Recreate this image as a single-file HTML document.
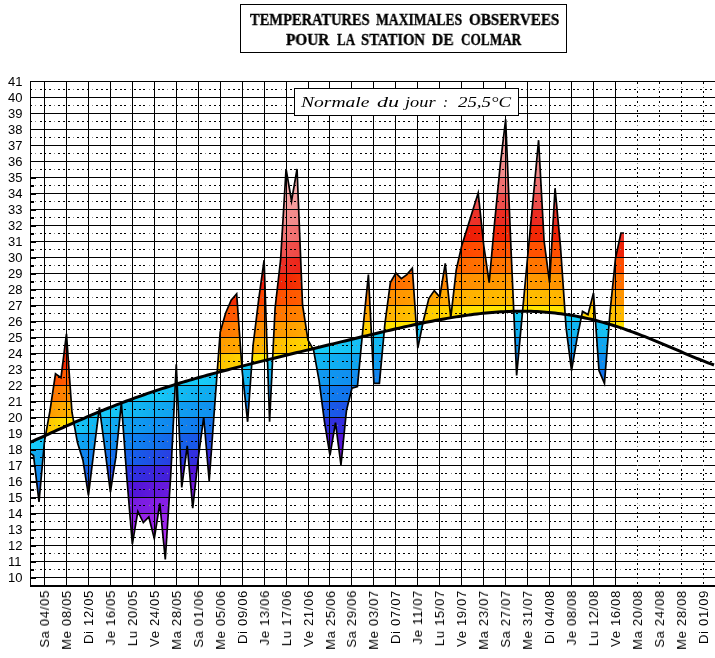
<!DOCTYPE html>
<html><head><meta charset="utf-8"><title>Temperatures maximales observees - Colmar</title><style>
html,body{margin:0;padding:0;background:#fff;}
body{width:715px;height:658px;position:relative;overflow:hidden;font-family:"Liberation Sans",sans-serif;}
#title{position:absolute;left:240px;top:4px;width:325px;height:47px;border:1px solid #000;}
.tw{position:absolute;font-family:"Liberation Serif",serif;font-weight:bold;font-size:16px;-webkit-text-stroke:0.35px #000;line-height:normal;white-space:nowrap;transform-origin:0 0;color:#000;}
.nw{position:absolute;font-family:"Liberation Serif",serif;font-style:italic;font-size:15px;line-height:normal;white-space:nowrap;transform-origin:0 0;color:#000;}
#norm{position:absolute;left:294px;top:88px;width:223px;height:26px;border:1px solid #000;background:#fff;}
.yl{position:absolute;left:8px;font-size:13px;line-height:13px;color:#000;}
.yl,.xl,.tw,.nw{will-change:transform;}
.xl{position:absolute;font-size:13px;line-height:13px;width:13px;letter-spacing:0.7px;color:#000;white-space:nowrap;writing-mode:vertical-rl;transform:rotate(180deg);}
</style></head><body>
<svg width="715" height="658" viewBox="0 0 715 658" style="position:absolute;left:0;top:0">
<defs>
<clipPath id="cw"><path d="M30.00,442.37 L30.50,442.15 L31.00,441.93 L31.50,441.71 L32.00,441.49 L32.50,441.27 L33.00,441.04 L33.50,440.82 L33.53,440.81 L34.00,440.60 L34.50,440.38 L35.00,440.15 L35.50,439.93 L36.00,439.71 L36.50,439.48 L37.00,439.26 L37.50,439.03 L38.00,438.81 L38.50,438.59 L39.00,438.36 L39.02,438.35 L39.50,438.14 L40.00,437.91 L40.50,437.69 L41.00,437.46 L41.50,437.24 L42.00,437.01 L42.50,436.79 L43.00,436.56 L43.50,436.34 L44.00,436.11 L44.50,435.89 L44.51,435.88 L45.00,435.66 L45.50,435.43 L45.52,435.43 L46.00,432.75 L46.50,429.98 L47.00,427.21 L47.50,424.44 L48.00,421.67 L48.50,418.91 L49.00,416.14 L49.50,413.37 L50.00,410.60 L50.00,410.60 L50.50,407.25 L51.00,403.90 L51.50,400.54 L52.00,397.19 L52.50,393.84 L53.00,390.49 L53.50,387.14 L54.00,383.79 L54.50,380.43 L55.00,377.08 L55.49,373.80 L55.50,373.81 L56.00,374.17 L56.50,374.54 L57.00,374.90 L57.50,375.26 L58.00,375.63 L58.50,375.99 L59.00,376.36 L59.50,376.72 L60.00,377.09 L60.50,377.45 L60.98,377.80 L61.00,377.63 L61.50,373.63 L62.00,369.62 L62.50,365.61 L63.00,361.61 L63.50,357.60 L64.00,353.59 L64.50,349.58 L65.00,345.58 L65.50,341.57 L66.00,337.56 L66.47,333.80 L66.50,334.24 L67.00,341.38 L67.50,348.52 L68.00,355.66 L68.50,362.80 L69.00,369.94 L69.50,377.08 L70.00,384.22 L70.50,391.36 L71.00,398.50 L71.50,405.65 L71.96,412.20 L72.00,412.43 L72.50,415.20 L73.00,417.96 L73.50,420.73 L73.86,422.71 L74.00,422.65 L74.50,422.43 L75.00,422.20 L75.50,421.98 L76.00,421.76 L76.50,421.55 L77.00,421.33 L77.45,421.13 L77.50,421.11 L78.00,420.89 L78.50,420.67 L79.00,420.45 L79.50,420.23 L80.00,420.01 L80.50,419.80 L81.00,419.58 L81.50,419.36 L82.00,419.14 L82.50,418.93 L82.94,418.74 L83.00,418.71 L83.50,418.50 L84.00,418.28 L84.50,418.06 L85.00,417.85 L85.50,417.63 L86.00,417.42 L86.50,417.20 L87.00,416.99 L87.50,416.77 L88.00,416.56 L88.43,416.38 L88.50,416.35 L89.00,416.13 L89.50,415.92 L90.00,415.71 L90.50,415.50 L91.00,415.28 L91.50,415.07 L92.00,414.86 L92.50,414.65 L93.00,414.44 L93.50,414.23 L93.92,414.05 L94.00,414.02 L94.50,413.81 L95.00,413.60 L95.50,413.39 L96.00,413.18 L96.50,412.97 L97.00,412.76 L97.50,412.56 L98.00,412.35 L98.50,412.14 L98.82,412.01 L99.00,410.61 L99.41,407.40 L99.50,408.10 L99.95,411.54 L100.00,411.52 L100.50,411.31 L101.00,411.11 L101.50,410.90 L102.00,410.70 L102.50,410.49 L103.00,410.29 L103.50,410.08 L104.00,409.88 L104.50,409.68 L104.90,409.52 L105.00,409.47 L105.50,409.27 L106.00,409.07 L106.50,408.87 L107.00,408.67 L107.50,408.46 L108.00,408.26 L108.50,408.06 L109.00,407.86 L109.50,407.66 L110.00,407.46 L110.39,407.31 L110.50,407.26 L111.00,407.06 L111.50,406.87 L112.00,406.67 L112.50,406.47 L113.00,406.27 L113.50,406.07 L114.00,405.88 L114.50,405.68 L115.00,405.49 L115.50,405.29 L115.88,405.14 L116.00,405.09 L116.50,404.90 L117.00,404.70 L117.50,404.51 L118.00,404.32 L118.50,404.12 L119.00,403.93 L119.50,403.74 L120.00,403.54 L120.50,403.35 L121.00,403.16 L121.32,403.04 L121.37,402.60 L121.40,403.01 L121.50,402.97 L122.00,402.78 L122.50,402.59 L123.00,402.40 L123.50,402.21 L124.00,402.02 L124.50,401.83 L125.00,401.64 L125.50,401.45 L126.00,401.26 L126.50,401.08 L126.86,400.94 L127.00,400.89 L127.50,400.70 L128.00,400.52 L128.50,400.33 L129.00,400.14 L129.50,399.96 L130.00,399.77 L130.50,399.59 L131.00,399.40 L131.50,399.22 L132.00,399.04 L132.35,398.91 L132.50,398.85 L133.00,398.67 L133.50,398.49 L134.00,398.31 L134.50,398.12 L135.00,397.94 L135.50,397.76 L136.00,397.58 L136.50,397.40 L137.00,397.22 L137.50,397.04 L137.84,396.92 L138.00,396.86 L138.50,396.68 L139.00,396.51 L139.50,396.33 L140.00,396.15 L140.50,395.97 L141.00,395.80 L141.50,395.62 L142.00,395.44 L142.50,395.27 L143.00,395.09 L143.33,394.98 L143.50,394.92 L144.00,394.74 L144.50,394.57 L145.00,394.39 L145.50,394.22 L146.00,394.05 L146.50,393.87 L147.00,393.70 L147.50,393.53 L148.00,393.36 L148.50,393.18 L148.82,393.08 L149.00,393.01 L149.50,392.84 L150.00,392.67 L150.50,392.50 L151.00,392.33 L151.50,392.16 L152.00,391.99 L152.50,391.82 L153.00,391.66 L153.50,391.49 L154.00,391.32 L154.31,391.22 L154.50,391.15 L155.00,390.98 L155.50,390.82 L156.00,390.65 L156.50,390.49 L157.00,390.32 L157.50,390.15 L158.00,389.99 L158.50,389.83 L159.00,389.66 L159.50,389.50 L159.80,389.40 L160.00,389.33 L160.50,389.17 L161.00,389.01 L161.50,388.84 L162.00,388.68 L162.50,388.52 L163.00,388.36 L163.50,388.20 L164.00,388.04 L164.50,387.88 L165.00,387.72 L165.29,387.62 L165.50,387.56 L166.00,387.40 L166.50,387.24 L167.00,387.08 L167.50,386.92 L168.00,386.76 L168.50,386.60 L169.00,386.44 L169.50,386.29 L170.00,386.13 L170.50,385.97 L170.78,385.89 L171.00,385.82 L171.50,385.66 L172.00,385.50 L172.50,385.35 L173.00,385.19 L173.50,385.04 L174.00,384.88 L174.50,384.73 L175.00,384.58 L175.26,384.50 L175.50,379.59 L176.00,369.53 L176.27,364.20 L176.50,369.47 L177.00,380.69 L177.14,383.92 L177.50,383.81 L178.00,383.66 L178.50,383.51 L179.00,383.35 L179.50,383.20 L180.00,383.05 L180.50,382.90 L181.00,382.75 L181.50,382.60 L181.75,382.52 L182.00,382.45 L182.50,382.30 L183.00,382.15 L183.50,382.00 L184.00,381.85 L184.50,381.71 L185.00,381.56 L185.50,381.41 L186.00,381.26 L186.50,381.11 L187.00,380.97 L187.24,380.90 L187.50,380.82 L188.00,380.67 L188.50,380.53 L189.00,380.38 L189.50,380.24 L190.00,380.09 L190.50,379.95 L191.00,379.80 L191.50,379.66 L192.00,379.51 L192.50,379.37 L192.73,379.30 L193.00,379.22 L193.50,379.08 L194.00,378.94 L194.50,378.79 L195.00,378.65 L195.50,378.51 L196.00,378.36 L196.50,378.22 L197.00,378.08 L197.50,377.94 L198.00,377.80 L198.22,377.73 L198.50,377.65 L199.00,377.51 L199.50,377.37 L200.00,377.23 L200.50,377.09 L201.00,376.95 L201.50,376.81 L202.00,376.67 L202.50,376.53 L203.00,376.39 L203.50,376.25 L203.71,376.20 L204.00,376.12 L204.50,375.98 L205.00,375.84 L205.50,375.70 L206.00,375.56 L206.50,375.43 L207.00,375.29 L207.50,375.15 L208.00,375.01 L208.50,374.88 L209.00,374.74 L209.20,374.68 L209.50,374.60 L210.00,374.47 L210.50,374.33 L211.00,374.20 L211.50,374.06 L212.00,373.92 L212.50,373.79 L213.00,373.65 L213.50,373.52 L214.00,373.38 L214.50,373.25 L214.69,373.20 L215.00,373.12 L215.50,372.98 L216.00,372.85 L216.50,372.71 L217.00,372.58 L217.18,372.53 L217.50,368.18 L218.00,361.47 L218.50,354.77 L219.00,348.07 L219.50,341.36 L220.00,334.66 L220.18,332.20 L220.50,331.09 L221.00,329.34 L221.50,327.60 L222.00,325.85 L222.50,324.10 L223.00,322.35 L223.50,320.60 L224.00,318.85 L224.50,317.10 L225.00,315.36 L225.50,313.61 L225.67,313.00 L226.00,312.24 L226.50,311.07 L227.00,309.91 L227.50,308.74 L228.00,307.58 L228.50,306.41 L229.00,305.24 L229.50,304.08 L230.00,302.91 L230.50,301.75 L231.00,300.58 L231.16,300.20 L231.50,299.81 L232.00,299.22 L232.50,298.64 L233.00,298.06 L233.50,297.48 L234.00,296.89 L234.50,296.31 L235.00,295.73 L235.50,295.14 L236.00,294.56 L236.50,293.98 L236.65,293.80 L237.00,298.65 L237.50,305.65 L238.00,312.64 L238.50,319.64 L239.00,326.63 L239.50,333.63 L240.00,340.62 L240.50,347.62 L241.00,354.61 L241.50,361.61 L241.82,366.14 L242.00,366.10 L242.14,366.06 L242.50,365.97 L243.00,365.85 L243.50,365.72 L244.00,365.59 L244.50,365.47 L245.00,365.34 L245.50,365.22 L246.00,365.09 L246.50,364.96 L247.00,364.84 L247.50,364.71 L247.63,364.68 L248.00,364.59 L248.50,364.46 L249.00,364.34 L249.50,364.21 L250.00,364.09 L250.50,363.96 L251.00,363.84 L251.50,363.71 L251.79,363.64 L252.00,360.70 L252.50,353.71 L253.00,346.71 L253.12,345.00 L253.50,341.92 L254.00,337.84 L254.50,333.76 L255.00,329.68 L255.50,325.60 L256.00,321.52 L256.50,317.44 L257.00,313.36 L257.50,309.28 L258.00,305.20 L258.50,301.12 L258.61,300.20 L259.00,297.37 L259.50,293.73 L260.00,290.09 L260.50,286.45 L261.00,282.80 L261.50,279.16 L262.00,275.52 L262.50,271.87 L263.00,268.23 L263.50,264.59 L264.00,260.94 L264.10,260.20 L264.50,271.92 L265.00,286.63 L265.50,301.35 L266.00,316.07 L266.50,330.79 L267.00,345.51 L267.48,359.77 L267.50,359.76 L268.00,359.64 L268.50,359.52 L269.00,359.39 L269.50,359.27 L269.59,359.25 L270.00,359.15 L270.50,359.03 L271.00,358.90 L271.50,358.78 L272.00,358.66 L272.50,358.54 L272.65,358.50 L273.00,351.27 L273.50,340.93 L274.00,330.58 L274.50,320.24 L275.00,309.89 L275.08,308.20 L275.50,304.54 L276.00,300.17 L276.50,295.80 L277.00,291.43 L277.50,287.05 L278.00,282.68 L278.50,278.31 L279.00,273.94 L279.50,269.57 L280.00,265.20 L280.50,260.82 L280.57,260.20 L281.00,253.08 L281.50,244.77 L282.00,236.47 L282.50,228.16 L283.00,219.85 L283.50,211.55 L284.00,203.24 L284.50,194.94 L285.00,186.63 L285.50,178.32 L286.00,170.02 L286.06,169.00 L286.50,171.56 L287.00,174.47 L287.50,177.39 L288.00,180.30 L288.50,183.22 L289.00,186.13 L289.50,189.04 L290.00,191.96 L290.50,194.87 L291.00,197.79 L291.50,200.70 L291.55,201.00 L292.00,198.38 L292.50,195.47 L293.00,192.55 L293.50,189.64 L294.00,186.72 L294.50,183.81 L295.00,180.90 L295.50,177.98 L296.00,175.07 L296.50,172.15 L297.00,169.24 L297.04,169.00 L297.50,180.38 L298.00,192.76 L298.50,205.15 L299.00,217.54 L299.50,229.92 L300.00,242.31 L300.50,254.70 L301.00,267.08 L301.50,279.47 L302.00,291.86 L302.50,304.24 L302.53,305.00 L303.00,308.01 L303.50,311.22 L304.00,314.42 L304.50,317.63 L305.00,320.83 L305.50,324.04 L306.00,327.25 L306.50,330.45 L307.00,333.66 L307.50,336.86 L308.00,340.07 L308.02,340.20 L308.50,341.04 L309.00,341.91 L309.50,342.79 L310.00,343.66 L310.50,344.54 L311.00,345.41 L311.50,346.28 L312.00,347.16 L312.50,348.03 L312.89,348.72 L313.00,348.69 L313.50,348.57 L313.51,348.57 L314.00,348.45 L314.50,348.33 L315.00,348.21 L315.50,348.09 L316.00,347.97 L316.50,347.85 L317.00,347.72 L317.50,347.60 L318.00,347.48 L318.50,347.36 L319.00,347.24 L319.50,347.12 L320.00,346.99 L320.50,346.87 L321.00,346.75 L321.50,346.63 L322.00,346.51 L322.50,346.39 L323.00,346.27 L323.50,346.14 L324.00,346.02 L324.49,345.90 L324.50,345.90 L325.00,345.78 L325.50,345.66 L326.00,345.54 L326.50,345.42 L327.00,345.29 L327.50,345.17 L328.00,345.05 L328.50,344.93 L329.00,344.81 L329.50,344.69 L329.98,344.57 L330.00,344.56 L330.50,344.44 L331.00,344.32 L331.50,344.20 L332.00,344.08 L332.50,343.96 L333.00,343.84 L333.50,343.71 L334.00,343.59 L334.50,343.47 L335.00,343.35 L335.47,343.24 L335.50,343.23 L336.00,343.11 L336.50,342.99 L337.00,342.86 L337.50,342.74 L338.00,342.62 L338.50,342.50 L339.00,342.38 L339.50,342.26 L340.00,342.14 L340.50,342.01 L340.96,341.90 L341.00,341.89 L341.50,341.77 L342.00,341.65 L342.50,341.53 L343.00,341.41 L343.50,341.29 L344.00,341.16 L344.50,341.04 L345.00,340.92 L345.50,340.80 L346.00,340.68 L346.45,340.57 L346.50,340.56 L347.00,340.44 L347.50,340.32 L348.00,340.19 L348.50,340.07 L349.00,339.95 L349.50,339.83 L350.00,339.71 L350.50,339.59 L351.00,339.47 L351.50,339.35 L351.94,339.24 L352.00,339.23 L352.50,339.10 L353.00,338.98 L353.50,338.86 L354.00,338.74 L354.50,338.62 L355.00,338.50 L355.50,338.38 L356.00,338.26 L356.50,338.14 L357.00,338.02 L357.43,337.91 L357.50,337.90 L358.00,337.78 L358.50,337.66 L359.00,337.53 L359.50,337.41 L360.00,337.29 L360.50,337.17 L361.00,337.05 L361.50,336.93 L362.00,336.81 L362.18,336.77 L362.50,333.39 L362.92,329.00 L363.00,328.19 L363.50,323.24 L364.00,318.28 L364.50,313.33 L365.00,308.37 L365.50,303.42 L366.00,298.46 L366.50,293.51 L367.00,288.55 L367.50,283.60 L368.00,278.64 L368.41,274.60 L368.50,276.42 L369.00,286.33 L369.50,296.24 L370.00,306.15 L370.50,316.06 L371.00,325.97 L371.43,334.55 L371.50,334.54 L372.00,334.42 L372.50,334.30 L373.00,334.18 L373.50,334.06 L373.90,333.97 L374.00,333.94 L374.50,333.83 L375.00,333.71 L375.50,333.59 L376.00,333.47 L376.50,333.35 L377.00,333.23 L377.50,333.11 L378.00,333.00 L378.50,332.88 L379.00,332.76 L379.39,332.67 L379.50,332.64 L380.00,332.53 L380.50,332.41 L381.00,332.29 L381.50,332.17 L382.00,332.06 L382.50,331.94 L383.00,331.82 L383.50,331.70 L384.00,331.59 L384.20,331.54 L384.50,328.27 L384.88,324.20 L385.00,323.27 L385.50,319.48 L386.00,315.69 L386.50,311.91 L387.00,308.12 L387.50,304.33 L388.00,300.54 L388.50,296.75 L389.00,292.96 L389.50,289.17 L390.00,285.38 L390.37,282.60 L390.50,282.37 L391.00,281.49 L391.50,280.62 L392.00,279.75 L392.50,278.87 L393.00,278.00 L393.50,277.12 L394.00,276.25 L394.50,275.37 L395.00,274.50 L395.50,273.62 L395.86,273.00 L396.00,273.15 L396.50,273.66 L397.00,274.17 L397.50,274.68 L398.00,275.19 L398.50,275.70 L399.00,276.21 L399.50,276.72 L400.00,277.23 L400.50,277.74 L401.00,278.25 L401.35,278.60 L401.50,278.49 L402.00,278.12 L402.50,277.76 L403.00,277.40 L403.50,277.03 L404.00,276.67 L404.50,276.30 L405.00,275.94 L405.50,275.57 L406.00,275.21 L406.50,274.85 L406.84,274.60 L407.00,274.41 L407.50,273.83 L408.00,273.24 L408.50,272.66 L409.00,272.08 L409.50,271.50 L410.00,270.91 L410.50,270.33 L411.00,269.75 L411.50,269.16 L412.00,268.58 L412.33,268.20 L412.50,270.73 L413.00,278.01 L413.50,285.30 L414.00,292.59 L414.50,299.87 L415.00,307.16 L415.50,314.44 L416.00,321.73 L416.18,324.38 L416.50,324.31 L417.00,324.20 L417.50,324.10 L417.82,324.03 L418.00,323.99 L418.50,323.89 L419.00,323.78 L419.50,323.68 L420.00,323.57 L420.50,323.47 L421.00,323.37 L421.50,323.26 L422.00,323.16 L422.50,323.06 L422.91,322.97 L423.00,322.52 L423.31,321.00 L423.50,320.21 L424.00,318.17 L424.50,316.13 L425.00,314.09 L425.50,312.05 L426.00,310.01 L426.50,307.97 L427.00,305.93 L427.50,303.89 L428.00,301.85 L428.50,299.81 L428.80,298.60 L429.00,298.30 L429.50,297.57 L430.00,296.85 L430.50,296.12 L431.00,295.39 L431.50,294.66 L432.00,293.93 L432.50,293.20 L433.00,292.47 L433.50,291.75 L434.00,291.02 L434.29,290.60 L434.50,290.85 L435.00,291.43 L435.50,292.02 L436.00,292.60 L436.50,293.18 L437.00,293.76 L437.50,294.35 L438.00,294.93 L438.50,295.51 L439.00,296.10 L439.50,296.68 L439.78,297.00 L440.00,295.63 L440.50,292.57 L441.00,289.51 L441.50,286.45 L442.00,283.39 L442.50,280.33 L443.00,277.27 L443.50,274.21 L444.00,271.14 L444.50,268.08 L445.00,265.02 L445.27,263.40 L445.50,265.72 L446.00,270.68 L446.50,275.63 L447.00,280.59 L447.50,285.54 L448.00,290.50 L448.50,295.45 L449.00,300.41 L449.50,305.36 L450.00,310.32 L450.50,315.27 L450.75,317.75 L450.76,317.75 L450.76,317.75 L451.00,315.66 L451.50,311.29 L452.00,306.92 L452.50,302.54 L453.00,298.17 L453.50,293.80 L454.00,289.43 L454.50,285.06 L455.00,280.69 L455.50,276.31 L456.00,271.94 L456.24,269.80 L456.50,268.69 L457.00,266.50 L457.50,264.31 L458.00,262.13 L458.50,259.94 L459.00,257.76 L459.50,255.57 L460.00,253.38 L460.50,251.20 L461.00,249.01 L461.50,246.83 L461.73,245.80 L462.00,244.95 L462.50,243.35 L463.00,241.74 L463.50,240.14 L464.00,238.54 L464.50,236.93 L465.00,235.33 L465.50,233.73 L466.00,232.13 L466.50,230.52 L467.00,228.92 L467.22,228.20 L467.50,227.32 L468.00,225.71 L468.50,224.11 L469.00,222.51 L469.50,220.91 L470.00,219.30 L470.50,217.70 L471.00,216.10 L471.50,214.49 L472.00,212.89 L472.50,211.29 L472.71,210.60 L473.00,209.68 L473.50,208.08 L474.00,206.48 L474.50,204.88 L475.00,203.27 L475.50,201.67 L476.00,200.07 L476.50,198.46 L477.00,196.86 L477.50,195.26 L478.00,193.65 L478.20,193.00 L478.50,195.80 L479.00,200.54 L479.50,205.27 L480.00,210.01 L480.50,214.75 L481.00,219.48 L481.50,224.22 L482.00,228.95 L482.50,233.69 L483.00,238.43 L483.50,243.16 L483.69,245.00 L484.00,247.10 L484.50,250.52 L485.00,253.94 L485.50,257.37 L486.00,260.79 L486.50,264.22 L487.00,267.64 L487.50,271.07 L488.00,274.49 L488.50,277.92 L489.00,281.34 L489.18,282.60 L489.50,279.10 L490.00,273.56 L490.50,268.02 L491.00,262.49 L491.50,256.95 L492.00,251.41 L492.50,245.87 L493.00,240.34 L493.50,234.80 L494.00,229.26 L494.50,223.72 L494.67,221.80 L495.00,218.47 L495.50,213.37 L496.00,208.27 L496.50,203.17 L497.00,198.07 L497.50,192.97 L498.00,187.87 L498.50,182.77 L499.00,177.67 L499.50,172.57 L500.00,167.47 L500.16,165.80 L500.50,162.96 L501.00,158.73 L501.50,154.50 L502.00,150.28 L502.50,146.05 L503.00,141.82 L503.50,137.60 L504.00,133.37 L504.50,129.15 L505.00,124.92 L505.50,120.69 L505.65,119.40 L506.00,127.79 L506.50,139.88 L507.00,151.98 L507.50,164.07 L508.00,176.17 L508.50,188.26 L509.00,200.36 L509.50,212.46 L510.00,224.55 L510.50,236.65 L511.00,248.74 L511.14,252.20 L511.50,260.21 L512.00,271.43 L512.50,282.65 L513.00,293.87 L513.50,305.09 L513.78,311.31 L514.00,311.30 L514.50,311.29 L515.00,311.28 L515.50,311.27 L516.00,311.26 L516.50,311.26 L516.63,311.26 L517.00,311.25 L517.50,311.24 L518.00,311.24 L518.50,311.23 L519.00,311.23 L519.50,311.23 L520.00,311.22 L520.50,311.22 L521.00,311.22 L521.50,311.22 L522.00,311.22 L522.12,311.22 L522.50,311.22 L522.58,311.22 L523.00,306.74 L523.50,301.35 L524.00,295.95 L524.50,290.56 L525.00,285.17 L525.50,279.78 L526.00,274.39 L526.50,269.00 L527.00,263.60 L527.50,258.21 L527.61,257.00 L528.00,252.93 L528.50,247.69 L529.00,242.44 L529.50,237.19 L530.00,231.95 L530.50,226.70 L531.00,221.46 L531.50,216.21 L532.00,210.96 L532.50,205.72 L533.00,200.47 L533.10,199.40 L533.50,195.11 L534.00,189.72 L534.50,184.33 L535.00,178.93 L535.50,173.54 L536.00,168.15 L536.50,162.76 L537.00,157.37 L537.50,151.98 L538.00,146.58 L538.50,141.19 L538.59,140.20 L539.00,147.69 L539.50,156.87 L540.00,166.05 L540.50,175.23 L541.00,184.41 L541.50,193.59 L542.00,202.78 L542.50,211.96 L543.00,221.14 L543.50,230.32 L544.00,239.50 L544.08,241.00 L544.50,244.17 L545.00,247.96 L545.50,251.75 L546.00,255.54 L546.50,259.32 L547.00,263.11 L547.50,266.90 L548.00,270.69 L548.50,274.48 L549.00,278.27 L549.50,282.06 L549.57,282.60 L550.00,275.23 L550.50,266.64 L551.00,258.04 L551.50,249.44 L552.00,240.84 L552.50,232.24 L553.00,223.65 L553.50,215.05 L554.00,206.45 L554.50,197.85 L555.00,189.26 L555.06,188.20 L555.50,192.93 L556.00,198.32 L556.50,203.71 L557.00,209.11 L557.50,214.50 L558.00,219.89 L558.50,225.28 L559.00,230.67 L559.50,236.06 L560.00,241.46 L560.50,246.85 L560.55,247.40 L561.00,253.94 L561.50,261.23 L562.00,268.51 L562.50,275.80 L563.00,283.09 L563.50,290.37 L564.00,297.66 L564.50,304.94 L565.00,312.23 L565.15,314.34 L565.50,314.40 L566.00,314.47 L566.04,314.48 L566.50,314.55 L567.00,314.62 L567.50,314.70 L568.00,314.78 L568.50,314.85 L569.00,314.93 L569.50,315.01 L570.00,315.10 L570.50,315.18 L571.00,315.26 L571.50,315.35 L571.53,315.35 L572.00,315.43 L572.50,315.52 L573.00,315.60 L573.50,315.69 L574.00,315.78 L574.50,315.87 L575.00,315.96 L575.50,316.05 L576.00,316.14 L576.50,316.23 L577.00,316.33 L577.02,316.33 L577.50,316.42 L578.00,316.52 L578.50,316.61 L579.00,316.71 L579.50,316.81 L580.00,316.91 L580.50,317.01 L581.00,317.11 L581.34,317.18 L581.50,316.41 L582.00,313.93 L582.50,311.45 L582.51,311.40 L583.00,311.69 L583.50,311.98 L584.00,312.27 L584.50,312.56 L585.00,312.85 L585.50,313.14 L586.00,313.43 L586.50,313.73 L587.00,314.02 L587.50,314.31 L588.00,314.60 L588.00,314.60 L588.50,312.63 L589.00,310.67 L589.50,308.70 L590.00,306.73 L590.50,304.76 L591.00,302.80 L591.50,300.83 L592.00,298.86 L592.50,296.90 L593.00,294.93 L593.49,293.00 L593.50,293.14 L594.00,300.21 L594.50,307.28 L595.00,314.34 L595.43,320.39 L595.50,320.41 L596.00,320.54 L596.50,320.67 L597.00,320.79 L597.50,320.92 L598.00,321.05 L598.50,321.19 L598.98,321.31 L599.00,321.32 L599.50,321.45 L600.00,321.58 L600.50,321.72 L601.00,321.85 L601.50,321.99 L602.00,322.13 L602.50,322.26 L603.00,322.40 L603.50,322.54 L604.00,322.68 L604.47,322.82 L604.50,322.82 L605.00,322.97 L605.50,323.11 L606.00,323.25 L606.50,323.40 L607.00,323.54 L607.50,323.69 L608.00,323.83 L608.50,323.98 L609.00,324.13 L609.09,324.16 L609.50,318.89 L609.96,313.00 L610.00,312.60 L610.50,307.64 L611.00,302.69 L611.50,297.73 L612.00,292.78 L612.50,287.82 L613.00,282.87 L613.50,277.92 L614.00,272.96 L614.50,268.01 L615.00,263.05 L615.45,258.60 L615.50,258.36 L616.00,256.03 L616.50,253.70 L617.00,251.37 L617.50,249.04 L618.00,246.71 L618.50,244.37 L619.00,242.04 L619.50,239.71 L620.00,237.38 L620.50,235.05 L620.94,233.00 L621.00,233.00 L621.50,233.00 L622.00,233.00 L622.50,233.00 L623.00,233.00 L623.50,233.00 L624.00,233.00 L624.00,328.94 L623.50,328.77 L623.00,328.60 L622.50,328.43 L622.00,328.26 L621.50,328.09 L621.00,327.93 L620.94,327.91 L620.50,327.76 L620.00,327.59 L619.50,327.43 L619.00,327.26 L618.50,327.10 L618.00,326.94 L617.50,326.77 L617.00,326.61 L616.50,326.45 L616.00,326.29 L615.50,326.13 L615.45,326.12 L615.00,325.97 L614.50,325.82 L614.00,325.66 L613.50,325.50 L613.00,325.35 L612.50,325.19 L612.00,325.04 L611.50,324.89 L611.00,324.73 L610.50,324.58 L610.00,324.43 L609.96,324.42 L609.50,324.28 L609.09,324.16 L609.00,324.13 L608.50,323.98 L608.00,323.83 L607.50,323.69 L607.00,323.54 L606.50,323.40 L606.00,323.25 L605.50,323.11 L605.00,322.97 L604.50,322.82 L604.47,322.82 L604.00,322.68 L603.50,322.54 L603.00,322.40 L602.50,322.26 L602.00,322.13 L601.50,321.99 L601.00,321.85 L600.50,321.72 L600.00,321.58 L599.50,321.45 L599.00,321.32 L598.98,321.31 L598.50,321.19 L598.00,321.05 L597.50,320.92 L597.00,320.79 L596.50,320.67 L596.00,320.54 L595.50,320.41 L595.43,320.39 L595.00,320.29 L594.50,320.16 L594.00,320.04 L593.50,319.91 L593.49,319.91 L593.00,319.79 L592.50,319.67 L592.00,319.55 L591.50,319.43 L591.00,319.31 L590.50,319.19 L590.00,319.07 L589.50,318.96 L589.00,318.84 L588.50,318.73 L588.00,318.61 L588.00,318.61 L587.50,318.50 L587.00,318.39 L586.50,318.27 L586.00,318.16 L585.50,318.05 L585.00,317.95 L584.50,317.84 L584.00,317.73 L583.50,317.63 L583.00,317.52 L582.51,317.42 L582.50,317.42 L582.00,317.31 L581.50,317.21 L581.34,317.18 L581.00,317.11 L580.50,317.01 L580.00,316.91 L579.50,316.81 L579.00,316.71 L578.50,316.61 L578.00,316.52 L577.50,316.42 L577.02,316.33 L577.00,316.33 L576.50,316.23 L576.00,316.14 L575.50,316.05 L575.00,315.96 L574.50,315.87 L574.00,315.78 L573.50,315.69 L573.00,315.60 L572.50,315.52 L572.00,315.43 L571.53,315.35 L571.50,315.35 L571.00,315.26 L570.50,315.18 L570.00,315.10 L569.50,315.01 L569.00,314.93 L568.50,314.85 L568.00,314.78 L567.50,314.70 L567.00,314.62 L566.50,314.55 L566.04,314.48 L566.00,314.47 L565.50,314.40 L565.15,314.34 L565.00,314.32 L564.50,314.25 L564.00,314.18 L563.50,314.11 L563.00,314.04 L562.50,313.97 L562.00,313.90 L561.50,313.83 L561.00,313.77 L560.55,313.71 L560.50,313.70 L560.00,313.64 L559.50,313.57 L559.00,313.51 L558.50,313.45 L558.00,313.39 L557.50,313.33 L557.00,313.27 L556.50,313.21 L556.00,313.15 L555.50,313.10 L555.06,313.05 L555.00,313.04 L554.50,312.99 L554.00,312.93 L553.50,312.88 L553.00,312.83 L552.50,312.77 L552.00,312.72 L551.50,312.67 L551.00,312.63 L550.50,312.58 L550.00,312.53 L549.57,312.49 L549.50,312.48 L549.00,312.44 L548.50,312.39 L548.00,312.35 L547.50,312.31 L547.00,312.27 L546.50,312.22 L546.00,312.18 L545.50,312.14 L545.00,312.11 L544.50,312.07 L544.08,312.04 L544.00,312.03 L543.50,312.00 L543.00,311.96 L542.50,311.93 L542.00,311.89 L541.50,311.86 L541.00,311.83 L540.50,311.80 L540.00,311.77 L539.50,311.74 L539.00,311.71 L538.59,311.69 L538.50,311.68 L538.00,311.65 L537.50,311.63 L537.00,311.60 L536.50,311.58 L536.00,311.55 L535.50,311.53 L535.00,311.51 L534.50,311.49 L534.00,311.47 L533.50,311.45 L533.10,311.43 L533.00,311.43 L532.50,311.41 L532.00,311.40 L531.50,311.38 L531.00,311.36 L530.50,311.35 L530.00,311.34 L529.50,311.32 L529.00,311.31 L528.50,311.30 L528.00,311.29 L527.61,311.28 L527.50,311.28 L527.00,311.27 L526.50,311.26 L526.00,311.25 L525.50,311.25 L525.00,311.24 L524.50,311.24 L524.00,311.23 L523.50,311.23 L523.00,311.22 L522.58,311.22 L522.50,311.22 L522.12,311.22 L522.00,311.22 L521.50,311.22 L521.00,311.22 L520.50,311.22 L520.00,311.22 L519.50,311.23 L519.00,311.23 L518.50,311.23 L518.00,311.24 L517.50,311.24 L517.00,311.25 L516.63,311.26 L516.50,311.26 L516.00,311.26 L515.50,311.27 L515.00,311.28 L514.50,311.29 L514.00,311.30 L513.78,311.31 L513.50,311.31 L513.00,311.33 L512.50,311.34 L512.00,311.35 L511.50,311.37 L511.14,311.38 L511.00,311.38 L510.50,311.40 L510.00,311.42 L509.50,311.43 L509.00,311.45 L508.50,311.47 L508.00,311.49 L507.50,311.51 L507.00,311.53 L506.50,311.55 L506.00,311.57 L505.65,311.59 L505.50,311.60 L505.00,311.62 L504.50,311.64 L504.00,311.67 L503.50,311.70 L503.00,311.72 L502.50,311.75 L502.00,311.78 L501.50,311.80 L501.00,311.83 L500.50,311.86 L500.16,311.88 L500.00,311.89 L499.50,311.92 L499.00,311.96 L498.50,311.99 L498.00,312.02 L497.50,312.06 L497.00,312.09 L496.50,312.13 L496.00,312.16 L495.50,312.20 L495.00,312.23 L494.67,312.26 L494.50,312.27 L494.00,312.31 L493.50,312.35 L493.00,312.39 L492.50,312.43 L492.00,312.47 L491.50,312.51 L491.00,312.55 L490.50,312.60 L490.00,312.64 L489.50,312.68 L489.18,312.71 L489.00,312.73 L488.50,312.77 L488.00,312.82 L487.50,312.86 L487.00,312.91 L486.50,312.96 L486.00,313.01 L485.50,313.06 L485.00,313.11 L484.50,313.16 L484.00,313.21 L483.69,313.24 L483.50,313.26 L483.00,313.31 L482.50,313.36 L482.00,313.41 L481.50,313.47 L481.00,313.52 L480.50,313.58 L480.00,313.63 L479.50,313.69 L479.00,313.74 L478.50,313.80 L478.20,313.83 L478.00,313.86 L477.50,313.92 L477.00,313.97 L476.50,314.03 L476.00,314.09 L475.50,314.15 L475.00,314.21 L474.50,314.27 L474.00,314.34 L473.50,314.40 L473.00,314.46 L472.71,314.50 L472.50,314.52 L472.00,314.59 L471.50,314.65 L471.00,314.72 L470.50,314.78 L470.00,314.85 L469.50,314.91 L469.00,314.98 L468.50,315.05 L468.00,315.12 L467.50,315.19 L467.22,315.22 L467.00,315.25 L466.50,315.32 L466.00,315.39 L465.50,315.46 L465.00,315.54 L464.50,315.61 L464.00,315.68 L463.50,315.75 L463.00,315.82 L462.50,315.90 L462.00,315.97 L461.73,316.01 L461.50,316.04 L461.00,316.12 L460.50,316.19 L460.00,316.27 L459.50,316.35 L459.00,316.42 L458.50,316.50 L458.00,316.58 L457.50,316.65 L457.00,316.73 L456.50,316.81 L456.24,316.85 L456.00,316.89 L455.50,316.97 L455.00,317.05 L454.50,317.13 L454.00,317.21 L453.50,317.29 L453.00,317.38 L452.50,317.46 L452.00,317.54 L451.50,317.62 L451.00,317.71 L450.76,317.75 L450.76,317.75 L450.75,317.75 L450.50,317.79 L450.00,317.87 L449.50,317.96 L449.00,318.04 L448.50,318.13 L448.00,318.22 L447.50,318.30 L447.00,318.39 L446.50,318.48 L446.00,318.56 L445.50,318.65 L445.27,318.69 L445.00,318.74 L444.50,318.83 L444.00,318.92 L443.50,319.01 L443.00,319.09 L442.50,319.18 L442.00,319.28 L441.50,319.37 L441.00,319.46 L440.50,319.55 L440.00,319.64 L439.78,319.68 L439.50,319.73 L439.00,319.83 L438.50,319.92 L438.00,320.01 L437.50,320.10 L437.00,320.20 L436.50,320.29 L436.00,320.39 L435.50,320.48 L435.00,320.58 L434.50,320.67 L434.29,320.71 L434.00,320.77 L433.50,320.86 L433.00,320.96 L432.50,321.06 L432.00,321.16 L431.50,321.25 L431.00,321.35 L430.50,321.45 L430.00,321.55 L429.50,321.65 L429.00,321.74 L428.80,321.78 L428.50,321.84 L428.00,321.94 L427.50,322.04 L427.00,322.14 L426.50,322.24 L426.00,322.34 L425.50,322.45 L425.00,322.55 L424.50,322.65 L424.00,322.75 L423.50,322.85 L423.31,322.89 L423.00,322.95 L422.91,322.97 L422.50,323.06 L422.00,323.16 L421.50,323.26 L421.00,323.37 L420.50,323.47 L420.00,323.57 L419.50,323.68 L419.00,323.78 L418.50,323.89 L418.00,323.99 L417.82,324.03 L417.50,324.10 L417.00,324.20 L416.50,324.31 L416.18,324.38 L416.00,324.41 L415.50,324.52 L415.00,324.63 L414.50,324.73 L414.00,324.84 L413.50,324.95 L413.00,325.05 L412.50,325.16 L412.33,325.20 L412.00,325.27 L411.50,325.38 L411.00,325.49 L410.50,325.59 L410.00,325.70 L409.50,325.81 L409.00,325.92 L408.50,326.03 L408.00,326.14 L407.50,326.25 L407.00,326.36 L406.84,326.39 L406.50,326.47 L406.00,326.58 L405.50,326.69 L405.00,326.80 L404.50,326.91 L404.00,327.02 L403.50,327.13 L403.00,327.24 L402.50,327.35 L402.00,327.47 L401.50,327.58 L401.35,327.61 L401.00,327.69 L400.50,327.80 L400.00,327.91 L399.50,328.03 L399.00,328.14 L398.50,328.25 L398.00,328.37 L397.50,328.48 L397.00,328.59 L396.50,328.71 L396.00,328.82 L395.86,328.85 L395.50,328.93 L395.00,329.05 L394.50,329.16 L394.00,329.28 L393.50,329.39 L393.00,329.50 L392.50,329.62 L392.00,329.73 L391.50,329.85 L391.00,329.96 L390.50,330.08 L390.37,330.11 L390.00,330.19 L389.50,330.31 L389.00,330.42 L388.50,330.54 L388.00,330.66 L387.50,330.77 L387.00,330.89 L386.50,331.00 L386.00,331.12 L385.50,331.24 L385.00,331.35 L384.88,331.38 L384.50,331.47 L384.20,331.54 L384.00,331.59 L383.50,331.70 L383.00,331.82 L382.50,331.94 L382.00,332.06 L381.50,332.17 L381.00,332.29 L380.50,332.41 L380.00,332.53 L379.50,332.64 L379.39,332.67 L379.00,332.76 L378.50,332.88 L378.00,333.00 L377.50,333.11 L377.00,333.23 L376.50,333.35 L376.00,333.47 L375.50,333.59 L375.00,333.71 L374.50,333.83 L374.00,333.94 L373.90,333.97 L373.50,334.06 L373.00,334.18 L372.50,334.30 L372.00,334.42 L371.50,334.54 L371.43,334.55 L371.00,334.66 L370.50,334.78 L370.00,334.90 L369.50,335.02 L369.00,335.13 L368.50,335.25 L368.41,335.28 L368.00,335.37 L367.50,335.49 L367.00,335.61 L366.50,335.73 L366.00,335.85 L365.50,335.97 L365.00,336.09 L364.50,336.21 L364.00,336.33 L363.50,336.45 L363.00,336.57 L362.92,336.59 L362.50,336.69 L362.18,336.77 L362.00,336.81 L361.50,336.93 L361.00,337.05 L360.50,337.17 L360.00,337.29 L359.50,337.41 L359.00,337.53 L358.50,337.66 L358.00,337.78 L357.50,337.90 L357.43,337.91 L357.00,338.02 L356.50,338.14 L356.00,338.26 L355.50,338.38 L355.00,338.50 L354.50,338.62 L354.00,338.74 L353.50,338.86 L353.00,338.98 L352.50,339.10 L352.00,339.23 L351.94,339.24 L351.50,339.35 L351.00,339.47 L350.50,339.59 L350.00,339.71 L349.50,339.83 L349.00,339.95 L348.50,340.07 L348.00,340.19 L347.50,340.32 L347.00,340.44 L346.50,340.56 L346.45,340.57 L346.00,340.68 L345.50,340.80 L345.00,340.92 L344.50,341.04 L344.00,341.16 L343.50,341.29 L343.00,341.41 L342.50,341.53 L342.00,341.65 L341.50,341.77 L341.00,341.89 L340.96,341.90 L340.50,342.01 L340.00,342.14 L339.50,342.26 L339.00,342.38 L338.50,342.50 L338.00,342.62 L337.50,342.74 L337.00,342.86 L336.50,342.99 L336.00,343.11 L335.50,343.23 L335.47,343.24 L335.00,343.35 L334.50,343.47 L334.00,343.59 L333.50,343.71 L333.00,343.84 L332.50,343.96 L332.00,344.08 L331.50,344.20 L331.00,344.32 L330.50,344.44 L330.00,344.56 L329.98,344.57 L329.50,344.69 L329.00,344.81 L328.50,344.93 L328.00,345.05 L327.50,345.17 L327.00,345.29 L326.50,345.42 L326.00,345.54 L325.50,345.66 L325.00,345.78 L324.50,345.90 L324.49,345.90 L324.00,346.02 L323.50,346.14 L323.00,346.27 L322.50,346.39 L322.00,346.51 L321.50,346.63 L321.00,346.75 L320.50,346.87 L320.00,346.99 L319.50,347.12 L319.00,347.24 L318.50,347.36 L318.00,347.48 L317.50,347.60 L317.00,347.72 L316.50,347.85 L316.00,347.97 L315.50,348.09 L315.00,348.21 L314.50,348.33 L314.00,348.45 L313.51,348.57 L313.50,348.57 L313.00,348.69 L312.89,348.72 L312.50,348.82 L312.00,348.94 L311.50,349.06 L311.00,349.18 L310.50,349.30 L310.00,349.42 L309.50,349.54 L309.00,349.67 L308.50,349.79 L308.02,349.90 L308.00,349.91 L307.50,350.03 L307.00,350.15 L306.50,350.27 L306.00,350.39 L305.50,350.52 L305.00,350.64 L304.50,350.76 L304.00,350.88 L303.50,351.00 L303.00,351.12 L302.53,351.24 L302.50,351.24 L302.00,351.36 L301.50,351.49 L301.00,351.61 L300.50,351.73 L300.00,351.85 L299.50,351.97 L299.00,352.09 L298.50,352.21 L298.00,352.34 L297.50,352.46 L297.04,352.57 L297.00,352.58 L296.50,352.70 L296.00,352.82 L295.50,352.94 L295.00,353.06 L294.50,353.18 L294.00,353.31 L293.50,353.43 L293.00,353.55 L292.50,353.67 L292.00,353.79 L291.55,353.90 L291.50,353.91 L291.00,354.03 L290.50,354.16 L290.00,354.28 L289.50,354.40 L289.00,354.52 L288.50,354.64 L288.00,354.76 L287.50,354.88 L287.00,355.01 L286.50,355.13 L286.06,355.23 L286.00,355.25 L285.50,355.37 L285.00,355.49 L284.50,355.61 L284.00,355.74 L283.50,355.86 L283.00,355.98 L282.50,356.10 L282.00,356.22 L281.50,356.34 L281.00,356.47 L280.57,356.57 L280.50,356.59 L280.00,356.71 L279.50,356.83 L279.00,356.95 L278.50,357.07 L278.00,357.20 L277.50,357.32 L277.00,357.44 L276.50,357.56 L276.00,357.68 L275.50,357.81 L275.08,357.91 L275.00,357.93 L274.50,358.05 L274.00,358.17 L273.50,358.29 L273.00,358.42 L272.65,358.50 L272.50,358.54 L272.00,358.66 L271.50,358.78 L271.00,358.90 L270.50,359.03 L270.00,359.15 L269.59,359.25 L269.50,359.27 L269.00,359.39 L268.50,359.52 L268.00,359.64 L267.50,359.76 L267.48,359.77 L267.00,359.88 L266.50,360.01 L266.00,360.13 L265.50,360.25 L265.00,360.38 L264.50,360.50 L264.10,360.60 L264.00,360.62 L263.50,360.74 L263.00,360.87 L262.50,360.99 L262.00,361.11 L261.50,361.24 L261.00,361.36 L260.50,361.48 L260.00,361.61 L259.50,361.73 L259.00,361.85 L258.61,361.95 L258.50,361.98 L258.00,362.10 L257.50,362.22 L257.00,362.35 L256.50,362.47 L256.00,362.60 L255.50,362.72 L255.00,362.84 L254.50,362.97 L254.00,363.09 L253.50,363.22 L253.12,363.31 L253.00,363.34 L252.50,363.46 L252.00,363.59 L251.79,363.64 L251.50,363.71 L251.00,363.84 L250.50,363.96 L250.00,364.09 L249.50,364.21 L249.00,364.34 L248.50,364.46 L248.00,364.59 L247.63,364.68 L247.50,364.71 L247.00,364.84 L246.50,364.96 L246.00,365.09 L245.50,365.22 L245.00,365.34 L244.50,365.47 L244.00,365.59 L243.50,365.72 L243.00,365.85 L242.50,365.97 L242.14,366.06 L242.00,366.10 L241.82,366.14 L241.50,366.22 L241.00,366.35 L240.50,366.48 L240.00,366.60 L239.50,366.73 L239.00,366.86 L238.50,366.99 L238.00,367.11 L237.50,367.24 L237.00,367.37 L236.65,367.46 L236.50,367.49 L236.00,367.62 L235.50,367.75 L235.00,367.88 L234.50,368.01 L234.00,368.13 L233.50,368.26 L233.00,368.39 L232.50,368.52 L232.00,368.65 L231.50,368.78 L231.16,368.86 L231.00,368.91 L230.50,369.04 L230.00,369.16 L229.50,369.29 L229.00,369.42 L228.50,369.55 L228.00,369.68 L227.50,369.81 L227.00,369.94 L226.50,370.07 L226.00,370.20 L225.67,370.29 L225.50,370.33 L225.00,370.47 L224.50,370.60 L224.00,370.73 L223.50,370.86 L223.00,370.99 L222.50,371.12 L222.00,371.25 L221.50,371.39 L221.00,371.52 L220.50,371.65 L220.18,371.73 L220.00,371.78 L219.50,371.91 L219.00,372.05 L218.50,372.18 L218.00,372.31 L217.50,372.45 L217.18,372.53 L217.00,372.58 L216.50,372.71 L216.00,372.85 L215.50,372.98 L215.00,373.12 L214.69,373.20 L214.50,373.25 L214.00,373.38 L213.50,373.52 L213.00,373.65 L212.50,373.79 L212.00,373.92 L211.50,374.06 L211.00,374.20 L210.50,374.33 L210.00,374.47 L209.50,374.60 L209.20,374.68 L209.00,374.74 L208.50,374.88 L208.00,375.01 L207.50,375.15 L207.00,375.29 L206.50,375.43 L206.00,375.56 L205.50,375.70 L205.00,375.84 L204.50,375.98 L204.00,376.12 L203.71,376.20 L203.50,376.25 L203.00,376.39 L202.50,376.53 L202.00,376.67 L201.50,376.81 L201.00,376.95 L200.50,377.09 L200.00,377.23 L199.50,377.37 L199.00,377.51 L198.50,377.65 L198.22,377.73 L198.00,377.80 L197.50,377.94 L197.00,378.08 L196.50,378.22 L196.00,378.36 L195.50,378.51 L195.00,378.65 L194.50,378.79 L194.00,378.94 L193.50,379.08 L193.00,379.22 L192.73,379.30 L192.50,379.37 L192.00,379.51 L191.50,379.66 L191.00,379.80 L190.50,379.95 L190.00,380.09 L189.50,380.24 L189.00,380.38 L188.50,380.53 L188.00,380.67 L187.50,380.82 L187.24,380.90 L187.00,380.97 L186.50,381.11 L186.00,381.26 L185.50,381.41 L185.00,381.56 L184.50,381.71 L184.00,381.85 L183.50,382.00 L183.00,382.15 L182.50,382.30 L182.00,382.45 L181.75,382.52 L181.50,382.60 L181.00,382.75 L180.50,382.90 L180.00,383.05 L179.50,383.20 L179.00,383.35 L178.50,383.51 L178.00,383.66 L177.50,383.81 L177.14,383.92 L177.00,383.96 L176.50,384.12 L176.27,384.19 L176.00,384.27 L175.50,384.42 L175.26,384.50 L175.00,384.58 L174.50,384.73 L174.00,384.88 L173.50,385.04 L173.00,385.19 L172.50,385.35 L172.00,385.50 L171.50,385.66 L171.00,385.82 L170.78,385.89 L170.50,385.97 L170.00,386.13 L169.50,386.29 L169.00,386.44 L168.50,386.60 L168.00,386.76 L167.50,386.92 L167.00,387.08 L166.50,387.24 L166.00,387.40 L165.50,387.56 L165.29,387.62 L165.00,387.72 L164.50,387.88 L164.00,388.04 L163.50,388.20 L163.00,388.36 L162.50,388.52 L162.00,388.68 L161.50,388.84 L161.00,389.01 L160.50,389.17 L160.00,389.33 L159.80,389.40 L159.50,389.50 L159.00,389.66 L158.50,389.83 L158.00,389.99 L157.50,390.15 L157.00,390.32 L156.50,390.49 L156.00,390.65 L155.50,390.82 L155.00,390.98 L154.50,391.15 L154.31,391.22 L154.00,391.32 L153.50,391.49 L153.00,391.66 L152.50,391.82 L152.00,391.99 L151.50,392.16 L151.00,392.33 L150.50,392.50 L150.00,392.67 L149.50,392.84 L149.00,393.01 L148.82,393.08 L148.50,393.18 L148.00,393.36 L147.50,393.53 L147.00,393.70 L146.50,393.87 L146.00,394.05 L145.50,394.22 L145.00,394.39 L144.50,394.57 L144.00,394.74 L143.50,394.92 L143.33,394.98 L143.00,395.09 L142.50,395.27 L142.00,395.44 L141.50,395.62 L141.00,395.80 L140.50,395.97 L140.00,396.15 L139.50,396.33 L139.00,396.51 L138.50,396.68 L138.00,396.86 L137.84,396.92 L137.50,397.04 L137.00,397.22 L136.50,397.40 L136.00,397.58 L135.50,397.76 L135.00,397.94 L134.50,398.12 L134.00,398.31 L133.50,398.49 L133.00,398.67 L132.50,398.85 L132.35,398.91 L132.00,399.04 L131.50,399.22 L131.00,399.40 L130.50,399.59 L130.00,399.77 L129.50,399.96 L129.00,400.14 L128.50,400.33 L128.00,400.52 L127.50,400.70 L127.00,400.89 L126.86,400.94 L126.50,401.08 L126.00,401.26 L125.50,401.45 L125.00,401.64 L124.50,401.83 L124.00,402.02 L123.50,402.21 L123.00,402.40 L122.50,402.59 L122.00,402.78 L121.50,402.97 L121.40,403.01 L121.37,403.02 L121.32,403.04 L121.00,403.16 L120.50,403.35 L120.00,403.54 L119.50,403.74 L119.00,403.93 L118.50,404.12 L118.00,404.32 L117.50,404.51 L117.00,404.70 L116.50,404.90 L116.00,405.09 L115.88,405.14 L115.50,405.29 L115.00,405.49 L114.50,405.68 L114.00,405.88 L113.50,406.07 L113.00,406.27 L112.50,406.47 L112.00,406.67 L111.50,406.87 L111.00,407.06 L110.50,407.26 L110.39,407.31 L110.00,407.46 L109.50,407.66 L109.00,407.86 L108.50,408.06 L108.00,408.26 L107.50,408.46 L107.00,408.67 L106.50,408.87 L106.00,409.07 L105.50,409.27 L105.00,409.47 L104.90,409.52 L104.50,409.68 L104.00,409.88 L103.50,410.08 L103.00,410.29 L102.50,410.49 L102.00,410.70 L101.50,410.90 L101.00,411.11 L100.50,411.31 L100.00,411.52 L99.95,411.54 L99.50,411.73 L99.41,411.76 L99.00,411.93 L98.82,412.01 L98.50,412.14 L98.00,412.35 L97.50,412.56 L97.00,412.76 L96.50,412.97 L96.00,413.18 L95.50,413.39 L95.00,413.60 L94.50,413.81 L94.00,414.02 L93.92,414.05 L93.50,414.23 L93.00,414.44 L92.50,414.65 L92.00,414.86 L91.50,415.07 L91.00,415.28 L90.50,415.50 L90.00,415.71 L89.50,415.92 L89.00,416.13 L88.50,416.35 L88.43,416.38 L88.00,416.56 L87.50,416.77 L87.00,416.99 L86.50,417.20 L86.00,417.42 L85.50,417.63 L85.00,417.85 L84.50,418.06 L84.00,418.28 L83.50,418.50 L83.00,418.71 L82.94,418.74 L82.50,418.93 L82.00,419.14 L81.50,419.36 L81.00,419.58 L80.50,419.80 L80.00,420.01 L79.50,420.23 L79.00,420.45 L78.50,420.67 L78.00,420.89 L77.50,421.11 L77.45,421.13 L77.00,421.33 L76.50,421.55 L76.00,421.76 L75.50,421.98 L75.00,422.20 L74.50,422.43 L74.00,422.65 L73.86,422.71 L73.50,422.87 L73.00,423.09 L72.50,423.31 L72.00,423.53 L71.96,423.55 L71.50,423.75 L71.00,423.97 L70.50,424.19 L70.00,424.42 L69.50,424.64 L69.00,424.86 L68.50,425.08 L68.00,425.31 L67.50,425.53 L67.00,425.75 L66.50,425.98 L66.47,425.99 L66.00,426.20 L65.50,426.42 L65.00,426.65 L64.50,426.87 L64.00,427.09 L63.50,427.32 L63.00,427.54 L62.50,427.77 L62.00,427.99 L61.50,428.22 L61.00,428.44 L60.98,428.45 L60.50,428.67 L60.00,428.89 L59.50,429.11 L59.00,429.34 L58.50,429.57 L58.00,429.79 L57.50,430.02 L57.00,430.24 L56.50,430.47 L56.00,430.69 L55.50,430.92 L55.49,430.92 L55.00,431.14 L54.50,431.37 L54.00,431.59 L53.50,431.82 L53.00,432.05 L52.50,432.27 L52.00,432.50 L51.50,432.72 L51.00,432.95 L50.50,433.18 L50.00,433.40 L50.00,433.40 L49.50,433.63 L49.00,433.85 L48.50,434.08 L48.00,434.31 L47.50,434.53 L47.00,434.76 L46.50,434.98 L46.00,435.21 L45.52,435.43 L45.50,435.43 L45.00,435.66 L44.51,435.88 L44.50,435.89 L44.00,436.11 L43.50,436.34 L43.00,436.56 L42.50,436.79 L42.00,437.01 L41.50,437.24 L41.00,437.46 L40.50,437.69 L40.00,437.91 L39.50,438.14 L39.02,438.35 L39.00,438.36 L38.50,438.59 L38.00,438.81 L37.50,439.03 L37.00,439.26 L36.50,439.48 L36.00,439.71 L35.50,439.93 L35.00,440.15 L34.50,440.38 L34.00,440.60 L33.53,440.81 L33.50,440.82 L33.00,441.04 L32.50,441.27 L32.00,441.49 L31.50,441.71 L31.00,441.93 L30.50,442.15 L30.00,442.37Z"/></clipPath>
<clipPath id="cc"><path d="M30.00,442.37 L30.50,442.15 L31.00,441.93 L31.50,441.71 L32.00,441.49 L32.50,441.27 L33.00,441.04 L33.50,440.82 L33.53,440.81 L34.00,440.60 L34.50,440.38 L35.00,440.15 L35.50,439.93 L36.00,439.71 L36.50,439.48 L37.00,439.26 L37.50,439.03 L38.00,438.81 L38.50,438.59 L39.00,438.36 L39.02,438.35 L39.50,438.14 L40.00,437.91 L40.50,437.69 L41.00,437.46 L41.50,437.24 L42.00,437.01 L42.50,436.79 L43.00,436.56 L43.50,436.34 L44.00,436.11 L44.50,435.89 L44.51,435.88 L45.00,435.66 L45.50,435.43 L45.52,435.43 L46.00,435.21 L46.50,434.98 L47.00,434.76 L47.50,434.53 L48.00,434.31 L48.50,434.08 L49.00,433.85 L49.50,433.63 L50.00,433.40 L50.00,433.40 L50.50,433.18 L51.00,432.95 L51.50,432.72 L52.00,432.50 L52.50,432.27 L53.00,432.05 L53.50,431.82 L54.00,431.59 L54.50,431.37 L55.00,431.14 L55.49,430.92 L55.50,430.92 L56.00,430.69 L56.50,430.47 L57.00,430.24 L57.50,430.02 L58.00,429.79 L58.50,429.57 L59.00,429.34 L59.50,429.11 L60.00,428.89 L60.50,428.67 L60.98,428.45 L61.00,428.44 L61.50,428.22 L62.00,427.99 L62.50,427.77 L63.00,427.54 L63.50,427.32 L64.00,427.09 L64.50,426.87 L65.00,426.65 L65.50,426.42 L66.00,426.20 L66.47,425.99 L66.50,425.98 L67.00,425.75 L67.50,425.53 L68.00,425.31 L68.50,425.08 L69.00,424.86 L69.50,424.64 L70.00,424.42 L70.50,424.19 L71.00,423.97 L71.50,423.75 L71.96,423.55 L72.00,423.53 L72.50,423.31 L73.00,423.09 L73.50,422.87 L73.86,422.71 L74.00,422.65 L74.50,422.43 L75.00,422.20 L75.50,421.98 L76.00,421.76 L76.50,421.55 L77.00,421.33 L77.45,421.13 L77.50,421.11 L78.00,420.89 L78.50,420.67 L79.00,420.45 L79.50,420.23 L80.00,420.01 L80.50,419.80 L81.00,419.58 L81.50,419.36 L82.00,419.14 L82.50,418.93 L82.94,418.74 L83.00,418.71 L83.50,418.50 L84.00,418.28 L84.50,418.06 L85.00,417.85 L85.50,417.63 L86.00,417.42 L86.50,417.20 L87.00,416.99 L87.50,416.77 L88.00,416.56 L88.43,416.38 L88.50,416.35 L89.00,416.13 L89.50,415.92 L90.00,415.71 L90.50,415.50 L91.00,415.28 L91.50,415.07 L92.00,414.86 L92.50,414.65 L93.00,414.44 L93.50,414.23 L93.92,414.05 L94.00,414.02 L94.50,413.81 L95.00,413.60 L95.50,413.39 L96.00,413.18 L96.50,412.97 L97.00,412.76 L97.50,412.56 L98.00,412.35 L98.50,412.14 L98.82,412.01 L99.00,411.93 L99.41,411.76 L99.50,411.73 L99.95,411.54 L100.00,411.52 L100.50,411.31 L101.00,411.11 L101.50,410.90 L102.00,410.70 L102.50,410.49 L103.00,410.29 L103.50,410.08 L104.00,409.88 L104.50,409.68 L104.90,409.52 L105.00,409.47 L105.50,409.27 L106.00,409.07 L106.50,408.87 L107.00,408.67 L107.50,408.46 L108.00,408.26 L108.50,408.06 L109.00,407.86 L109.50,407.66 L110.00,407.46 L110.39,407.31 L110.50,407.26 L111.00,407.06 L111.50,406.87 L112.00,406.67 L112.50,406.47 L113.00,406.27 L113.50,406.07 L114.00,405.88 L114.50,405.68 L115.00,405.49 L115.50,405.29 L115.88,405.14 L116.00,405.09 L116.50,404.90 L117.00,404.70 L117.50,404.51 L118.00,404.32 L118.50,404.12 L119.00,403.93 L119.50,403.74 L120.00,403.54 L120.50,403.35 L121.00,403.16 L121.32,403.04 L121.37,403.02 L121.40,403.01 L121.50,402.97 L122.00,402.78 L122.50,402.59 L123.00,402.40 L123.50,402.21 L124.00,402.02 L124.50,401.83 L125.00,401.64 L125.50,401.45 L126.00,401.26 L126.50,401.08 L126.86,400.94 L127.00,400.89 L127.50,400.70 L128.00,400.52 L128.50,400.33 L129.00,400.14 L129.50,399.96 L130.00,399.77 L130.50,399.59 L131.00,399.40 L131.50,399.22 L132.00,399.04 L132.35,398.91 L132.50,398.85 L133.00,398.67 L133.50,398.49 L134.00,398.31 L134.50,398.12 L135.00,397.94 L135.50,397.76 L136.00,397.58 L136.50,397.40 L137.00,397.22 L137.50,397.04 L137.84,396.92 L138.00,396.86 L138.50,396.68 L139.00,396.51 L139.50,396.33 L140.00,396.15 L140.50,395.97 L141.00,395.80 L141.50,395.62 L142.00,395.44 L142.50,395.27 L143.00,395.09 L143.33,394.98 L143.50,394.92 L144.00,394.74 L144.50,394.57 L145.00,394.39 L145.50,394.22 L146.00,394.05 L146.50,393.87 L147.00,393.70 L147.50,393.53 L148.00,393.36 L148.50,393.18 L148.82,393.08 L149.00,393.01 L149.50,392.84 L150.00,392.67 L150.50,392.50 L151.00,392.33 L151.50,392.16 L152.00,391.99 L152.50,391.82 L153.00,391.66 L153.50,391.49 L154.00,391.32 L154.31,391.22 L154.50,391.15 L155.00,390.98 L155.50,390.82 L156.00,390.65 L156.50,390.49 L157.00,390.32 L157.50,390.15 L158.00,389.99 L158.50,389.83 L159.00,389.66 L159.50,389.50 L159.80,389.40 L160.00,389.33 L160.50,389.17 L161.00,389.01 L161.50,388.84 L162.00,388.68 L162.50,388.52 L163.00,388.36 L163.50,388.20 L164.00,388.04 L164.50,387.88 L165.00,387.72 L165.29,387.62 L165.50,387.56 L166.00,387.40 L166.50,387.24 L167.00,387.08 L167.50,386.92 L168.00,386.76 L168.50,386.60 L169.00,386.44 L169.50,386.29 L170.00,386.13 L170.50,385.97 L170.78,385.89 L171.00,385.82 L171.50,385.66 L172.00,385.50 L172.50,385.35 L173.00,385.19 L173.50,385.04 L174.00,384.88 L174.50,384.73 L175.00,384.58 L175.26,384.50 L175.50,384.42 L176.00,384.27 L176.27,384.19 L176.50,384.12 L177.00,383.96 L177.14,383.92 L177.50,383.81 L178.00,383.66 L178.50,383.51 L179.00,383.35 L179.50,383.20 L180.00,383.05 L180.50,382.90 L181.00,382.75 L181.50,382.60 L181.75,382.52 L182.00,382.45 L182.50,382.30 L183.00,382.15 L183.50,382.00 L184.00,381.85 L184.50,381.71 L185.00,381.56 L185.50,381.41 L186.00,381.26 L186.50,381.11 L187.00,380.97 L187.24,380.90 L187.50,380.82 L188.00,380.67 L188.50,380.53 L189.00,380.38 L189.50,380.24 L190.00,380.09 L190.50,379.95 L191.00,379.80 L191.50,379.66 L192.00,379.51 L192.50,379.37 L192.73,379.30 L193.00,379.22 L193.50,379.08 L194.00,378.94 L194.50,378.79 L195.00,378.65 L195.50,378.51 L196.00,378.36 L196.50,378.22 L197.00,378.08 L197.50,377.94 L198.00,377.80 L198.22,377.73 L198.50,377.65 L199.00,377.51 L199.50,377.37 L200.00,377.23 L200.50,377.09 L201.00,376.95 L201.50,376.81 L202.00,376.67 L202.50,376.53 L203.00,376.39 L203.50,376.25 L203.71,376.20 L204.00,376.12 L204.50,375.98 L205.00,375.84 L205.50,375.70 L206.00,375.56 L206.50,375.43 L207.00,375.29 L207.50,375.15 L208.00,375.01 L208.50,374.88 L209.00,374.74 L209.20,374.68 L209.50,374.60 L210.00,374.47 L210.50,374.33 L211.00,374.20 L211.50,374.06 L212.00,373.92 L212.50,373.79 L213.00,373.65 L213.50,373.52 L214.00,373.38 L214.50,373.25 L214.69,373.20 L215.00,373.12 L215.50,372.98 L216.00,372.85 L216.50,372.71 L217.00,372.58 L217.18,372.53 L217.50,372.45 L218.00,372.31 L218.50,372.18 L219.00,372.05 L219.50,371.91 L220.00,371.78 L220.18,371.73 L220.50,371.65 L221.00,371.52 L221.50,371.39 L222.00,371.25 L222.50,371.12 L223.00,370.99 L223.50,370.86 L224.00,370.73 L224.50,370.60 L225.00,370.47 L225.50,370.33 L225.67,370.29 L226.00,370.20 L226.50,370.07 L227.00,369.94 L227.50,369.81 L228.00,369.68 L228.50,369.55 L229.00,369.42 L229.50,369.29 L230.00,369.16 L230.50,369.04 L231.00,368.91 L231.16,368.86 L231.50,368.78 L232.00,368.65 L232.50,368.52 L233.00,368.39 L233.50,368.26 L234.00,368.13 L234.50,368.01 L235.00,367.88 L235.50,367.75 L236.00,367.62 L236.50,367.49 L236.65,367.46 L237.00,367.37 L237.50,367.24 L238.00,367.11 L238.50,366.99 L239.00,366.86 L239.50,366.73 L240.00,366.60 L240.50,366.48 L241.00,366.35 L241.50,366.22 L241.82,366.14 L242.00,366.10 L242.14,366.06 L242.50,365.97 L243.00,365.85 L243.50,365.72 L244.00,365.59 L244.50,365.47 L245.00,365.34 L245.50,365.22 L246.00,365.09 L246.50,364.96 L247.00,364.84 L247.50,364.71 L247.63,364.68 L248.00,364.59 L248.50,364.46 L249.00,364.34 L249.50,364.21 L250.00,364.09 L250.50,363.96 L251.00,363.84 L251.50,363.71 L251.79,363.64 L252.00,363.59 L252.50,363.46 L253.00,363.34 L253.12,363.31 L253.50,363.22 L254.00,363.09 L254.50,362.97 L255.00,362.84 L255.50,362.72 L256.00,362.60 L256.50,362.47 L257.00,362.35 L257.50,362.22 L258.00,362.10 L258.50,361.98 L258.61,361.95 L259.00,361.85 L259.50,361.73 L260.00,361.61 L260.50,361.48 L261.00,361.36 L261.50,361.24 L262.00,361.11 L262.50,360.99 L263.00,360.87 L263.50,360.74 L264.00,360.62 L264.10,360.60 L264.50,360.50 L265.00,360.38 L265.50,360.25 L266.00,360.13 L266.50,360.01 L267.00,359.88 L267.48,359.77 L267.50,359.76 L268.00,359.64 L268.50,359.52 L269.00,359.39 L269.50,359.27 L269.59,359.25 L270.00,359.15 L270.50,359.03 L271.00,358.90 L271.50,358.78 L272.00,358.66 L272.50,358.54 L272.65,358.50 L273.00,358.42 L273.50,358.29 L274.00,358.17 L274.50,358.05 L275.00,357.93 L275.08,357.91 L275.50,357.81 L276.00,357.68 L276.50,357.56 L277.00,357.44 L277.50,357.32 L278.00,357.20 L278.50,357.07 L279.00,356.95 L279.50,356.83 L280.00,356.71 L280.50,356.59 L280.57,356.57 L281.00,356.47 L281.50,356.34 L282.00,356.22 L282.50,356.10 L283.00,355.98 L283.50,355.86 L284.00,355.74 L284.50,355.61 L285.00,355.49 L285.50,355.37 L286.00,355.25 L286.06,355.23 L286.50,355.13 L287.00,355.01 L287.50,354.88 L288.00,354.76 L288.50,354.64 L289.00,354.52 L289.50,354.40 L290.00,354.28 L290.50,354.16 L291.00,354.03 L291.50,353.91 L291.55,353.90 L292.00,353.79 L292.50,353.67 L293.00,353.55 L293.50,353.43 L294.00,353.31 L294.50,353.18 L295.00,353.06 L295.50,352.94 L296.00,352.82 L296.50,352.70 L297.00,352.58 L297.04,352.57 L297.50,352.46 L298.00,352.34 L298.50,352.21 L299.00,352.09 L299.50,351.97 L300.00,351.85 L300.50,351.73 L301.00,351.61 L301.50,351.49 L302.00,351.36 L302.50,351.24 L302.53,351.24 L303.00,351.12 L303.50,351.00 L304.00,350.88 L304.50,350.76 L305.00,350.64 L305.50,350.52 L306.00,350.39 L306.50,350.27 L307.00,350.15 L307.50,350.03 L308.00,349.91 L308.02,349.90 L308.50,349.79 L309.00,349.67 L309.50,349.54 L310.00,349.42 L310.50,349.30 L311.00,349.18 L311.50,349.06 L312.00,348.94 L312.50,348.82 L312.89,348.72 L313.00,348.69 L313.50,348.57 L313.51,348.57 L314.00,348.45 L314.50,348.33 L315.00,348.21 L315.50,348.09 L316.00,347.97 L316.50,347.85 L317.00,347.72 L317.50,347.60 L318.00,347.48 L318.50,347.36 L319.00,347.24 L319.50,347.12 L320.00,346.99 L320.50,346.87 L321.00,346.75 L321.50,346.63 L322.00,346.51 L322.50,346.39 L323.00,346.27 L323.50,346.14 L324.00,346.02 L324.49,345.90 L324.50,345.90 L325.00,345.78 L325.50,345.66 L326.00,345.54 L326.50,345.42 L327.00,345.29 L327.50,345.17 L328.00,345.05 L328.50,344.93 L329.00,344.81 L329.50,344.69 L329.98,344.57 L330.00,344.56 L330.50,344.44 L331.00,344.32 L331.50,344.20 L332.00,344.08 L332.50,343.96 L333.00,343.84 L333.50,343.71 L334.00,343.59 L334.50,343.47 L335.00,343.35 L335.47,343.24 L335.50,343.23 L336.00,343.11 L336.50,342.99 L337.00,342.86 L337.50,342.74 L338.00,342.62 L338.50,342.50 L339.00,342.38 L339.50,342.26 L340.00,342.14 L340.50,342.01 L340.96,341.90 L341.00,341.89 L341.50,341.77 L342.00,341.65 L342.50,341.53 L343.00,341.41 L343.50,341.29 L344.00,341.16 L344.50,341.04 L345.00,340.92 L345.50,340.80 L346.00,340.68 L346.45,340.57 L346.50,340.56 L347.00,340.44 L347.50,340.32 L348.00,340.19 L348.50,340.07 L349.00,339.95 L349.50,339.83 L350.00,339.71 L350.50,339.59 L351.00,339.47 L351.50,339.35 L351.94,339.24 L352.00,339.23 L352.50,339.10 L353.00,338.98 L353.50,338.86 L354.00,338.74 L354.50,338.62 L355.00,338.50 L355.50,338.38 L356.00,338.26 L356.50,338.14 L357.00,338.02 L357.43,337.91 L357.50,337.90 L358.00,337.78 L358.50,337.66 L359.00,337.53 L359.50,337.41 L360.00,337.29 L360.50,337.17 L361.00,337.05 L361.50,336.93 L362.00,336.81 L362.18,336.77 L362.50,336.69 L362.92,336.59 L363.00,336.57 L363.50,336.45 L364.00,336.33 L364.50,336.21 L365.00,336.09 L365.50,335.97 L366.00,335.85 L366.50,335.73 L367.00,335.61 L367.50,335.49 L368.00,335.37 L368.41,335.28 L368.50,335.25 L369.00,335.13 L369.50,335.02 L370.00,334.90 L370.50,334.78 L371.00,334.66 L371.43,334.55 L371.50,334.54 L372.00,334.42 L372.50,334.30 L373.00,334.18 L373.50,334.06 L373.90,333.97 L374.00,333.94 L374.50,333.83 L375.00,333.71 L375.50,333.59 L376.00,333.47 L376.50,333.35 L377.00,333.23 L377.50,333.11 L378.00,333.00 L378.50,332.88 L379.00,332.76 L379.39,332.67 L379.50,332.64 L380.00,332.53 L380.50,332.41 L381.00,332.29 L381.50,332.17 L382.00,332.06 L382.50,331.94 L383.00,331.82 L383.50,331.70 L384.00,331.59 L384.20,331.54 L384.50,331.47 L384.88,331.38 L385.00,331.35 L385.50,331.24 L386.00,331.12 L386.50,331.00 L387.00,330.89 L387.50,330.77 L388.00,330.66 L388.50,330.54 L389.00,330.42 L389.50,330.31 L390.00,330.19 L390.37,330.11 L390.50,330.08 L391.00,329.96 L391.50,329.85 L392.00,329.73 L392.50,329.62 L393.00,329.50 L393.50,329.39 L394.00,329.28 L394.50,329.16 L395.00,329.05 L395.50,328.93 L395.86,328.85 L396.00,328.82 L396.50,328.71 L397.00,328.59 L397.50,328.48 L398.00,328.37 L398.50,328.25 L399.00,328.14 L399.50,328.03 L400.00,327.91 L400.50,327.80 L401.00,327.69 L401.35,327.61 L401.50,327.58 L402.00,327.47 L402.50,327.35 L403.00,327.24 L403.50,327.13 L404.00,327.02 L404.50,326.91 L405.00,326.80 L405.50,326.69 L406.00,326.58 L406.50,326.47 L406.84,326.39 L407.00,326.36 L407.50,326.25 L408.00,326.14 L408.50,326.03 L409.00,325.92 L409.50,325.81 L410.00,325.70 L410.50,325.59 L411.00,325.49 L411.50,325.38 L412.00,325.27 L412.33,325.20 L412.50,325.16 L413.00,325.05 L413.50,324.95 L414.00,324.84 L414.50,324.73 L415.00,324.63 L415.50,324.52 L416.00,324.41 L416.18,324.38 L416.50,324.31 L417.00,324.20 L417.50,324.10 L417.82,324.03 L418.00,323.99 L418.50,323.89 L419.00,323.78 L419.50,323.68 L420.00,323.57 L420.50,323.47 L421.00,323.37 L421.50,323.26 L422.00,323.16 L422.50,323.06 L422.91,322.97 L423.00,322.95 L423.31,322.89 L423.50,322.85 L424.00,322.75 L424.50,322.65 L425.00,322.55 L425.50,322.45 L426.00,322.34 L426.50,322.24 L427.00,322.14 L427.50,322.04 L428.00,321.94 L428.50,321.84 L428.80,321.78 L429.00,321.74 L429.50,321.65 L430.00,321.55 L430.50,321.45 L431.00,321.35 L431.50,321.25 L432.00,321.16 L432.50,321.06 L433.00,320.96 L433.50,320.86 L434.00,320.77 L434.29,320.71 L434.50,320.67 L435.00,320.58 L435.50,320.48 L436.00,320.39 L436.50,320.29 L437.00,320.20 L437.50,320.10 L438.00,320.01 L438.50,319.92 L439.00,319.83 L439.50,319.73 L439.78,319.68 L440.00,319.64 L440.50,319.55 L441.00,319.46 L441.50,319.37 L442.00,319.28 L442.50,319.18 L443.00,319.09 L443.50,319.01 L444.00,318.92 L444.50,318.83 L445.00,318.74 L445.27,318.69 L445.50,318.65 L446.00,318.56 L446.50,318.48 L447.00,318.39 L447.50,318.30 L448.00,318.22 L448.50,318.13 L449.00,318.04 L449.50,317.96 L450.00,317.87 L450.50,317.79 L450.75,317.75 L450.76,317.75 L450.76,317.75 L451.00,317.71 L451.50,317.62 L452.00,317.54 L452.50,317.46 L453.00,317.38 L453.50,317.29 L454.00,317.21 L454.50,317.13 L455.00,317.05 L455.50,316.97 L456.00,316.89 L456.24,316.85 L456.50,316.81 L457.00,316.73 L457.50,316.65 L458.00,316.58 L458.50,316.50 L459.00,316.42 L459.50,316.35 L460.00,316.27 L460.50,316.19 L461.00,316.12 L461.50,316.04 L461.73,316.01 L462.00,315.97 L462.50,315.90 L463.00,315.82 L463.50,315.75 L464.00,315.68 L464.50,315.61 L465.00,315.54 L465.50,315.46 L466.00,315.39 L466.50,315.32 L467.00,315.25 L467.22,315.22 L467.50,315.19 L468.00,315.12 L468.50,315.05 L469.00,314.98 L469.50,314.91 L470.00,314.85 L470.50,314.78 L471.00,314.72 L471.50,314.65 L472.00,314.59 L472.50,314.52 L472.71,314.50 L473.00,314.46 L473.50,314.40 L474.00,314.34 L474.50,314.27 L475.00,314.21 L475.50,314.15 L476.00,314.09 L476.50,314.03 L477.00,313.97 L477.50,313.92 L478.00,313.86 L478.20,313.83 L478.50,313.80 L479.00,313.74 L479.50,313.69 L480.00,313.63 L480.50,313.58 L481.00,313.52 L481.50,313.47 L482.00,313.41 L482.50,313.36 L483.00,313.31 L483.50,313.26 L483.69,313.24 L484.00,313.21 L484.50,313.16 L485.00,313.11 L485.50,313.06 L486.00,313.01 L486.50,312.96 L487.00,312.91 L487.50,312.86 L488.00,312.82 L488.50,312.77 L489.00,312.73 L489.18,312.71 L489.50,312.68 L490.00,312.64 L490.50,312.60 L491.00,312.55 L491.50,312.51 L492.00,312.47 L492.50,312.43 L493.00,312.39 L493.50,312.35 L494.00,312.31 L494.50,312.27 L494.67,312.26 L495.00,312.23 L495.50,312.20 L496.00,312.16 L496.50,312.13 L497.00,312.09 L497.50,312.06 L498.00,312.02 L498.50,311.99 L499.00,311.96 L499.50,311.92 L500.00,311.89 L500.16,311.88 L500.50,311.86 L501.00,311.83 L501.50,311.80 L502.00,311.78 L502.50,311.75 L503.00,311.72 L503.50,311.70 L504.00,311.67 L504.50,311.64 L505.00,311.62 L505.50,311.60 L505.65,311.59 L506.00,311.57 L506.50,311.55 L507.00,311.53 L507.50,311.51 L508.00,311.49 L508.50,311.47 L509.00,311.45 L509.50,311.43 L510.00,311.42 L510.50,311.40 L511.00,311.38 L511.14,311.38 L511.50,311.37 L512.00,311.35 L512.50,311.34 L513.00,311.33 L513.50,311.31 L513.78,311.31 L514.00,311.30 L514.50,311.29 L515.00,311.28 L515.50,311.27 L516.00,311.26 L516.50,311.26 L516.63,311.26 L517.00,311.25 L517.50,311.24 L518.00,311.24 L518.50,311.23 L519.00,311.23 L519.50,311.23 L520.00,311.22 L520.50,311.22 L521.00,311.22 L521.50,311.22 L522.00,311.22 L522.12,311.22 L522.50,311.22 L522.58,311.22 L523.00,311.22 L523.50,311.23 L524.00,311.23 L524.50,311.24 L525.00,311.24 L525.50,311.25 L526.00,311.25 L526.50,311.26 L527.00,311.27 L527.50,311.28 L527.61,311.28 L528.00,311.29 L528.50,311.30 L529.00,311.31 L529.50,311.32 L530.00,311.34 L530.50,311.35 L531.00,311.36 L531.50,311.38 L532.00,311.40 L532.50,311.41 L533.00,311.43 L533.10,311.43 L533.50,311.45 L534.00,311.47 L534.50,311.49 L535.00,311.51 L535.50,311.53 L536.00,311.55 L536.50,311.58 L537.00,311.60 L537.50,311.63 L538.00,311.65 L538.50,311.68 L538.59,311.69 L539.00,311.71 L539.50,311.74 L540.00,311.77 L540.50,311.80 L541.00,311.83 L541.50,311.86 L542.00,311.89 L542.50,311.93 L543.00,311.96 L543.50,312.00 L544.00,312.03 L544.08,312.04 L544.50,312.07 L545.00,312.11 L545.50,312.14 L546.00,312.18 L546.50,312.22 L547.00,312.27 L547.50,312.31 L548.00,312.35 L548.50,312.39 L549.00,312.44 L549.50,312.48 L549.57,312.49 L550.00,312.53 L550.50,312.58 L551.00,312.63 L551.50,312.67 L552.00,312.72 L552.50,312.77 L553.00,312.83 L553.50,312.88 L554.00,312.93 L554.50,312.99 L555.00,313.04 L555.06,313.05 L555.50,313.10 L556.00,313.15 L556.50,313.21 L557.00,313.27 L557.50,313.33 L558.00,313.39 L558.50,313.45 L559.00,313.51 L559.50,313.57 L560.00,313.64 L560.50,313.70 L560.55,313.71 L561.00,313.77 L561.50,313.83 L562.00,313.90 L562.50,313.97 L563.00,314.04 L563.50,314.11 L564.00,314.18 L564.50,314.25 L565.00,314.32 L565.15,314.34 L565.50,314.40 L566.00,314.47 L566.04,314.48 L566.50,314.55 L567.00,314.62 L567.50,314.70 L568.00,314.78 L568.50,314.85 L569.00,314.93 L569.50,315.01 L570.00,315.10 L570.50,315.18 L571.00,315.26 L571.50,315.35 L571.53,315.35 L572.00,315.43 L572.50,315.52 L573.00,315.60 L573.50,315.69 L574.00,315.78 L574.50,315.87 L575.00,315.96 L575.50,316.05 L576.00,316.14 L576.50,316.23 L577.00,316.33 L577.02,316.33 L577.50,316.42 L578.00,316.52 L578.50,316.61 L579.00,316.71 L579.50,316.81 L580.00,316.91 L580.50,317.01 L581.00,317.11 L581.34,317.18 L581.50,317.21 L582.00,317.31 L582.50,317.42 L582.51,317.42 L583.00,317.52 L583.50,317.63 L584.00,317.73 L584.50,317.84 L585.00,317.95 L585.50,318.05 L586.00,318.16 L586.50,318.27 L587.00,318.39 L587.50,318.50 L588.00,318.61 L588.00,318.61 L588.50,318.73 L589.00,318.84 L589.50,318.96 L590.00,319.07 L590.50,319.19 L591.00,319.31 L591.50,319.43 L592.00,319.55 L592.50,319.67 L593.00,319.79 L593.49,319.91 L593.50,319.91 L594.00,320.04 L594.50,320.16 L595.00,320.29 L595.43,320.39 L595.50,320.41 L596.00,320.54 L596.50,320.67 L597.00,320.79 L597.50,320.92 L598.00,321.05 L598.50,321.19 L598.98,321.31 L599.00,321.32 L599.50,321.45 L600.00,321.58 L600.50,321.72 L601.00,321.85 L601.50,321.99 L602.00,322.13 L602.50,322.26 L603.00,322.40 L603.50,322.54 L604.00,322.68 L604.47,322.82 L604.50,322.82 L605.00,322.97 L605.50,323.11 L606.00,323.25 L606.50,323.40 L607.00,323.54 L607.50,323.69 L608.00,323.83 L608.50,323.98 L609.00,324.13 L609.09,324.16 L609.50,324.28 L609.96,324.42 L610.00,324.43 L610.50,324.58 L611.00,324.73 L611.50,324.89 L612.00,325.04 L612.50,325.19 L613.00,325.35 L613.50,325.50 L614.00,325.66 L614.50,325.82 L615.00,325.97 L615.45,326.12 L615.50,326.13 L616.00,326.29 L616.50,326.45 L617.00,326.61 L617.50,326.77 L618.00,326.94 L618.50,327.10 L619.00,327.26 L619.50,327.43 L620.00,327.59 L620.50,327.76 L620.94,327.91 L621.00,327.93 L621.50,328.09 L622.00,328.26 L622.50,328.43 L623.00,328.60 L623.50,328.77 L624.00,328.94 L624.00,328.94 L623.50,328.77 L623.00,328.60 L622.50,328.43 L622.00,328.26 L621.50,328.09 L621.00,327.93 L620.94,327.91 L620.50,327.76 L620.00,327.59 L619.50,327.43 L619.00,327.26 L618.50,327.10 L618.00,326.94 L617.50,326.77 L617.00,326.61 L616.50,326.45 L616.00,326.29 L615.50,326.13 L615.45,326.12 L615.00,325.97 L614.50,325.82 L614.00,325.66 L613.50,325.50 L613.00,325.35 L612.50,325.19 L612.00,325.04 L611.50,324.89 L611.00,324.73 L610.50,324.58 L610.00,324.43 L609.96,324.42 L609.50,324.28 L609.09,324.16 L609.00,325.30 L608.50,331.72 L608.00,338.13 L607.50,344.54 L607.00,350.95 L606.50,357.36 L606.00,363.77 L605.50,370.19 L605.00,376.60 L604.50,383.01 L604.47,383.40 L604.00,382.31 L603.50,381.14 L603.00,379.97 L602.50,378.81 L602.00,377.64 L601.50,376.48 L601.00,375.31 L600.50,374.14 L600.00,372.98 L599.50,371.81 L599.00,370.65 L598.98,370.60 L598.50,363.82 L598.00,356.75 L597.50,349.68 L597.00,342.61 L596.50,335.55 L596.00,328.48 L595.50,321.41 L595.43,320.39 L595.00,320.29 L594.50,320.16 L594.00,320.04 L593.50,319.91 L593.49,319.91 L593.00,319.79 L592.50,319.67 L592.00,319.55 L591.50,319.43 L591.00,319.31 L590.50,319.19 L590.00,319.07 L589.50,318.96 L589.00,318.84 L588.50,318.73 L588.00,318.61 L588.00,318.61 L587.50,318.50 L587.00,318.39 L586.50,318.27 L586.00,318.16 L585.50,318.05 L585.00,317.95 L584.50,317.84 L584.00,317.73 L583.50,317.63 L583.00,317.52 L582.51,317.42 L582.50,317.42 L582.00,317.31 L581.50,317.21 L581.34,317.18 L581.00,318.88 L580.50,321.36 L580.00,323.84 L579.50,326.32 L579.00,328.79 L578.50,331.27 L578.00,333.75 L577.50,336.22 L577.02,338.60 L577.00,338.72 L576.50,341.63 L576.00,344.55 L575.50,347.46 L575.00,350.38 L574.50,353.29 L574.00,356.21 L573.50,359.12 L573.00,362.04 L572.50,364.95 L572.00,367.87 L571.53,370.60 L571.50,370.36 L571.00,366.42 L570.50,362.49 L570.00,358.55 L569.50,354.62 L569.00,350.68 L568.50,346.75 L568.00,342.82 L567.50,338.88 L567.00,334.95 L566.50,331.01 L566.04,327.40 L566.00,326.80 L565.50,319.52 L565.15,314.34 L565.00,314.32 L564.50,314.25 L564.00,314.18 L563.50,314.11 L563.00,314.04 L562.50,313.97 L562.00,313.90 L561.50,313.83 L561.00,313.77 L560.55,313.71 L560.50,313.70 L560.00,313.64 L559.50,313.57 L559.00,313.51 L558.50,313.45 L558.00,313.39 L557.50,313.33 L557.00,313.27 L556.50,313.21 L556.00,313.15 L555.50,313.10 L555.06,313.05 L555.00,313.04 L554.50,312.99 L554.00,312.93 L553.50,312.88 L553.00,312.83 L552.50,312.77 L552.00,312.72 L551.50,312.67 L551.00,312.63 L550.50,312.58 L550.00,312.53 L549.57,312.49 L549.50,312.48 L549.00,312.44 L548.50,312.39 L548.00,312.35 L547.50,312.31 L547.00,312.27 L546.50,312.22 L546.00,312.18 L545.50,312.14 L545.00,312.11 L544.50,312.07 L544.08,312.04 L544.00,312.03 L543.50,312.00 L543.00,311.96 L542.50,311.93 L542.00,311.89 L541.50,311.86 L541.00,311.83 L540.50,311.80 L540.00,311.77 L539.50,311.74 L539.00,311.71 L538.59,311.69 L538.50,311.68 L538.00,311.65 L537.50,311.63 L537.00,311.60 L536.50,311.58 L536.00,311.55 L535.50,311.53 L535.00,311.51 L534.50,311.49 L534.00,311.47 L533.50,311.45 L533.10,311.43 L533.00,311.43 L532.50,311.41 L532.00,311.40 L531.50,311.38 L531.00,311.36 L530.50,311.35 L530.00,311.34 L529.50,311.32 L529.00,311.31 L528.50,311.30 L528.00,311.29 L527.61,311.28 L527.50,311.28 L527.00,311.27 L526.50,311.26 L526.00,311.25 L525.50,311.25 L525.00,311.24 L524.50,311.24 L524.00,311.23 L523.50,311.23 L523.00,311.22 L522.58,311.22 L522.50,312.13 L522.12,316.20 L522.00,317.52 L521.50,322.91 L521.00,328.31 L520.50,333.70 L520.00,339.09 L519.50,344.48 L519.00,349.87 L518.50,355.26 L518.00,360.66 L517.50,366.05 L517.00,371.44 L516.63,375.40 L516.50,372.42 L516.00,361.20 L515.50,349.98 L515.00,338.76 L514.50,327.54 L514.00,316.32 L513.78,311.31 L513.50,311.31 L513.00,311.33 L512.50,311.34 L512.00,311.35 L511.50,311.37 L511.14,311.38 L511.00,311.38 L510.50,311.40 L510.00,311.42 L509.50,311.43 L509.00,311.45 L508.50,311.47 L508.00,311.49 L507.50,311.51 L507.00,311.53 L506.50,311.55 L506.00,311.57 L505.65,311.59 L505.50,311.60 L505.00,311.62 L504.50,311.64 L504.00,311.67 L503.50,311.70 L503.00,311.72 L502.50,311.75 L502.00,311.78 L501.50,311.80 L501.00,311.83 L500.50,311.86 L500.16,311.88 L500.00,311.89 L499.50,311.92 L499.00,311.96 L498.50,311.99 L498.00,312.02 L497.50,312.06 L497.00,312.09 L496.50,312.13 L496.00,312.16 L495.50,312.20 L495.00,312.23 L494.67,312.26 L494.50,312.27 L494.00,312.31 L493.50,312.35 L493.00,312.39 L492.50,312.43 L492.00,312.47 L491.50,312.51 L491.00,312.55 L490.50,312.60 L490.00,312.64 L489.50,312.68 L489.18,312.71 L489.00,312.73 L488.50,312.77 L488.00,312.82 L487.50,312.86 L487.00,312.91 L486.50,312.96 L486.00,313.01 L485.50,313.06 L485.00,313.11 L484.50,313.16 L484.00,313.21 L483.69,313.24 L483.50,313.26 L483.00,313.31 L482.50,313.36 L482.00,313.41 L481.50,313.47 L481.00,313.52 L480.50,313.58 L480.00,313.63 L479.50,313.69 L479.00,313.74 L478.50,313.80 L478.20,313.83 L478.00,313.86 L477.50,313.92 L477.00,313.97 L476.50,314.03 L476.00,314.09 L475.50,314.15 L475.00,314.21 L474.50,314.27 L474.00,314.34 L473.50,314.40 L473.00,314.46 L472.71,314.50 L472.50,314.52 L472.00,314.59 L471.50,314.65 L471.00,314.72 L470.50,314.78 L470.00,314.85 L469.50,314.91 L469.00,314.98 L468.50,315.05 L468.00,315.12 L467.50,315.19 L467.22,315.22 L467.00,315.25 L466.50,315.32 L466.00,315.39 L465.50,315.46 L465.00,315.54 L464.50,315.61 L464.00,315.68 L463.50,315.75 L463.00,315.82 L462.50,315.90 L462.00,315.97 L461.73,316.01 L461.50,316.04 L461.00,316.12 L460.50,316.19 L460.00,316.27 L459.50,316.35 L459.00,316.42 L458.50,316.50 L458.00,316.58 L457.50,316.65 L457.00,316.73 L456.50,316.81 L456.24,316.85 L456.00,316.89 L455.50,316.97 L455.00,317.05 L454.50,317.13 L454.00,317.21 L453.50,317.29 L453.00,317.38 L452.50,317.46 L452.00,317.54 L451.50,317.62 L451.00,317.71 L450.76,317.75 L450.76,317.80 L450.75,317.75 L450.50,317.79 L450.00,317.87 L449.50,317.96 L449.00,318.04 L448.50,318.13 L448.00,318.22 L447.50,318.30 L447.00,318.39 L446.50,318.48 L446.00,318.56 L445.50,318.65 L445.27,318.69 L445.00,318.74 L444.50,318.83 L444.00,318.92 L443.50,319.01 L443.00,319.09 L442.50,319.18 L442.00,319.28 L441.50,319.37 L441.00,319.46 L440.50,319.55 L440.00,319.64 L439.78,319.68 L439.50,319.73 L439.00,319.83 L438.50,319.92 L438.00,320.01 L437.50,320.10 L437.00,320.20 L436.50,320.29 L436.00,320.39 L435.50,320.48 L435.00,320.58 L434.50,320.67 L434.29,320.71 L434.00,320.77 L433.50,320.86 L433.00,320.96 L432.50,321.06 L432.00,321.16 L431.50,321.25 L431.00,321.35 L430.50,321.45 L430.00,321.55 L429.50,321.65 L429.00,321.74 L428.80,321.78 L428.50,321.84 L428.00,321.94 L427.50,322.04 L427.00,322.14 L426.50,322.24 L426.00,322.34 L425.50,322.45 L425.00,322.55 L424.50,322.65 L424.00,322.75 L423.50,322.85 L423.31,322.89 L423.00,322.95 L422.91,322.97 L422.50,324.99 L422.00,327.47 L421.50,329.95 L421.00,332.43 L420.50,334.90 L420.00,337.38 L419.50,339.86 L419.00,342.34 L418.50,344.81 L418.00,347.29 L417.82,348.20 L417.50,343.59 L417.00,336.30 L416.50,329.02 L416.18,324.38 L416.00,324.41 L415.50,324.52 L415.00,324.63 L414.50,324.73 L414.00,324.84 L413.50,324.95 L413.00,325.05 L412.50,325.16 L412.33,325.20 L412.00,325.27 L411.50,325.38 L411.00,325.49 L410.50,325.59 L410.00,325.70 L409.50,325.81 L409.00,325.92 L408.50,326.03 L408.00,326.14 L407.50,326.25 L407.00,326.36 L406.84,326.39 L406.50,326.47 L406.00,326.58 L405.50,326.69 L405.00,326.80 L404.50,326.91 L404.00,327.02 L403.50,327.13 L403.00,327.24 L402.50,327.35 L402.00,327.47 L401.50,327.58 L401.35,327.61 L401.00,327.69 L400.50,327.80 L400.00,327.91 L399.50,328.03 L399.00,328.14 L398.50,328.25 L398.00,328.37 L397.50,328.48 L397.00,328.59 L396.50,328.71 L396.00,328.82 L395.86,328.85 L395.50,328.93 L395.00,329.05 L394.50,329.16 L394.00,329.28 L393.50,329.39 L393.00,329.50 L392.50,329.62 L392.00,329.73 L391.50,329.85 L391.00,329.96 L390.50,330.08 L390.37,330.11 L390.00,330.19 L389.50,330.31 L389.00,330.42 L388.50,330.54 L388.00,330.66 L387.50,330.77 L387.00,330.89 L386.50,331.00 L386.00,331.12 L385.50,331.24 L385.00,331.35 L384.88,331.38 L384.50,331.47 L384.20,331.54 L384.00,333.66 L383.50,339.06 L383.00,344.45 L382.50,349.84 L382.00,355.23 L381.50,360.62 L381.00,366.01 L380.50,371.41 L380.00,376.80 L379.50,382.19 L379.39,383.40 L379.00,383.40 L378.50,383.40 L378.00,383.40 L377.50,383.40 L377.00,383.40 L376.50,383.40 L376.00,383.40 L375.50,383.40 L375.00,383.40 L374.50,383.40 L374.00,383.40 L373.90,383.40 L373.50,375.51 L373.00,365.60 L372.50,355.69 L372.00,345.78 L371.50,335.88 L371.43,334.55 L371.00,334.66 L370.50,334.78 L370.00,334.90 L369.50,335.02 L369.00,335.13 L368.50,335.25 L368.41,335.28 L368.00,335.37 L367.50,335.49 L367.00,335.61 L366.50,335.73 L366.00,335.85 L365.50,335.97 L365.00,336.09 L364.50,336.21 L364.00,336.33 L363.50,336.45 L363.00,336.57 L362.92,336.59 L362.50,336.69 L362.18,336.77 L362.00,338.64 L361.50,343.88 L361.00,349.13 L360.50,354.37 L360.00,359.62 L359.50,364.87 L359.00,370.11 L358.50,375.36 L358.00,380.60 L357.50,385.85 L357.43,386.60 L357.00,386.72 L356.50,386.87 L356.00,387.02 L355.50,387.16 L355.00,387.31 L354.50,387.45 L354.00,387.60 L353.50,387.74 L353.00,387.89 L352.50,388.04 L352.00,388.18 L351.94,388.20 L351.50,389.99 L351.00,392.03 L350.50,394.07 L350.00,396.11 L349.50,398.15 L349.00,400.19 L348.50,402.23 L348.00,404.27 L347.50,406.31 L347.00,408.35 L346.50,410.39 L346.45,410.60 L346.00,415.05 L345.50,420.00 L345.00,424.96 L344.50,429.91 L344.00,434.87 L343.50,439.82 L343.00,444.78 L342.50,449.73 L342.00,454.69 L341.50,459.64 L341.00,464.60 L340.96,465.00 L340.50,461.45 L340.00,457.59 L339.50,453.73 L339.00,449.87 L338.50,446.01 L338.00,442.14 L337.50,438.28 L337.00,434.42 L336.50,430.56 L336.00,426.70 L335.50,422.84 L335.47,422.60 L335.00,425.40 L334.50,428.39 L334.00,431.38 L333.50,434.37 L333.00,437.35 L332.50,440.34 L332.00,443.33 L331.50,446.32 L331.00,449.30 L330.50,452.29 L330.00,455.28 L329.98,455.40 L329.50,452.46 L329.00,449.40 L328.50,446.34 L328.00,443.28 L327.50,440.22 L327.00,437.16 L326.50,434.10 L326.00,431.04 L325.50,427.98 L325.00,424.92 L324.50,421.86 L324.49,421.80 L324.00,418.09 L323.50,414.30 L323.00,410.51 L322.50,406.72 L322.00,402.93 L321.50,399.14 L321.00,395.36 L320.50,391.57 L320.00,387.78 L319.50,383.99 L319.00,380.20 L318.50,377.43 L318.00,374.66 L317.50,371.89 L317.00,369.12 L316.50,366.36 L316.00,363.59 L315.50,360.82 L315.00,358.05 L314.50,355.28 L314.00,352.51 L313.51,349.80 L313.50,349.78 L313.00,348.91 L312.89,348.72 L312.50,348.82 L312.00,348.94 L311.50,349.06 L311.00,349.18 L310.50,349.30 L310.00,349.42 L309.50,349.54 L309.00,349.67 L308.50,349.79 L308.02,349.90 L308.00,349.91 L307.50,350.03 L307.00,350.15 L306.50,350.27 L306.00,350.39 L305.50,350.52 L305.00,350.64 L304.50,350.76 L304.00,350.88 L303.50,351.00 L303.00,351.12 L302.53,351.24 L302.50,351.24 L302.00,351.36 L301.50,351.49 L301.00,351.61 L300.50,351.73 L300.00,351.85 L299.50,351.97 L299.00,352.09 L298.50,352.21 L298.00,352.34 L297.50,352.46 L297.04,352.57 L297.00,352.58 L296.50,352.70 L296.00,352.82 L295.50,352.94 L295.00,353.06 L294.50,353.18 L294.00,353.31 L293.50,353.43 L293.00,353.55 L292.50,353.67 L292.00,353.79 L291.55,353.90 L291.50,353.91 L291.00,354.03 L290.50,354.16 L290.00,354.28 L289.50,354.40 L289.00,354.52 L288.50,354.64 L288.00,354.76 L287.50,354.88 L287.00,355.01 L286.50,355.13 L286.06,355.23 L286.00,355.25 L285.50,355.37 L285.00,355.49 L284.50,355.61 L284.00,355.74 L283.50,355.86 L283.00,355.98 L282.50,356.10 L282.00,356.22 L281.50,356.34 L281.00,356.47 L280.57,356.57 L280.50,356.59 L280.00,356.71 L279.50,356.83 L279.00,356.95 L278.50,357.07 L278.00,357.20 L277.50,357.32 L277.00,357.44 L276.50,357.56 L276.00,357.68 L275.50,357.81 L275.08,357.91 L275.00,357.93 L274.50,358.05 L274.00,358.17 L273.50,358.29 L273.00,358.42 L272.65,358.50 L272.50,361.62 L272.00,371.97 L271.50,382.31 L271.00,392.66 L270.50,403.01 L270.00,413.35 L269.59,421.80 L269.50,419.10 L269.00,404.38 L268.50,389.66 L268.00,374.94 L267.50,360.22 L267.48,359.77 L267.00,359.88 L266.50,360.01 L266.00,360.13 L265.50,360.25 L265.00,360.38 L264.50,360.50 L264.10,360.60 L264.00,360.62 L263.50,360.74 L263.00,360.87 L262.50,360.99 L262.00,361.11 L261.50,361.24 L261.00,361.36 L260.50,361.48 L260.00,361.61 L259.50,361.73 L259.00,361.85 L258.61,361.95 L258.50,361.98 L258.00,362.10 L257.50,362.22 L257.00,362.35 L256.50,362.47 L256.00,362.60 L255.50,362.72 L255.00,362.84 L254.50,362.97 L254.00,363.09 L253.50,363.22 L253.12,363.31 L253.00,363.34 L252.50,363.46 L252.00,363.59 L251.79,363.64 L251.50,367.70 L251.00,374.69 L250.50,381.69 L250.00,388.68 L249.50,395.68 L249.00,402.67 L248.50,409.67 L248.00,416.66 L247.63,421.80 L247.50,420.56 L247.00,415.90 L246.50,411.24 L246.00,406.57 L245.50,401.91 L245.00,397.25 L244.50,392.58 L244.00,387.92 L243.50,383.26 L243.00,378.59 L242.50,373.93 L242.14,370.60 L242.00,368.60 L241.82,366.14 L241.50,366.22 L241.00,366.35 L240.50,366.48 L240.00,366.60 L239.50,366.73 L239.00,366.86 L238.50,366.99 L238.00,367.11 L237.50,367.24 L237.00,367.37 L236.65,367.46 L236.50,367.49 L236.00,367.62 L235.50,367.75 L235.00,367.88 L234.50,368.01 L234.00,368.13 L233.50,368.26 L233.00,368.39 L232.50,368.52 L232.00,368.65 L231.50,368.78 L231.16,368.86 L231.00,368.91 L230.50,369.04 L230.00,369.16 L229.50,369.29 L229.00,369.42 L228.50,369.55 L228.00,369.68 L227.50,369.81 L227.00,369.94 L226.50,370.07 L226.00,370.20 L225.67,370.29 L225.50,370.33 L225.00,370.47 L224.50,370.60 L224.00,370.73 L223.50,370.86 L223.00,370.99 L222.50,371.12 L222.00,371.25 L221.50,371.39 L221.00,371.52 L220.50,371.65 L220.18,371.73 L220.00,371.78 L219.50,371.91 L219.00,372.05 L218.50,372.18 L218.00,372.31 L217.50,372.45 L217.18,372.53 L217.00,374.88 L216.50,381.58 L216.00,388.29 L215.50,394.99 L215.00,401.69 L214.69,405.80 L214.50,408.45 L214.00,415.30 L213.50,422.15 L213.00,429.00 L212.50,435.85 L212.00,442.70 L211.50,449.55 L211.00,456.40 L210.50,463.25 L210.00,470.10 L209.50,476.95 L209.20,481.00 L209.00,478.62 L208.50,472.79 L208.00,466.96 L207.50,461.13 L207.00,455.31 L206.50,449.48 L206.00,443.65 L205.50,437.82 L205.00,431.99 L204.50,426.16 L204.00,420.33 L203.71,417.00 L203.50,418.62 L203.00,422.41 L202.50,426.20 L202.00,429.99 L201.50,433.78 L201.00,437.57 L200.50,441.36 L200.00,445.15 L199.50,448.93 L199.00,452.72 L198.50,456.51 L198.22,458.60 L198.00,460.63 L197.50,465.14 L197.00,469.66 L196.50,474.18 L196.00,478.70 L195.50,483.21 L195.00,487.73 L194.50,492.25 L194.00,496.77 L193.50,501.28 L193.00,505.80 L192.73,508.20 L192.50,505.53 L192.00,499.85 L191.50,494.17 L191.00,488.48 L190.50,482.80 L190.00,477.12 L189.50,471.43 L189.00,465.75 L188.50,460.07 L188.00,454.38 L187.50,448.70 L187.24,445.80 L187.00,447.66 L186.50,451.44 L186.00,455.23 L185.50,459.02 L185.00,462.81 L184.50,466.60 L184.00,470.39 L183.50,474.18 L183.00,477.97 L182.50,481.75 L182.00,485.54 L181.75,487.40 L181.50,481.68 L181.00,470.46 L180.50,459.24 L180.00,448.01 L179.50,436.79 L179.00,425.57 L178.50,414.35 L178.00,403.13 L177.50,391.91 L177.14,383.92 L177.00,383.96 L176.50,384.12 L176.27,384.19 L176.00,384.27 L175.50,384.42 L175.26,384.50 L175.00,389.64 L174.50,399.70 L174.00,409.75 L173.50,419.81 L173.00,429.86 L172.50,439.92 L172.00,449.97 L171.50,460.03 L171.00,470.08 L170.78,474.60 L170.50,478.85 L170.00,486.58 L169.50,494.30 L169.00,502.02 L168.50,509.75 L168.00,517.47 L167.50,525.19 L167.00,532.92 L166.50,540.64 L166.00,548.36 L165.50,556.09 L165.29,559.40 L165.00,556.49 L164.50,551.39 L164.00,546.29 L163.50,541.19 L163.00,536.09 L162.50,530.98 L162.00,525.88 L161.50,520.78 L161.00,515.68 L160.50,510.58 L160.00,505.48 L159.80,503.40 L159.50,505.30 L159.00,508.50 L158.50,511.71 L158.00,514.91 L157.50,518.12 L157.00,521.33 L156.50,524.53 L156.00,527.74 L155.50,530.94 L155.00,534.15 L154.50,537.36 L154.31,538.60 L154.00,537.40 L153.50,535.43 L153.00,533.46 L152.50,531.49 L152.00,529.53 L151.50,527.56 L151.00,525.59 L150.50,523.63 L150.00,521.66 L149.50,519.69 L149.00,517.72 L148.82,517.00 L148.50,517.32 L148.00,517.83 L147.50,518.34 L147.00,518.85 L146.50,519.36 L146.00,519.87 L145.50,520.38 L145.00,520.89 L144.50,521.40 L144.00,521.91 L143.50,522.42 L143.33,522.60 L143.00,521.93 L142.50,520.91 L142.00,519.89 L141.50,518.87 L141.00,517.85 L140.50,516.83 L140.00,515.81 L139.50,514.79 L139.00,513.77 L138.50,512.75 L138.00,511.73 L137.84,511.40 L137.50,513.41 L137.00,516.40 L136.50,519.39 L136.00,522.37 L135.50,525.36 L135.00,528.35 L134.50,531.34 L134.00,534.32 L133.50,537.31 L133.00,540.30 L132.50,543.28 L132.35,544.20 L132.00,540.01 L131.50,533.96 L131.00,527.91 L130.50,521.86 L130.00,515.82 L129.50,509.77 L129.00,503.72 L128.50,497.67 L128.00,491.62 L127.50,485.58 L127.00,479.53 L126.86,477.80 L126.50,472.91 L126.00,466.06 L125.50,459.21 L125.00,452.36 L124.50,445.51 L124.00,438.66 L123.50,431.82 L123.00,424.97 L122.50,418.12 L122.00,411.27 L121.50,404.42 L121.40,403.01 L121.37,403.02 L121.32,403.04 L121.00,406.24 L120.50,411.19 L120.00,416.15 L119.50,421.10 L119.00,426.06 L118.50,431.01 L118.00,435.97 L117.50,440.92 L117.00,445.88 L116.50,450.83 L116.00,455.79 L115.88,457.00 L115.50,459.42 L115.00,462.63 L114.50,465.83 L114.00,469.04 L113.50,472.24 L113.00,475.45 L112.50,478.66 L112.00,481.86 L111.50,485.07 L111.00,488.27 L110.50,491.48 L110.39,492.20 L110.00,489.15 L109.50,485.22 L109.00,481.28 L108.50,477.35 L108.00,473.41 L107.50,469.48 L107.00,465.54 L106.50,461.61 L106.00,457.67 L105.50,453.74 L105.00,449.80 L104.90,449.00 L104.50,445.99 L104.00,442.20 L103.50,438.41 L103.00,434.62 L102.50,430.83 L102.00,427.04 L101.50,423.25 L101.00,419.46 L100.50,415.67 L100.00,411.89 L99.95,411.54 L99.50,411.73 L99.41,411.76 L99.00,411.93 L98.82,412.01 L98.50,414.55 L98.00,418.48 L97.50,422.41 L97.00,426.35 L96.50,430.28 L96.00,434.22 L95.50,438.15 L95.00,442.09 L94.50,446.02 L94.00,449.96 L93.92,450.60 L93.50,454.01 L93.00,458.09 L92.50,462.17 L92.00,466.25 L91.50,470.33 L91.00,474.41 L90.50,478.49 L90.00,482.57 L89.50,486.66 L89.00,490.74 L88.50,494.82 L88.43,495.40 L88.00,492.65 L87.50,489.45 L87.00,486.24 L86.50,483.04 L86.00,479.83 L85.50,476.62 L85.00,473.42 L84.50,470.21 L84.00,467.01 L83.50,463.80 L83.00,460.59 L82.94,460.20 L82.50,458.79 L82.00,457.19 L81.50,455.59 L81.00,453.98 L80.50,452.38 L80.00,450.78 L79.50,449.18 L79.00,447.57 L78.50,445.97 L78.00,444.37 L77.50,442.76 L77.45,442.60 L77.00,440.11 L76.50,437.35 L76.00,434.58 L75.50,431.81 L75.00,429.04 L74.50,426.27 L74.00,423.50 L73.86,422.71 L73.50,422.87 L73.00,423.09 L72.50,423.31 L72.00,423.53 L71.96,423.55 L71.50,423.75 L71.00,423.97 L70.50,424.19 L70.00,424.42 L69.50,424.64 L69.00,424.86 L68.50,425.08 L68.00,425.31 L67.50,425.53 L67.00,425.75 L66.50,425.98 L66.47,425.99 L66.00,426.20 L65.50,426.42 L65.00,426.65 L64.50,426.87 L64.00,427.09 L63.50,427.32 L63.00,427.54 L62.50,427.77 L62.00,427.99 L61.50,428.22 L61.00,428.44 L60.98,428.45 L60.50,428.67 L60.00,428.89 L59.50,429.11 L59.00,429.34 L58.50,429.57 L58.00,429.79 L57.50,430.02 L57.00,430.24 L56.50,430.47 L56.00,430.69 L55.50,430.92 L55.49,430.92 L55.00,431.14 L54.50,431.37 L54.00,431.59 L53.50,431.82 L53.00,432.05 L52.50,432.27 L52.00,432.50 L51.50,432.72 L51.00,432.95 L50.50,433.18 L50.00,433.40 L50.00,433.40 L49.50,433.63 L49.00,433.85 L48.50,434.08 L48.00,434.31 L47.50,434.53 L47.00,434.76 L46.50,434.98 L46.00,435.21 L45.52,435.43 L45.50,435.52 L45.00,438.29 L44.51,441.00 L44.50,441.11 L44.00,446.65 L43.50,452.19 L43.00,457.72 L42.50,463.26 L42.00,468.80 L41.50,474.34 L41.00,479.87 L40.50,485.41 L40.00,490.95 L39.50,496.49 L39.02,501.80 L39.00,501.63 L38.50,497.40 L38.00,493.18 L37.50,488.95 L37.00,484.73 L36.50,480.50 L36.00,476.27 L35.50,472.05 L35.00,467.82 L34.50,463.60 L34.00,459.37 L33.53,455.40 L33.50,455.38 L33.00,455.09 L32.50,454.80 L32.00,454.51 L31.50,454.22 L31.00,453.93 L30.50,453.63 L30.00,453.34Z"/></clipPath>
<clipPath id="cp"><rect x="30" y="81" width="685" height="505"/></clipPath>
<linearGradient id="w10" gradientUnits="userSpaceOnUse" x1="30" y1="0" x2="630.00" y2="0"><stop offset="0.0000" stop-color="#ffe400"/><stop offset="0.0200" stop-color="#ffe400"/><stop offset="0.0400" stop-color="#ffe400"/><stop offset="0.0600" stop-color="#ffe400"/><stop offset="0.0800" stop-color="#ffe400"/><stop offset="0.1000" stop-color="#ffe400"/><stop offset="0.1200" stop-color="#ffe400"/><stop offset="0.1400" stop-color="#ffe400"/><stop offset="0.1600" stop-color="#ffe400"/><stop offset="0.1800" stop-color="#ffe400"/><stop offset="0.2000" stop-color="#ffe400"/><stop offset="0.2200" stop-color="#ffe400"/><stop offset="0.2400" stop-color="#ffe400"/><stop offset="0.2600" stop-color="#ffe400"/><stop offset="0.2800" stop-color="#ffe400"/><stop offset="0.3000" stop-color="#ffe400"/><stop offset="0.3200" stop-color="#ffe400"/><stop offset="0.3400" stop-color="#ffe400"/><stop offset="0.3600" stop-color="#ffe400"/><stop offset="0.3800" stop-color="#ffe400"/><stop offset="0.4000" stop-color="#ffe400"/><stop offset="0.4200" stop-color="#ffe400"/><stop offset="0.4400" stop-color="#ffe400"/><stop offset="0.4600" stop-color="#ffe400"/><stop offset="0.4800" stop-color="#ffe400"/><stop offset="0.5000" stop-color="#ffe400"/><stop offset="0.5200" stop-color="#ffe400"/><stop offset="0.5400" stop-color="#ffe400"/><stop offset="0.5600" stop-color="#ffe400"/><stop offset="0.5800" stop-color="#ffe400"/><stop offset="0.6000" stop-color="#ffe400"/><stop offset="0.6200" stop-color="#ffe400"/><stop offset="0.6400" stop-color="#ffe400"/><stop offset="0.6600" stop-color="#ffe400"/><stop offset="0.6800" stop-color="#ffe400"/><stop offset="0.7000" stop-color="#ffe400"/><stop offset="0.7200" stop-color="#ffe400"/><stop offset="0.7400" stop-color="#ffe400"/><stop offset="0.7600" stop-color="#ffe400"/><stop offset="0.7800" stop-color="#ffe400"/><stop offset="0.8000" stop-color="#ffe400"/><stop offset="0.8200" stop-color="#ffe400"/><stop offset="0.8400" stop-color="#ffe400"/><stop offset="0.8600" stop-color="#ffe400"/><stop offset="0.8800" stop-color="#ffe400"/><stop offset="0.9000" stop-color="#ffe400"/><stop offset="0.9200" stop-color="#ffe400"/><stop offset="0.9400" stop-color="#ffe400"/><stop offset="0.9600" stop-color="#ffe400"/><stop offset="0.9800" stop-color="#ffe400"/><stop offset="1.0000" stop-color="#ffe400"/></linearGradient>
<linearGradient id="c10" gradientUnits="userSpaceOnUse" x1="30" y1="0" x2="630.00" y2="0"><stop offset="0.0000" stop-color="#a128f0"/><stop offset="0.0200" stop-color="#a52bf0"/><stop offset="0.0400" stop-color="#aa2df0"/><stop offset="0.0600" stop-color="#af2ff0"/><stop offset="0.0800" stop-color="#b030f0"/><stop offset="0.1000" stop-color="#b030f0"/><stop offset="0.1200" stop-color="#b030f0"/><stop offset="0.1400" stop-color="#b030f0"/><stop offset="0.1600" stop-color="#b030f0"/><stop offset="0.1800" stop-color="#b030f0"/><stop offset="0.2000" stop-color="#b030f0"/><stop offset="0.2200" stop-color="#b030f0"/><stop offset="0.2400" stop-color="#b030f0"/><stop offset="0.2600" stop-color="#b030f0"/><stop offset="0.2800" stop-color="#b030f0"/><stop offset="0.3000" stop-color="#b030f0"/><stop offset="0.3200" stop-color="#b030f0"/><stop offset="0.3400" stop-color="#b030f0"/><stop offset="0.3600" stop-color="#b030f0"/><stop offset="0.3800" stop-color="#b030f0"/><stop offset="0.4000" stop-color="#b030f0"/><stop offset="0.4200" stop-color="#b030f0"/><stop offset="0.4400" stop-color="#b030f0"/><stop offset="0.4600" stop-color="#b030f0"/><stop offset="0.4800" stop-color="#b030f0"/><stop offset="0.5000" stop-color="#b030f0"/><stop offset="0.5200" stop-color="#b030f0"/><stop offset="0.5400" stop-color="#b030f0"/><stop offset="0.5600" stop-color="#b030f0"/><stop offset="0.5800" stop-color="#b030f0"/><stop offset="0.6000" stop-color="#b030f0"/><stop offset="0.6200" stop-color="#b030f0"/><stop offset="0.6400" stop-color="#b030f0"/><stop offset="0.6600" stop-color="#b030f0"/><stop offset="0.6800" stop-color="#b030f0"/><stop offset="0.7000" stop-color="#b030f0"/><stop offset="0.7200" stop-color="#b030f0"/><stop offset="0.7400" stop-color="#b030f0"/><stop offset="0.7600" stop-color="#b030f0"/><stop offset="0.7800" stop-color="#b030f0"/><stop offset="0.8000" stop-color="#b030f0"/><stop offset="0.8200" stop-color="#b030f0"/><stop offset="0.8400" stop-color="#b030f0"/><stop offset="0.8600" stop-color="#b030f0"/><stop offset="0.8800" stop-color="#b030f0"/><stop offset="0.9000" stop-color="#b030f0"/><stop offset="0.9200" stop-color="#b030f0"/><stop offset="0.9400" stop-color="#b030f0"/><stop offset="0.9600" stop-color="#b030f0"/><stop offset="0.9800" stop-color="#b030f0"/><stop offset="1.0000" stop-color="#b030f0"/></linearGradient>
<linearGradient id="w11" gradientUnits="userSpaceOnUse" x1="30" y1="0" x2="630.00" y2="0"><stop offset="0.0000" stop-color="#ffe400"/><stop offset="0.0200" stop-color="#ffe400"/><stop offset="0.0400" stop-color="#ffe400"/><stop offset="0.0600" stop-color="#ffe400"/><stop offset="0.0800" stop-color="#ffe400"/><stop offset="0.1000" stop-color="#ffe400"/><stop offset="0.1200" stop-color="#ffe400"/><stop offset="0.1400" stop-color="#ffe400"/><stop offset="0.1600" stop-color="#ffe400"/><stop offset="0.1800" stop-color="#ffe400"/><stop offset="0.2000" stop-color="#ffe400"/><stop offset="0.2200" stop-color="#ffe400"/><stop offset="0.2400" stop-color="#ffe400"/><stop offset="0.2600" stop-color="#ffe400"/><stop offset="0.2800" stop-color="#ffe400"/><stop offset="0.3000" stop-color="#ffe400"/><stop offset="0.3200" stop-color="#ffe400"/><stop offset="0.3400" stop-color="#ffe400"/><stop offset="0.3600" stop-color="#ffe400"/><stop offset="0.3800" stop-color="#ffe400"/><stop offset="0.4000" stop-color="#ffe400"/><stop offset="0.4200" stop-color="#ffe400"/><stop offset="0.4400" stop-color="#ffe400"/><stop offset="0.4600" stop-color="#ffe400"/><stop offset="0.4800" stop-color="#ffe400"/><stop offset="0.5000" stop-color="#ffe400"/><stop offset="0.5200" stop-color="#ffe400"/><stop offset="0.5400" stop-color="#ffe400"/><stop offset="0.5600" stop-color="#ffe400"/><stop offset="0.5800" stop-color="#ffe400"/><stop offset="0.6000" stop-color="#ffe400"/><stop offset="0.6200" stop-color="#ffe400"/><stop offset="0.6400" stop-color="#ffe400"/><stop offset="0.6600" stop-color="#ffe400"/><stop offset="0.6800" stop-color="#ffe400"/><stop offset="0.7000" stop-color="#ffe400"/><stop offset="0.7200" stop-color="#ffe400"/><stop offset="0.7400" stop-color="#ffe400"/><stop offset="0.7600" stop-color="#ffe400"/><stop offset="0.7800" stop-color="#ffe400"/><stop offset="0.8000" stop-color="#ffe400"/><stop offset="0.8200" stop-color="#ffe400"/><stop offset="0.8400" stop-color="#ffe400"/><stop offset="0.8600" stop-color="#ffe400"/><stop offset="0.8800" stop-color="#ffe400"/><stop offset="0.9000" stop-color="#ffe400"/><stop offset="0.9200" stop-color="#ffe400"/><stop offset="0.9400" stop-color="#ffe400"/><stop offset="0.9600" stop-color="#ffe400"/><stop offset="0.9800" stop-color="#ffe400"/><stop offset="1.0000" stop-color="#ffe400"/></linearGradient>
<linearGradient id="c11" gradientUnits="userSpaceOnUse" x1="30" y1="0" x2="630.00" y2="0"><stop offset="0.0000" stop-color="#8d20e7"/><stop offset="0.0200" stop-color="#9322ea"/><stop offset="0.0400" stop-color="#9824ec"/><stop offset="0.0600" stop-color="#9d26ee"/><stop offset="0.0800" stop-color="#a229f0"/><stop offset="0.1000" stop-color="#a62bf0"/><stop offset="0.1200" stop-color="#aa2df0"/><stop offset="0.1400" stop-color="#ae2ff0"/><stop offset="0.1600" stop-color="#b030f0"/><stop offset="0.1800" stop-color="#b030f0"/><stop offset="0.2000" stop-color="#b030f0"/><stop offset="0.2200" stop-color="#b030f0"/><stop offset="0.2400" stop-color="#b030f0"/><stop offset="0.2600" stop-color="#b030f0"/><stop offset="0.2800" stop-color="#b030f0"/><stop offset="0.3000" stop-color="#b030f0"/><stop offset="0.3200" stop-color="#b030f0"/><stop offset="0.3400" stop-color="#b030f0"/><stop offset="0.3600" stop-color="#b030f0"/><stop offset="0.3800" stop-color="#b030f0"/><stop offset="0.4000" stop-color="#b030f0"/><stop offset="0.4200" stop-color="#b030f0"/><stop offset="0.4400" stop-color="#b030f0"/><stop offset="0.4600" stop-color="#b030f0"/><stop offset="0.4800" stop-color="#b030f0"/><stop offset="0.5000" stop-color="#b030f0"/><stop offset="0.5200" stop-color="#b030f0"/><stop offset="0.5400" stop-color="#b030f0"/><stop offset="0.5600" stop-color="#b030f0"/><stop offset="0.5800" stop-color="#b030f0"/><stop offset="0.6000" stop-color="#b030f0"/><stop offset="0.6200" stop-color="#b030f0"/><stop offset="0.6400" stop-color="#b030f0"/><stop offset="0.6600" stop-color="#b030f0"/><stop offset="0.6800" stop-color="#b030f0"/><stop offset="0.7000" stop-color="#b030f0"/><stop offset="0.7200" stop-color="#b030f0"/><stop offset="0.7400" stop-color="#b030f0"/><stop offset="0.7600" stop-color="#b030f0"/><stop offset="0.7800" stop-color="#b030f0"/><stop offset="0.8000" stop-color="#b030f0"/><stop offset="0.8200" stop-color="#b030f0"/><stop offset="0.8400" stop-color="#b030f0"/><stop offset="0.8600" stop-color="#b030f0"/><stop offset="0.8800" stop-color="#b030f0"/><stop offset="0.9000" stop-color="#b030f0"/><stop offset="0.9200" stop-color="#b030f0"/><stop offset="0.9400" stop-color="#b030f0"/><stop offset="0.9600" stop-color="#b030f0"/><stop offset="0.9800" stop-color="#b030f0"/><stop offset="1.0000" stop-color="#b030f0"/></linearGradient>
<linearGradient id="w12" gradientUnits="userSpaceOnUse" x1="30" y1="0" x2="630.00" y2="0"><stop offset="0.0000" stop-color="#ffe400"/><stop offset="0.0200" stop-color="#ffe400"/><stop offset="0.0400" stop-color="#ffe400"/><stop offset="0.0600" stop-color="#ffe400"/><stop offset="0.0800" stop-color="#ffe400"/><stop offset="0.1000" stop-color="#ffe400"/><stop offset="0.1200" stop-color="#ffe400"/><stop offset="0.1400" stop-color="#ffe400"/><stop offset="0.1600" stop-color="#ffe400"/><stop offset="0.1800" stop-color="#ffe400"/><stop offset="0.2000" stop-color="#ffe400"/><stop offset="0.2200" stop-color="#ffe400"/><stop offset="0.2400" stop-color="#ffe400"/><stop offset="0.2600" stop-color="#ffe400"/><stop offset="0.2800" stop-color="#ffe400"/><stop offset="0.3000" stop-color="#ffe400"/><stop offset="0.3200" stop-color="#ffe400"/><stop offset="0.3400" stop-color="#ffe400"/><stop offset="0.3600" stop-color="#ffe400"/><stop offset="0.3800" stop-color="#ffe400"/><stop offset="0.4000" stop-color="#ffe400"/><stop offset="0.4200" stop-color="#ffe400"/><stop offset="0.4400" stop-color="#ffe400"/><stop offset="0.4600" stop-color="#ffe400"/><stop offset="0.4800" stop-color="#ffe400"/><stop offset="0.5000" stop-color="#ffe400"/><stop offset="0.5200" stop-color="#ffe400"/><stop offset="0.5400" stop-color="#ffe400"/><stop offset="0.5600" stop-color="#ffe400"/><stop offset="0.5800" stop-color="#ffe400"/><stop offset="0.6000" stop-color="#ffe400"/><stop offset="0.6200" stop-color="#ffe400"/><stop offset="0.6400" stop-color="#ffe400"/><stop offset="0.6600" stop-color="#ffe400"/><stop offset="0.6800" stop-color="#ffe400"/><stop offset="0.7000" stop-color="#ffe400"/><stop offset="0.7200" stop-color="#ffe400"/><stop offset="0.7400" stop-color="#ffe400"/><stop offset="0.7600" stop-color="#ffe400"/><stop offset="0.7800" stop-color="#ffe400"/><stop offset="0.8000" stop-color="#ffe400"/><stop offset="0.8200" stop-color="#ffe400"/><stop offset="0.8400" stop-color="#ffe400"/><stop offset="0.8600" stop-color="#ffe400"/><stop offset="0.8800" stop-color="#ffe400"/><stop offset="0.9000" stop-color="#ffe400"/><stop offset="0.9200" stop-color="#ffe400"/><stop offset="0.9400" stop-color="#ffe400"/><stop offset="0.9600" stop-color="#ffe400"/><stop offset="0.9800" stop-color="#ffe400"/><stop offset="1.0000" stop-color="#ffe400"/></linearGradient>
<linearGradient id="c12" gradientUnits="userSpaceOnUse" x1="30" y1="0" x2="630.00" y2="0"><stop offset="0.0000" stop-color="#6b1ade"/><stop offset="0.0200" stop-color="#761ce1"/><stop offset="0.0400" stop-color="#7f1ee3"/><stop offset="0.0600" stop-color="#881fe6"/><stop offset="0.0800" stop-color="#9020e8"/><stop offset="0.1000" stop-color="#9522ea"/><stop offset="0.1200" stop-color="#9925ed"/><stop offset="0.1400" stop-color="#9d27ef"/><stop offset="0.1600" stop-color="#a129f0"/><stop offset="0.1800" stop-color="#a52af0"/><stop offset="0.2000" stop-color="#a82cf0"/><stop offset="0.2200" stop-color="#ac2ef0"/><stop offset="0.2400" stop-color="#af2ff0"/><stop offset="0.2600" stop-color="#b030f0"/><stop offset="0.2800" stop-color="#b030f0"/><stop offset="0.3000" stop-color="#b030f0"/><stop offset="0.3200" stop-color="#b030f0"/><stop offset="0.3400" stop-color="#b030f0"/><stop offset="0.3600" stop-color="#b030f0"/><stop offset="0.3800" stop-color="#b030f0"/><stop offset="0.4000" stop-color="#b030f0"/><stop offset="0.4200" stop-color="#b030f0"/><stop offset="0.4400" stop-color="#b030f0"/><stop offset="0.4600" stop-color="#b030f0"/><stop offset="0.4800" stop-color="#b030f0"/><stop offset="0.5000" stop-color="#b030f0"/><stop offset="0.5200" stop-color="#b030f0"/><stop offset="0.5400" stop-color="#b030f0"/><stop offset="0.5600" stop-color="#b030f0"/><stop offset="0.5800" stop-color="#b030f0"/><stop offset="0.6000" stop-color="#b030f0"/><stop offset="0.6200" stop-color="#b030f0"/><stop offset="0.6400" stop-color="#b030f0"/><stop offset="0.6600" stop-color="#b030f0"/><stop offset="0.6800" stop-color="#b030f0"/><stop offset="0.7000" stop-color="#b030f0"/><stop offset="0.7200" stop-color="#b030f0"/><stop offset="0.7400" stop-color="#b030f0"/><stop offset="0.7600" stop-color="#b030f0"/><stop offset="0.7800" stop-color="#b030f0"/><stop offset="0.8000" stop-color="#b030f0"/><stop offset="0.8200" stop-color="#b030f0"/><stop offset="0.8400" stop-color="#b030f0"/><stop offset="0.8600" stop-color="#b030f0"/><stop offset="0.8800" stop-color="#b030f0"/><stop offset="0.9000" stop-color="#b030f0"/><stop offset="0.9200" stop-color="#b030f0"/><stop offset="0.9400" stop-color="#b030f0"/><stop offset="0.9600" stop-color="#b030f0"/><stop offset="0.9800" stop-color="#b030f0"/><stop offset="1.0000" stop-color="#b030f0"/></linearGradient>
<linearGradient id="w13" gradientUnits="userSpaceOnUse" x1="30" y1="0" x2="630.00" y2="0"><stop offset="0.0000" stop-color="#ffe400"/><stop offset="0.0200" stop-color="#ffe400"/><stop offset="0.0400" stop-color="#ffe400"/><stop offset="0.0600" stop-color="#ffe400"/><stop offset="0.0800" stop-color="#ffe400"/><stop offset="0.1000" stop-color="#ffe400"/><stop offset="0.1200" stop-color="#ffe400"/><stop offset="0.1400" stop-color="#ffe400"/><stop offset="0.1600" stop-color="#ffe400"/><stop offset="0.1800" stop-color="#ffe400"/><stop offset="0.2000" stop-color="#ffe400"/><stop offset="0.2200" stop-color="#ffe400"/><stop offset="0.2400" stop-color="#ffe400"/><stop offset="0.2600" stop-color="#ffe400"/><stop offset="0.2800" stop-color="#ffe400"/><stop offset="0.3000" stop-color="#ffe400"/><stop offset="0.3200" stop-color="#ffe400"/><stop offset="0.3400" stop-color="#ffe400"/><stop offset="0.3600" stop-color="#ffe400"/><stop offset="0.3800" stop-color="#ffe400"/><stop offset="0.4000" stop-color="#ffe400"/><stop offset="0.4200" stop-color="#ffe400"/><stop offset="0.4400" stop-color="#ffe400"/><stop offset="0.4600" stop-color="#ffe400"/><stop offset="0.4800" stop-color="#ffe400"/><stop offset="0.5000" stop-color="#ffe400"/><stop offset="0.5200" stop-color="#ffe400"/><stop offset="0.5400" stop-color="#ffe400"/><stop offset="0.5600" stop-color="#ffe400"/><stop offset="0.5800" stop-color="#ffe400"/><stop offset="0.6000" stop-color="#ffe400"/><stop offset="0.6200" stop-color="#ffe400"/><stop offset="0.6400" stop-color="#ffe400"/><stop offset="0.6600" stop-color="#ffe400"/><stop offset="0.6800" stop-color="#ffe400"/><stop offset="0.7000" stop-color="#ffe400"/><stop offset="0.7200" stop-color="#ffe400"/><stop offset="0.7400" stop-color="#ffe400"/><stop offset="0.7600" stop-color="#ffe400"/><stop offset="0.7800" stop-color="#ffe400"/><stop offset="0.8000" stop-color="#ffe400"/><stop offset="0.8200" stop-color="#ffe400"/><stop offset="0.8400" stop-color="#ffe400"/><stop offset="0.8600" stop-color="#ffe400"/><stop offset="0.8800" stop-color="#ffe400"/><stop offset="0.9000" stop-color="#ffe400"/><stop offset="0.9200" stop-color="#ffe400"/><stop offset="0.9400" stop-color="#ffe400"/><stop offset="0.9600" stop-color="#ffe400"/><stop offset="0.9800" stop-color="#ffe400"/><stop offset="1.0000" stop-color="#ffe400"/></linearGradient>
<linearGradient id="c13" gradientUnits="userSpaceOnUse" x1="30" y1="0" x2="630.00" y2="0"><stop offset="0.0000" stop-color="#441fdb"/><stop offset="0.0200" stop-color="#4e16d8"/><stop offset="0.0400" stop-color="#5a16da"/><stop offset="0.0600" stop-color="#6519dd"/><stop offset="0.0800" stop-color="#701bdf"/><stop offset="0.1000" stop-color="#791de2"/><stop offset="0.1200" stop-color="#811ee4"/><stop offset="0.1400" stop-color="#891fe6"/><stop offset="0.1600" stop-color="#9020e8"/><stop offset="0.1800" stop-color="#9422ea"/><stop offset="0.2000" stop-color="#9824ec"/><stop offset="0.2200" stop-color="#9b25ed"/><stop offset="0.2400" stop-color="#9e27ef"/><stop offset="0.2600" stop-color="#a129f0"/><stop offset="0.2800" stop-color="#a42af0"/><stop offset="0.3000" stop-color="#a72bf0"/><stop offset="0.3200" stop-color="#a92df0"/><stop offset="0.3400" stop-color="#ac2ef0"/><stop offset="0.3600" stop-color="#ae2ff0"/><stop offset="0.3800" stop-color="#b030f0"/><stop offset="0.4000" stop-color="#b030f0"/><stop offset="0.4200" stop-color="#b030f0"/><stop offset="0.4400" stop-color="#b030f0"/><stop offset="0.4600" stop-color="#b030f0"/><stop offset="0.4800" stop-color="#b030f0"/><stop offset="0.5000" stop-color="#b030f0"/><stop offset="0.5200" stop-color="#b030f0"/><stop offset="0.5400" stop-color="#b030f0"/><stop offset="0.5600" stop-color="#b030f0"/><stop offset="0.5800" stop-color="#b030f0"/><stop offset="0.6000" stop-color="#b030f0"/><stop offset="0.6200" stop-color="#b030f0"/><stop offset="0.6400" stop-color="#b030f0"/><stop offset="0.6600" stop-color="#b030f0"/><stop offset="0.6800" stop-color="#b030f0"/><stop offset="0.7000" stop-color="#b030f0"/><stop offset="0.7200" stop-color="#b030f0"/><stop offset="0.7400" stop-color="#b030f0"/><stop offset="0.7600" stop-color="#b030f0"/><stop offset="0.7800" stop-color="#b030f0"/><stop offset="0.8000" stop-color="#b030f0"/><stop offset="0.8200" stop-color="#b030f0"/><stop offset="0.8400" stop-color="#b030f0"/><stop offset="0.8600" stop-color="#b030f0"/><stop offset="0.8800" stop-color="#b030f0"/><stop offset="0.9000" stop-color="#b030f0"/><stop offset="0.9200" stop-color="#b030f0"/><stop offset="0.9400" stop-color="#b030f0"/><stop offset="0.9600" stop-color="#b030f0"/><stop offset="0.9800" stop-color="#b030f0"/><stop offset="1.0000" stop-color="#b030f0"/></linearGradient>
<linearGradient id="w14" gradientUnits="userSpaceOnUse" x1="30" y1="0" x2="630.00" y2="0"><stop offset="0.0000" stop-color="#ffe400"/><stop offset="0.0200" stop-color="#ffe400"/><stop offset="0.0400" stop-color="#ffe400"/><stop offset="0.0600" stop-color="#ffe400"/><stop offset="0.0800" stop-color="#ffe400"/><stop offset="0.1000" stop-color="#ffe400"/><stop offset="0.1200" stop-color="#ffe400"/><stop offset="0.1400" stop-color="#ffe400"/><stop offset="0.1600" stop-color="#ffe400"/><stop offset="0.1800" stop-color="#ffe400"/><stop offset="0.2000" stop-color="#ffe400"/><stop offset="0.2200" stop-color="#ffe400"/><stop offset="0.2400" stop-color="#ffe400"/><stop offset="0.2600" stop-color="#ffe400"/><stop offset="0.2800" stop-color="#ffe400"/><stop offset="0.3000" stop-color="#ffe400"/><stop offset="0.3200" stop-color="#ffe400"/><stop offset="0.3400" stop-color="#ffe400"/><stop offset="0.3600" stop-color="#ffe400"/><stop offset="0.3800" stop-color="#ffe400"/><stop offset="0.4000" stop-color="#ffe400"/><stop offset="0.4200" stop-color="#ffe400"/><stop offset="0.4400" stop-color="#ffe400"/><stop offset="0.4600" stop-color="#ffe400"/><stop offset="0.4800" stop-color="#ffe400"/><stop offset="0.5000" stop-color="#ffe400"/><stop offset="0.5200" stop-color="#ffe400"/><stop offset="0.5400" stop-color="#ffe400"/><stop offset="0.5600" stop-color="#ffe400"/><stop offset="0.5800" stop-color="#ffe400"/><stop offset="0.6000" stop-color="#ffe400"/><stop offset="0.6200" stop-color="#ffe400"/><stop offset="0.6400" stop-color="#ffe400"/><stop offset="0.6600" stop-color="#ffe400"/><stop offset="0.6800" stop-color="#ffe400"/><stop offset="0.7000" stop-color="#ffe400"/><stop offset="0.7200" stop-color="#ffe400"/><stop offset="0.7400" stop-color="#ffe400"/><stop offset="0.7600" stop-color="#ffe400"/><stop offset="0.7800" stop-color="#ffe400"/><stop offset="0.8000" stop-color="#ffe400"/><stop offset="0.8200" stop-color="#ffe400"/><stop offset="0.8400" stop-color="#ffe400"/><stop offset="0.8600" stop-color="#ffe400"/><stop offset="0.8800" stop-color="#ffe400"/><stop offset="0.9000" stop-color="#ffe400"/><stop offset="0.9200" stop-color="#ffe400"/><stop offset="0.9400" stop-color="#ffe400"/><stop offset="0.9600" stop-color="#ffe400"/><stop offset="0.9800" stop-color="#ffe400"/><stop offset="1.0000" stop-color="#ffe400"/></linearGradient>
<linearGradient id="c14" gradientUnits="userSpaceOnUse" x1="30" y1="0" x2="630.00" y2="0"><stop offset="0.0000" stop-color="#2346e4"/><stop offset="0.0200" stop-color="#2b38e2"/><stop offset="0.0400" stop-color="#352cdf"/><stop offset="0.0600" stop-color="#3f23dc"/><stop offset="0.0800" stop-color="#491ada"/><stop offset="0.1000" stop-color="#5415d9"/><stop offset="0.1200" stop-color="#5e17db"/><stop offset="0.1400" stop-color="#6819dd"/><stop offset="0.1600" stop-color="#721bdf"/><stop offset="0.1800" stop-color="#791de1"/><stop offset="0.2000" stop-color="#801ee3"/><stop offset="0.2200" stop-color="#861fe5"/><stop offset="0.2400" stop-color="#8c1fe7"/><stop offset="0.2600" stop-color="#9120e8"/><stop offset="0.2800" stop-color="#9422ea"/><stop offset="0.3000" stop-color="#9623eb"/><stop offset="0.3200" stop-color="#9925ed"/><stop offset="0.3400" stop-color="#9c26ee"/><stop offset="0.3600" stop-color="#9e27ef"/><stop offset="0.3800" stop-color="#a128f0"/><stop offset="0.4000" stop-color="#a32af0"/><stop offset="0.4200" stop-color="#a52bf0"/><stop offset="0.4400" stop-color="#a82cf0"/><stop offset="0.4600" stop-color="#aa2df0"/><stop offset="0.4800" stop-color="#ac2ef0"/><stop offset="0.5000" stop-color="#af2ff0"/><stop offset="0.5200" stop-color="#b030f0"/><stop offset="0.5400" stop-color="#b030f0"/><stop offset="0.5600" stop-color="#b030f0"/><stop offset="0.5800" stop-color="#b030f0"/><stop offset="0.6000" stop-color="#b030f0"/><stop offset="0.6200" stop-color="#b030f0"/><stop offset="0.6400" stop-color="#b030f0"/><stop offset="0.6600" stop-color="#b030f0"/><stop offset="0.6800" stop-color="#b030f0"/><stop offset="0.7000" stop-color="#b030f0"/><stop offset="0.7200" stop-color="#b030f0"/><stop offset="0.7400" stop-color="#b030f0"/><stop offset="0.7600" stop-color="#b030f0"/><stop offset="0.7800" stop-color="#b030f0"/><stop offset="0.8000" stop-color="#b030f0"/><stop offset="0.8200" stop-color="#b030f0"/><stop offset="0.8400" stop-color="#b030f0"/><stop offset="0.8600" stop-color="#b030f0"/><stop offset="0.8800" stop-color="#b030f0"/><stop offset="0.9000" stop-color="#b030f0"/><stop offset="0.9200" stop-color="#b030f0"/><stop offset="0.9400" stop-color="#b030f0"/><stop offset="0.9600" stop-color="#b030f0"/><stop offset="0.9800" stop-color="#b030f0"/><stop offset="1.0000" stop-color="#b030f0"/></linearGradient>
<linearGradient id="w15" gradientUnits="userSpaceOnUse" x1="30" y1="0" x2="630.00" y2="0"><stop offset="0.0000" stop-color="#ffe400"/><stop offset="0.0200" stop-color="#ffe400"/><stop offset="0.0400" stop-color="#ffe400"/><stop offset="0.0600" stop-color="#ffe400"/><stop offset="0.0800" stop-color="#ffe400"/><stop offset="0.1000" stop-color="#ffe400"/><stop offset="0.1200" stop-color="#ffe400"/><stop offset="0.1400" stop-color="#ffe400"/><stop offset="0.1600" stop-color="#ffe400"/><stop offset="0.1800" stop-color="#ffe400"/><stop offset="0.2000" stop-color="#ffe400"/><stop offset="0.2200" stop-color="#ffe400"/><stop offset="0.2400" stop-color="#ffe400"/><stop offset="0.2600" stop-color="#ffe400"/><stop offset="0.2800" stop-color="#ffe400"/><stop offset="0.3000" stop-color="#ffe400"/><stop offset="0.3200" stop-color="#ffe400"/><stop offset="0.3400" stop-color="#ffe400"/><stop offset="0.3600" stop-color="#ffe400"/><stop offset="0.3800" stop-color="#ffe400"/><stop offset="0.4000" stop-color="#ffe400"/><stop offset="0.4200" stop-color="#ffe400"/><stop offset="0.4400" stop-color="#ffe400"/><stop offset="0.4600" stop-color="#ffe400"/><stop offset="0.4800" stop-color="#ffe400"/><stop offset="0.5000" stop-color="#ffe400"/><stop offset="0.5200" stop-color="#ffe400"/><stop offset="0.5400" stop-color="#ffe400"/><stop offset="0.5600" stop-color="#ffe400"/><stop offset="0.5800" stop-color="#ffe400"/><stop offset="0.6000" stop-color="#ffe400"/><stop offset="0.6200" stop-color="#ffe400"/><stop offset="0.6400" stop-color="#ffe400"/><stop offset="0.6600" stop-color="#ffe400"/><stop offset="0.6800" stop-color="#ffe400"/><stop offset="0.7000" stop-color="#ffe400"/><stop offset="0.7200" stop-color="#ffe400"/><stop offset="0.7400" stop-color="#ffe400"/><stop offset="0.7600" stop-color="#ffe400"/><stop offset="0.7800" stop-color="#ffe400"/><stop offset="0.8000" stop-color="#ffe400"/><stop offset="0.8200" stop-color="#ffe400"/><stop offset="0.8400" stop-color="#ffe400"/><stop offset="0.8600" stop-color="#ffe400"/><stop offset="0.8800" stop-color="#ffe400"/><stop offset="0.9000" stop-color="#ffe400"/><stop offset="0.9200" stop-color="#ffe400"/><stop offset="0.9400" stop-color="#ffe400"/><stop offset="0.9600" stop-color="#ffe400"/><stop offset="0.9800" stop-color="#ffe400"/><stop offset="1.0000" stop-color="#ffe400"/></linearGradient>
<linearGradient id="c15" gradientUnits="userSpaceOnUse" x1="30" y1="0" x2="630.00" y2="0"><stop offset="0.0000" stop-color="#1371ec"/><stop offset="0.0200" stop-color="#1565ea"/><stop offset="0.0400" stop-color="#1959e8"/><stop offset="0.0600" stop-color="#214be5"/><stop offset="0.0800" stop-color="#293de2"/><stop offset="0.1000" stop-color="#3030e0"/><stop offset="0.1200" stop-color="#3a27de"/><stop offset="0.1400" stop-color="#431fdb"/><stop offset="0.1600" stop-color="#4c18d9"/><stop offset="0.1800" stop-color="#5415d9"/><stop offset="0.2000" stop-color="#5d17db"/><stop offset="0.2200" stop-color="#6519dd"/><stop offset="0.2400" stop-color="#6d1ade"/><stop offset="0.2600" stop-color="#741ce0"/><stop offset="0.2800" stop-color="#791de1"/><stop offset="0.3000" stop-color="#7e1de3"/><stop offset="0.3200" stop-color="#831ee4"/><stop offset="0.3400" stop-color="#881fe6"/><stop offset="0.3600" stop-color="#8c1fe7"/><stop offset="0.3800" stop-color="#9020e8"/><stop offset="0.4000" stop-color="#9321e9"/><stop offset="0.4200" stop-color="#9523eb"/><stop offset="0.4400" stop-color="#9824ec"/><stop offset="0.4600" stop-color="#9a25ed"/><stop offset="0.4800" stop-color="#9d26ee"/><stop offset="0.5000" stop-color="#9f27ef"/><stop offset="0.5200" stop-color="#a129f0"/><stop offset="0.5400" stop-color="#a42af0"/><stop offset="0.5600" stop-color="#a62bf0"/><stop offset="0.5800" stop-color="#a82cf0"/><stop offset="0.6000" stop-color="#aa2df0"/><stop offset="0.6200" stop-color="#ac2ef0"/><stop offset="0.6400" stop-color="#ae2ff0"/><stop offset="0.6600" stop-color="#b030f0"/><stop offset="0.6800" stop-color="#b030f0"/><stop offset="0.7000" stop-color="#b030f0"/><stop offset="0.7200" stop-color="#b030f0"/><stop offset="0.7400" stop-color="#b030f0"/><stop offset="0.7600" stop-color="#b030f0"/><stop offset="0.7800" stop-color="#b030f0"/><stop offset="0.8000" stop-color="#b030f0"/><stop offset="0.8200" stop-color="#b030f0"/><stop offset="0.8400" stop-color="#b030f0"/><stop offset="0.8600" stop-color="#b030f0"/><stop offset="0.8800" stop-color="#b030f0"/><stop offset="0.9000" stop-color="#b030f0"/><stop offset="0.9200" stop-color="#b030f0"/><stop offset="0.9400" stop-color="#b030f0"/><stop offset="0.9600" stop-color="#b030f0"/><stop offset="0.9800" stop-color="#ad2ef0"/><stop offset="1.0000" stop-color="#aa2df0"/></linearGradient>
<linearGradient id="w16" gradientUnits="userSpaceOnUse" x1="30" y1="0" x2="630.00" y2="0"><stop offset="0.0000" stop-color="#ffe400"/><stop offset="0.0200" stop-color="#ffe400"/><stop offset="0.0400" stop-color="#ffe400"/><stop offset="0.0600" stop-color="#ffe400"/><stop offset="0.0800" stop-color="#ffe400"/><stop offset="0.1000" stop-color="#ffe400"/><stop offset="0.1200" stop-color="#ffe400"/><stop offset="0.1400" stop-color="#ffe400"/><stop offset="0.1600" stop-color="#ffe400"/><stop offset="0.1800" stop-color="#ffe400"/><stop offset="0.2000" stop-color="#ffe400"/><stop offset="0.2200" stop-color="#ffe400"/><stop offset="0.2400" stop-color="#ffe400"/><stop offset="0.2600" stop-color="#ffe400"/><stop offset="0.2800" stop-color="#ffe400"/><stop offset="0.3000" stop-color="#ffe400"/><stop offset="0.3200" stop-color="#ffe400"/><stop offset="0.3400" stop-color="#ffe400"/><stop offset="0.3600" stop-color="#ffe400"/><stop offset="0.3800" stop-color="#ffe400"/><stop offset="0.4000" stop-color="#ffe400"/><stop offset="0.4200" stop-color="#ffe400"/><stop offset="0.4400" stop-color="#ffe400"/><stop offset="0.4600" stop-color="#ffe400"/><stop offset="0.4800" stop-color="#ffe400"/><stop offset="0.5000" stop-color="#ffe400"/><stop offset="0.5200" stop-color="#ffe400"/><stop offset="0.5400" stop-color="#ffe400"/><stop offset="0.5600" stop-color="#ffe400"/><stop offset="0.5800" stop-color="#ffe400"/><stop offset="0.6000" stop-color="#ffe400"/><stop offset="0.6200" stop-color="#ffe400"/><stop offset="0.6400" stop-color="#ffe400"/><stop offset="0.6600" stop-color="#ffe400"/><stop offset="0.6800" stop-color="#ffe400"/><stop offset="0.7000" stop-color="#ffe400"/><stop offset="0.7200" stop-color="#ffe400"/><stop offset="0.7400" stop-color="#ffe400"/><stop offset="0.7600" stop-color="#ffe400"/><stop offset="0.7800" stop-color="#ffe400"/><stop offset="0.8000" stop-color="#ffe400"/><stop offset="0.8200" stop-color="#ffe400"/><stop offset="0.8400" stop-color="#ffe400"/><stop offset="0.8600" stop-color="#ffe400"/><stop offset="0.8800" stop-color="#ffe400"/><stop offset="0.9000" stop-color="#ffe400"/><stop offset="0.9200" stop-color="#ffe400"/><stop offset="0.9400" stop-color="#ffe400"/><stop offset="0.9600" stop-color="#ffe400"/><stop offset="0.9800" stop-color="#ffe400"/><stop offset="1.0000" stop-color="#ffe400"/></linearGradient>
<linearGradient id="c16" gradientUnits="userSpaceOnUse" x1="30" y1="0" x2="630.00" y2="0"><stop offset="0.0000" stop-color="#1091f0"/><stop offset="0.0200" stop-color="#1088ef"/><stop offset="0.0400" stop-color="#107fee"/><stop offset="0.0600" stop-color="#1273ec"/><stop offset="0.0800" stop-color="#1568ea"/><stop offset="0.1000" stop-color="#175de9"/><stop offset="0.1200" stop-color="#1d51e6"/><stop offset="0.1400" stop-color="#2444e4"/><stop offset="0.1600" stop-color="#2b39e2"/><stop offset="0.1800" stop-color="#322ee0"/><stop offset="0.2000" stop-color="#3a28de"/><stop offset="0.2200" stop-color="#4121dc"/><stop offset="0.2400" stop-color="#481bda"/><stop offset="0.2600" stop-color="#4f15d8"/><stop offset="0.2800" stop-color="#5515d9"/><stop offset="0.3000" stop-color="#5c17db"/><stop offset="0.3200" stop-color="#6318dc"/><stop offset="0.3400" stop-color="#6919dd"/><stop offset="0.3600" stop-color="#6f1bdf"/><stop offset="0.3800" stop-color="#741ce0"/><stop offset="0.4000" stop-color="#791de1"/><stop offset="0.4200" stop-color="#7d1de3"/><stop offset="0.4400" stop-color="#821ee4"/><stop offset="0.4600" stop-color="#861fe5"/><stop offset="0.4800" stop-color="#8a1fe6"/><stop offset="0.5000" stop-color="#8e20e8"/><stop offset="0.5200" stop-color="#9121e9"/><stop offset="0.5400" stop-color="#9422ea"/><stop offset="0.5600" stop-color="#9623eb"/><stop offset="0.5800" stop-color="#9824ec"/><stop offset="0.6000" stop-color="#9b25ed"/><stop offset="0.6200" stop-color="#9d26ee"/><stop offset="0.6400" stop-color="#9f28f0"/><stop offset="0.6600" stop-color="#a128f0"/><stop offset="0.6800" stop-color="#a329f0"/><stop offset="0.7000" stop-color="#a42af0"/><stop offset="0.7200" stop-color="#a62bf0"/><stop offset="0.7400" stop-color="#a72cf0"/><stop offset="0.7600" stop-color="#a82cf0"/><stop offset="0.7800" stop-color="#a92df0"/><stop offset="0.8000" stop-color="#a92df0"/><stop offset="0.8200" stop-color="#aa2df0"/><stop offset="0.8400" stop-color="#a92df0"/><stop offset="0.8600" stop-color="#a92cf0"/><stop offset="0.8800" stop-color="#a82cf0"/><stop offset="0.9000" stop-color="#a72bf0"/><stop offset="0.9200" stop-color="#a52af0"/><stop offset="0.9400" stop-color="#a329f0"/><stop offset="0.9600" stop-color="#a028f0"/><stop offset="0.9800" stop-color="#9d27ef"/><stop offset="1.0000" stop-color="#9a25ed"/></linearGradient>
<linearGradient id="w17" gradientUnits="userSpaceOnUse" x1="30" y1="0" x2="630.00" y2="0"><stop offset="0.0000" stop-color="#ffe400"/><stop offset="0.0200" stop-color="#ffe400"/><stop offset="0.0400" stop-color="#ffe400"/><stop offset="0.0600" stop-color="#ffe400"/><stop offset="0.0800" stop-color="#ffe400"/><stop offset="0.1000" stop-color="#ffe400"/><stop offset="0.1200" stop-color="#ffe400"/><stop offset="0.1400" stop-color="#ffe400"/><stop offset="0.1600" stop-color="#ffe400"/><stop offset="0.1800" stop-color="#ffe400"/><stop offset="0.2000" stop-color="#ffe400"/><stop offset="0.2200" stop-color="#ffe400"/><stop offset="0.2400" stop-color="#ffe400"/><stop offset="0.2600" stop-color="#ffe400"/><stop offset="0.2800" stop-color="#ffe400"/><stop offset="0.3000" stop-color="#ffe400"/><stop offset="0.3200" stop-color="#ffe400"/><stop offset="0.3400" stop-color="#ffe400"/><stop offset="0.3600" stop-color="#ffe400"/><stop offset="0.3800" stop-color="#ffe400"/><stop offset="0.4000" stop-color="#ffe400"/><stop offset="0.4200" stop-color="#ffe400"/><stop offset="0.4400" stop-color="#ffe400"/><stop offset="0.4600" stop-color="#ffe400"/><stop offset="0.4800" stop-color="#ffe400"/><stop offset="0.5000" stop-color="#ffe400"/><stop offset="0.5200" stop-color="#ffe400"/><stop offset="0.5400" stop-color="#ffe400"/><stop offset="0.5600" stop-color="#ffe400"/><stop offset="0.5800" stop-color="#ffe400"/><stop offset="0.6000" stop-color="#ffe400"/><stop offset="0.6200" stop-color="#ffe400"/><stop offset="0.6400" stop-color="#ffe400"/><stop offset="0.6600" stop-color="#ffe400"/><stop offset="0.6800" stop-color="#ffe400"/><stop offset="0.7000" stop-color="#ffe400"/><stop offset="0.7200" stop-color="#ffe400"/><stop offset="0.7400" stop-color="#ffe400"/><stop offset="0.7600" stop-color="#ffe400"/><stop offset="0.7800" stop-color="#ffe400"/><stop offset="0.8000" stop-color="#ffe400"/><stop offset="0.8200" stop-color="#ffe400"/><stop offset="0.8400" stop-color="#ffe400"/><stop offset="0.8600" stop-color="#ffe400"/><stop offset="0.8800" stop-color="#ffe400"/><stop offset="0.9000" stop-color="#ffe400"/><stop offset="0.9200" stop-color="#ffe400"/><stop offset="0.9400" stop-color="#ffe400"/><stop offset="0.9600" stop-color="#ffe400"/><stop offset="0.9800" stop-color="#ffe400"/><stop offset="1.0000" stop-color="#ffe400"/></linearGradient>
<linearGradient id="c17" gradientUnits="userSpaceOnUse" x1="30" y1="0" x2="630.00" y2="0"><stop offset="0.0000" stop-color="#10aff0"/><stop offset="0.0200" stop-color="#10a5f0"/><stop offset="0.0400" stop-color="#109cf0"/><stop offset="0.0600" stop-color="#1092f0"/><stop offset="0.0800" stop-color="#1089ef"/><stop offset="0.1000" stop-color="#1081ee"/><stop offset="0.1200" stop-color="#1177ed"/><stop offset="0.1400" stop-color="#146deb"/><stop offset="0.1600" stop-color="#1663ea"/><stop offset="0.1800" stop-color="#185ae8"/><stop offset="0.2000" stop-color="#1e50e6"/><stop offset="0.2200" stop-color="#2446e4"/><stop offset="0.2400" stop-color="#293ce2"/><stop offset="0.2600" stop-color="#2e33e1"/><stop offset="0.2800" stop-color="#342ddf"/><stop offset="0.3000" stop-color="#3a27de"/><stop offset="0.3200" stop-color="#4022dc"/><stop offset="0.3400" stop-color="#451ddb"/><stop offset="0.3600" stop-color="#4b19d9"/><stop offset="0.3800" stop-color="#5014d8"/><stop offset="0.4000" stop-color="#5615d9"/><stop offset="0.4200" stop-color="#5c17db"/><stop offset="0.4400" stop-color="#6118dc"/><stop offset="0.4600" stop-color="#6719dd"/><stop offset="0.4800" stop-color="#6d1ade"/><stop offset="0.5000" stop-color="#721ce0"/><stop offset="0.5200" stop-color="#771ce1"/><stop offset="0.5400" stop-color="#7b1de2"/><stop offset="0.5600" stop-color="#7f1ee3"/><stop offset="0.5800" stop-color="#841ee4"/><stop offset="0.6000" stop-color="#881fe6"/><stop offset="0.6200" stop-color="#8c1fe7"/><stop offset="0.6400" stop-color="#8f20e8"/><stop offset="0.6600" stop-color="#9221e9"/><stop offset="0.6800" stop-color="#9322ea"/><stop offset="0.7000" stop-color="#9523eb"/><stop offset="0.7200" stop-color="#9723eb"/><stop offset="0.7400" stop-color="#9824ec"/><stop offset="0.7600" stop-color="#9925ed"/><stop offset="0.7800" stop-color="#9a25ed"/><stop offset="0.8000" stop-color="#9a25ed"/><stop offset="0.8200" stop-color="#9a25ed"/><stop offset="0.8400" stop-color="#9a25ed"/><stop offset="0.8600" stop-color="#9a25ed"/><stop offset="0.8800" stop-color="#9924ec"/><stop offset="0.9000" stop-color="#9724ec"/><stop offset="0.9200" stop-color="#9623eb"/><stop offset="0.9400" stop-color="#9322ea"/><stop offset="0.9600" stop-color="#9120e8"/><stop offset="0.9800" stop-color="#8c1fe7"/><stop offset="1.0000" stop-color="#861fe5"/></linearGradient>
<linearGradient id="w18" gradientUnits="userSpaceOnUse" x1="30" y1="0" x2="630.00" y2="0"><stop offset="0.0000" stop-color="#ffdf00"/><stop offset="0.0200" stop-color="#ffe400"/><stop offset="0.0400" stop-color="#ffe400"/><stop offset="0.0600" stop-color="#ffe400"/><stop offset="0.0800" stop-color="#ffe400"/><stop offset="0.1000" stop-color="#ffe400"/><stop offset="0.1200" stop-color="#ffe400"/><stop offset="0.1400" stop-color="#ffe400"/><stop offset="0.1600" stop-color="#ffe400"/><stop offset="0.1800" stop-color="#ffe400"/><stop offset="0.2000" stop-color="#ffe400"/><stop offset="0.2200" stop-color="#ffe400"/><stop offset="0.2400" stop-color="#ffe400"/><stop offset="0.2600" stop-color="#ffe400"/><stop offset="0.2800" stop-color="#ffe400"/><stop offset="0.3000" stop-color="#ffe400"/><stop offset="0.3200" stop-color="#ffe400"/><stop offset="0.3400" stop-color="#ffe400"/><stop offset="0.3600" stop-color="#ffe400"/><stop offset="0.3800" stop-color="#ffe400"/><stop offset="0.4000" stop-color="#ffe400"/><stop offset="0.4200" stop-color="#ffe400"/><stop offset="0.4400" stop-color="#ffe400"/><stop offset="0.4600" stop-color="#ffe400"/><stop offset="0.4800" stop-color="#ffe400"/><stop offset="0.5000" stop-color="#ffe400"/><stop offset="0.5200" stop-color="#ffe400"/><stop offset="0.5400" stop-color="#ffe400"/><stop offset="0.5600" stop-color="#ffe400"/><stop offset="0.5800" stop-color="#ffe400"/><stop offset="0.6000" stop-color="#ffe400"/><stop offset="0.6200" stop-color="#ffe400"/><stop offset="0.6400" stop-color="#ffe400"/><stop offset="0.6600" stop-color="#ffe400"/><stop offset="0.6800" stop-color="#ffe400"/><stop offset="0.7000" stop-color="#ffe400"/><stop offset="0.7200" stop-color="#ffe400"/><stop offset="0.7400" stop-color="#ffe400"/><stop offset="0.7600" stop-color="#ffe400"/><stop offset="0.7800" stop-color="#ffe400"/><stop offset="0.8000" stop-color="#ffe400"/><stop offset="0.8200" stop-color="#ffe400"/><stop offset="0.8400" stop-color="#ffe400"/><stop offset="0.8600" stop-color="#ffe400"/><stop offset="0.8800" stop-color="#ffe400"/><stop offset="0.9000" stop-color="#ffe400"/><stop offset="0.9200" stop-color="#ffe400"/><stop offset="0.9400" stop-color="#ffe400"/><stop offset="0.9600" stop-color="#ffe400"/><stop offset="0.9800" stop-color="#ffe400"/><stop offset="1.0000" stop-color="#ffe400"/></linearGradient>
<linearGradient id="c18" gradientUnits="userSpaceOnUse" x1="30" y1="0" x2="630.00" y2="0"><stop offset="0.0000" stop-color="#18ccf8"/><stop offset="0.0200" stop-color="#16c4f6"/><stop offset="0.0400" stop-color="#13baf3"/><stop offset="0.0600" stop-color="#10aff0"/><stop offset="0.0800" stop-color="#10a6f0"/><stop offset="0.1000" stop-color="#109df0"/><stop offset="0.1200" stop-color="#1095f0"/><stop offset="0.1400" stop-color="#108def"/><stop offset="0.1600" stop-color="#1085ef"/><stop offset="0.1800" stop-color="#107eee"/><stop offset="0.2000" stop-color="#1276ed"/><stop offset="0.2200" stop-color="#136deb"/><stop offset="0.2400" stop-color="#1565ea"/><stop offset="0.2600" stop-color="#175ee9"/><stop offset="0.2800" stop-color="#1a56e7"/><stop offset="0.3000" stop-color="#1f4ee6"/><stop offset="0.3200" stop-color="#2346e4"/><stop offset="0.3400" stop-color="#283fe3"/><stop offset="0.3600" stop-color="#2c38e1"/><stop offset="0.3800" stop-color="#3030e0"/><stop offset="0.4000" stop-color="#352cdf"/><stop offset="0.4200" stop-color="#3a27dd"/><stop offset="0.4400" stop-color="#3f22dc"/><stop offset="0.4600" stop-color="#451edb"/><stop offset="0.4800" stop-color="#4a1ada"/><stop offset="0.5000" stop-color="#4f15d8"/><stop offset="0.5200" stop-color="#5415d9"/><stop offset="0.5400" stop-color="#5a16da"/><stop offset="0.5600" stop-color="#5f17db"/><stop offset="0.5800" stop-color="#6519dd"/><stop offset="0.6000" stop-color="#6a1ade"/><stop offset="0.6200" stop-color="#6f1bdf"/><stop offset="0.6400" stop-color="#741ce0"/><stop offset="0.6600" stop-color="#781de1"/><stop offset="0.6800" stop-color="#7b1de2"/><stop offset="0.7000" stop-color="#7e1de3"/><stop offset="0.7200" stop-color="#811ee4"/><stop offset="0.7400" stop-color="#831ee4"/><stop offset="0.7600" stop-color="#851ee5"/><stop offset="0.7800" stop-color="#871fe5"/><stop offset="0.8000" stop-color="#871fe6"/><stop offset="0.8200" stop-color="#881fe6"/><stop offset="0.8400" stop-color="#871fe6"/><stop offset="0.8600" stop-color="#861fe5"/><stop offset="0.8800" stop-color="#851ee5"/><stop offset="0.9000" stop-color="#821ee4"/><stop offset="0.9200" stop-color="#7f1ee3"/><stop offset="0.9400" stop-color="#7b1de2"/><stop offset="0.9600" stop-color="#771ce1"/><stop offset="0.9800" stop-color="#701bdf"/><stop offset="1.0000" stop-color="#6919dd"/></linearGradient>
<linearGradient id="w19" gradientUnits="userSpaceOnUse" x1="30" y1="0" x2="630.00" y2="0"><stop offset="0.0000" stop-color="#ffac00"/><stop offset="0.0200" stop-color="#ffbb00"/><stop offset="0.0400" stop-color="#ffce00"/><stop offset="0.0600" stop-color="#ffe000"/><stop offset="0.0800" stop-color="#ffe400"/><stop offset="0.1000" stop-color="#ffe400"/><stop offset="0.1200" stop-color="#ffe400"/><stop offset="0.1400" stop-color="#ffe400"/><stop offset="0.1600" stop-color="#ffe400"/><stop offset="0.1800" stop-color="#ffe400"/><stop offset="0.2000" stop-color="#ffe400"/><stop offset="0.2200" stop-color="#ffe400"/><stop offset="0.2400" stop-color="#ffe400"/><stop offset="0.2600" stop-color="#ffe400"/><stop offset="0.2800" stop-color="#ffe400"/><stop offset="0.3000" stop-color="#ffe400"/><stop offset="0.3200" stop-color="#ffe400"/><stop offset="0.3400" stop-color="#ffe400"/><stop offset="0.3600" stop-color="#ffe400"/><stop offset="0.3800" stop-color="#ffe400"/><stop offset="0.4000" stop-color="#ffe400"/><stop offset="0.4200" stop-color="#ffe400"/><stop offset="0.4400" stop-color="#ffe400"/><stop offset="0.4600" stop-color="#ffe400"/><stop offset="0.4800" stop-color="#ffe400"/><stop offset="0.5000" stop-color="#ffe400"/><stop offset="0.5200" stop-color="#ffe400"/><stop offset="0.5400" stop-color="#ffe400"/><stop offset="0.5600" stop-color="#ffe400"/><stop offset="0.5800" stop-color="#ffe400"/><stop offset="0.6000" stop-color="#ffe400"/><stop offset="0.6200" stop-color="#ffe400"/><stop offset="0.6400" stop-color="#ffe400"/><stop offset="0.6600" stop-color="#ffe400"/><stop offset="0.6800" stop-color="#ffe400"/><stop offset="0.7000" stop-color="#ffe400"/><stop offset="0.7200" stop-color="#ffe400"/><stop offset="0.7400" stop-color="#ffe400"/><stop offset="0.7600" stop-color="#ffe400"/><stop offset="0.7800" stop-color="#ffe400"/><stop offset="0.8000" stop-color="#ffe400"/><stop offset="0.8200" stop-color="#ffe400"/><stop offset="0.8400" stop-color="#ffe400"/><stop offset="0.8600" stop-color="#ffe400"/><stop offset="0.8800" stop-color="#ffe400"/><stop offset="0.9000" stop-color="#ffe400"/><stop offset="0.9200" stop-color="#ffe400"/><stop offset="0.9400" stop-color="#ffe400"/><stop offset="0.9600" stop-color="#ffe400"/><stop offset="0.9800" stop-color="#ffe400"/><stop offset="1.0000" stop-color="#ffe400"/></linearGradient>
<linearGradient id="c19" gradientUnits="userSpaceOnUse" x1="30" y1="0" x2="630.00" y2="0"><stop offset="0.0000" stop-color="#18ccf8"/><stop offset="0.0200" stop-color="#18ccf8"/><stop offset="0.0400" stop-color="#18ccf8"/><stop offset="0.0600" stop-color="#18ccf8"/><stop offset="0.0800" stop-color="#16c4f6"/><stop offset="0.1000" stop-color="#13baf3"/><stop offset="0.1200" stop-color="#10b1f0"/><stop offset="0.1400" stop-color="#10a9f0"/><stop offset="0.1600" stop-color="#10a1f0"/><stop offset="0.1800" stop-color="#1099f0"/><stop offset="0.2000" stop-color="#1093f0"/><stop offset="0.2200" stop-color="#108cef"/><stop offset="0.2400" stop-color="#1086ef"/><stop offset="0.2600" stop-color="#1080ee"/><stop offset="0.2800" stop-color="#107aee"/><stop offset="0.3000" stop-color="#1273ec"/><stop offset="0.3200" stop-color="#146deb"/><stop offset="0.3400" stop-color="#1567ea"/><stop offset="0.3600" stop-color="#1661e9"/><stop offset="0.3800" stop-color="#185be8"/><stop offset="0.4000" stop-color="#1c54e7"/><stop offset="0.4200" stop-color="#204de5"/><stop offset="0.4400" stop-color="#2446e4"/><stop offset="0.4600" stop-color="#283fe3"/><stop offset="0.4800" stop-color="#2b38e2"/><stop offset="0.5000" stop-color="#2f31e0"/><stop offset="0.5200" stop-color="#342cdf"/><stop offset="0.5400" stop-color="#3928de"/><stop offset="0.5600" stop-color="#3e23dc"/><stop offset="0.5800" stop-color="#431fdb"/><stop offset="0.6000" stop-color="#481bda"/><stop offset="0.6200" stop-color="#4d17d9"/><stop offset="0.6400" stop-color="#5214d8"/><stop offset="0.6600" stop-color="#5615d9"/><stop offset="0.6800" stop-color="#5b16da"/><stop offset="0.7000" stop-color="#5f17db"/><stop offset="0.7200" stop-color="#6218dc"/><stop offset="0.7400" stop-color="#6519dd"/><stop offset="0.7600" stop-color="#6819dd"/><stop offset="0.7800" stop-color="#6a1ade"/><stop offset="0.8000" stop-color="#6b1ade"/><stop offset="0.8200" stop-color="#6b1ade"/><stop offset="0.8400" stop-color="#6b1ade"/><stop offset="0.8600" stop-color="#691ade"/><stop offset="0.8800" stop-color="#6719dd"/><stop offset="0.9000" stop-color="#6418dc"/><stop offset="0.9200" stop-color="#6018dc"/><stop offset="0.9400" stop-color="#5b16da"/><stop offset="0.9600" stop-color="#5515d9"/><stop offset="0.9800" stop-color="#4e16d9"/><stop offset="1.0000" stop-color="#471cda"/></linearGradient>
<linearGradient id="w20" gradientUnits="userSpaceOnUse" x1="30" y1="0" x2="630.00" y2="0"><stop offset="0.0000" stop-color="#ff8400"/><stop offset="0.0200" stop-color="#ff9300"/><stop offset="0.0400" stop-color="#ffa000"/><stop offset="0.0600" stop-color="#ffad00"/><stop offset="0.0800" stop-color="#ffbd00"/><stop offset="0.1000" stop-color="#ffce00"/><stop offset="0.1200" stop-color="#ffde00"/><stop offset="0.1400" stop-color="#ffe400"/><stop offset="0.1600" stop-color="#ffe400"/><stop offset="0.1800" stop-color="#ffe400"/><stop offset="0.2000" stop-color="#ffe400"/><stop offset="0.2200" stop-color="#ffe400"/><stop offset="0.2400" stop-color="#ffe400"/><stop offset="0.2600" stop-color="#ffe400"/><stop offset="0.2800" stop-color="#ffe400"/><stop offset="0.3000" stop-color="#ffe400"/><stop offset="0.3200" stop-color="#ffe400"/><stop offset="0.3400" stop-color="#ffe400"/><stop offset="0.3600" stop-color="#ffe400"/><stop offset="0.3800" stop-color="#ffe400"/><stop offset="0.4000" stop-color="#ffe400"/><stop offset="0.4200" stop-color="#ffe400"/><stop offset="0.4400" stop-color="#ffe400"/><stop offset="0.4600" stop-color="#ffe400"/><stop offset="0.4800" stop-color="#ffe400"/><stop offset="0.5000" stop-color="#ffe400"/><stop offset="0.5200" stop-color="#ffe400"/><stop offset="0.5400" stop-color="#ffe400"/><stop offset="0.5600" stop-color="#ffe400"/><stop offset="0.5800" stop-color="#ffe400"/><stop offset="0.6000" stop-color="#ffe400"/><stop offset="0.6200" stop-color="#ffe400"/><stop offset="0.6400" stop-color="#ffe400"/><stop offset="0.6600" stop-color="#ffe400"/><stop offset="0.6800" stop-color="#ffe400"/><stop offset="0.7000" stop-color="#ffe400"/><stop offset="0.7200" stop-color="#ffe400"/><stop offset="0.7400" stop-color="#ffe400"/><stop offset="0.7600" stop-color="#ffe400"/><stop offset="0.7800" stop-color="#ffe400"/><stop offset="0.8000" stop-color="#ffe400"/><stop offset="0.8200" stop-color="#ffe400"/><stop offset="0.8400" stop-color="#ffe400"/><stop offset="0.8600" stop-color="#ffe400"/><stop offset="0.8800" stop-color="#ffe400"/><stop offset="0.9000" stop-color="#ffe400"/><stop offset="0.9200" stop-color="#ffe400"/><stop offset="0.9400" stop-color="#ffe400"/><stop offset="0.9600" stop-color="#ffe400"/><stop offset="0.9800" stop-color="#ffe400"/><stop offset="1.0000" stop-color="#ffe400"/></linearGradient>
<linearGradient id="c20" gradientUnits="userSpaceOnUse" x1="30" y1="0" x2="630.00" y2="0"><stop offset="0.0000" stop-color="#18ccf8"/><stop offset="0.0200" stop-color="#18ccf8"/><stop offset="0.0400" stop-color="#18ccf8"/><stop offset="0.0600" stop-color="#18ccf8"/><stop offset="0.0800" stop-color="#18ccf8"/><stop offset="0.1000" stop-color="#18ccf8"/><stop offset="0.1200" stop-color="#18ccf8"/><stop offset="0.1400" stop-color="#16c6f6"/><stop offset="0.1600" stop-color="#14bef4"/><stop offset="0.1800" stop-color="#12b5f2"/><stop offset="0.2000" stop-color="#10aef0"/><stop offset="0.2200" stop-color="#10a7f0"/><stop offset="0.2400" stop-color="#10a1f0"/><stop offset="0.2600" stop-color="#109bf0"/><stop offset="0.2800" stop-color="#1096f0"/><stop offset="0.3000" stop-color="#1090f0"/><stop offset="0.3200" stop-color="#108bef"/><stop offset="0.3400" stop-color="#1086ef"/><stop offset="0.3600" stop-color="#1081ee"/><stop offset="0.3800" stop-color="#107dee"/><stop offset="0.4000" stop-color="#1177ed"/><stop offset="0.4200" stop-color="#1371ec"/><stop offset="0.4400" stop-color="#146ceb"/><stop offset="0.4600" stop-color="#1566ea"/><stop offset="0.4800" stop-color="#1760e9"/><stop offset="0.5000" stop-color="#185be8"/><stop offset="0.5200" stop-color="#1c54e7"/><stop offset="0.5400" stop-color="#1f4de6"/><stop offset="0.5600" stop-color="#2346e4"/><stop offset="0.5800" stop-color="#273fe3"/><stop offset="0.6000" stop-color="#2b39e2"/><stop offset="0.6200" stop-color="#2e33e1"/><stop offset="0.6400" stop-color="#322edf"/><stop offset="0.6600" stop-color="#372ade"/><stop offset="0.6800" stop-color="#3b27dd"/><stop offset="0.7000" stop-color="#3e23dc"/><stop offset="0.7200" stop-color="#4221dc"/><stop offset="0.7400" stop-color="#441edb"/><stop offset="0.7600" stop-color="#471cda"/><stop offset="0.7800" stop-color="#481bda"/><stop offset="0.8000" stop-color="#491ada"/><stop offset="0.8200" stop-color="#4a19da"/><stop offset="0.8400" stop-color="#491ada"/><stop offset="0.8600" stop-color="#481bda"/><stop offset="0.8800" stop-color="#461dda"/><stop offset="0.9000" stop-color="#431fdb"/><stop offset="0.9200" stop-color="#3f23dc"/><stop offset="0.9400" stop-color="#3b27dd"/><stop offset="0.9600" stop-color="#352bdf"/><stop offset="0.9800" stop-color="#2f32e0"/><stop offset="1.0000" stop-color="#2a3be2"/></linearGradient>
<linearGradient id="w21" gradientUnits="userSpaceOnUse" x1="30" y1="0" x2="630.00" y2="0"><stop offset="0.0000" stop-color="#ff5900"/><stop offset="0.0200" stop-color="#ff6800"/><stop offset="0.0400" stop-color="#ff7700"/><stop offset="0.0600" stop-color="#ff8600"/><stop offset="0.0800" stop-color="#ff9500"/><stop offset="0.1000" stop-color="#ffa100"/><stop offset="0.1200" stop-color="#ffad00"/><stop offset="0.1400" stop-color="#ffba00"/><stop offset="0.1600" stop-color="#ffc900"/><stop offset="0.1800" stop-color="#ffd800"/><stop offset="0.2000" stop-color="#ffe400"/><stop offset="0.2200" stop-color="#ffe400"/><stop offset="0.2400" stop-color="#ffe400"/><stop offset="0.2600" stop-color="#ffe400"/><stop offset="0.2800" stop-color="#ffe400"/><stop offset="0.3000" stop-color="#ffe400"/><stop offset="0.3200" stop-color="#ffe400"/><stop offset="0.3400" stop-color="#ffe400"/><stop offset="0.3600" stop-color="#ffe400"/><stop offset="0.3800" stop-color="#ffe400"/><stop offset="0.4000" stop-color="#ffe400"/><stop offset="0.4200" stop-color="#ffe400"/><stop offset="0.4400" stop-color="#ffe400"/><stop offset="0.4600" stop-color="#ffe400"/><stop offset="0.4800" stop-color="#ffe400"/><stop offset="0.5000" stop-color="#ffe400"/><stop offset="0.5200" stop-color="#ffe400"/><stop offset="0.5400" stop-color="#ffe400"/><stop offset="0.5600" stop-color="#ffe400"/><stop offset="0.5800" stop-color="#ffe400"/><stop offset="0.6000" stop-color="#ffe400"/><stop offset="0.6200" stop-color="#ffe400"/><stop offset="0.6400" stop-color="#ffe400"/><stop offset="0.6600" stop-color="#ffe400"/><stop offset="0.6800" stop-color="#ffe400"/><stop offset="0.7000" stop-color="#ffe400"/><stop offset="0.7200" stop-color="#ffe400"/><stop offset="0.7400" stop-color="#ffe400"/><stop offset="0.7600" stop-color="#ffe400"/><stop offset="0.7800" stop-color="#ffe400"/><stop offset="0.8000" stop-color="#ffe400"/><stop offset="0.8200" stop-color="#ffe400"/><stop offset="0.8400" stop-color="#ffe400"/><stop offset="0.8600" stop-color="#ffe400"/><stop offset="0.8800" stop-color="#ffe400"/><stop offset="0.9000" stop-color="#ffe400"/><stop offset="0.9200" stop-color="#ffe400"/><stop offset="0.9400" stop-color="#ffe400"/><stop offset="0.9600" stop-color="#ffe400"/><stop offset="0.9800" stop-color="#ffe400"/><stop offset="1.0000" stop-color="#ffe400"/></linearGradient>
<linearGradient id="c21" gradientUnits="userSpaceOnUse" x1="30" y1="0" x2="630.00" y2="0"><stop offset="0.0000" stop-color="#18ccf8"/><stop offset="0.0200" stop-color="#18ccf8"/><stop offset="0.0400" stop-color="#18ccf8"/><stop offset="0.0600" stop-color="#18ccf8"/><stop offset="0.0800" stop-color="#18ccf8"/><stop offset="0.1000" stop-color="#18ccf8"/><stop offset="0.1200" stop-color="#18ccf8"/><stop offset="0.1400" stop-color="#18ccf8"/><stop offset="0.1600" stop-color="#18ccf8"/><stop offset="0.1800" stop-color="#18ccf8"/><stop offset="0.2000" stop-color="#18cbf8"/><stop offset="0.2200" stop-color="#16c4f6"/><stop offset="0.2400" stop-color="#14bdf4"/><stop offset="0.2600" stop-color="#12b7f2"/><stop offset="0.2800" stop-color="#10b0f0"/><stop offset="0.3000" stop-color="#10abf0"/><stop offset="0.3200" stop-color="#10a6f0"/><stop offset="0.3400" stop-color="#10a1f0"/><stop offset="0.3600" stop-color="#109cf0"/><stop offset="0.3800" stop-color="#1097f0"/><stop offset="0.4000" stop-color="#1093f0"/><stop offset="0.4200" stop-color="#108eef"/><stop offset="0.4400" stop-color="#1089ef"/><stop offset="0.4600" stop-color="#1085ef"/><stop offset="0.4800" stop-color="#1081ee"/><stop offset="0.5000" stop-color="#107cee"/><stop offset="0.5200" stop-color="#1176ed"/><stop offset="0.5400" stop-color="#1371ec"/><stop offset="0.5600" stop-color="#146beb"/><stop offset="0.5800" stop-color="#1566ea"/><stop offset="0.6000" stop-color="#1760e9"/><stop offset="0.6200" stop-color="#185be8"/><stop offset="0.6400" stop-color="#1b55e7"/><stop offset="0.6600" stop-color="#1e50e6"/><stop offset="0.6800" stop-color="#214ae5"/><stop offset="0.7000" stop-color="#2445e4"/><stop offset="0.7200" stop-color="#2641e3"/><stop offset="0.7400" stop-color="#283de3"/><stop offset="0.7600" stop-color="#2a3ae2"/><stop offset="0.7800" stop-color="#2b38e2"/><stop offset="0.8000" stop-color="#2c37e1"/><stop offset="0.8200" stop-color="#2c36e1"/><stop offset="0.8400" stop-color="#2c37e1"/><stop offset="0.8600" stop-color="#2b38e2"/><stop offset="0.8800" stop-color="#2a3be2"/><stop offset="0.9000" stop-color="#273fe3"/><stop offset="0.9200" stop-color="#2544e4"/><stop offset="0.9400" stop-color="#214ae5"/><stop offset="0.9600" stop-color="#1d52e6"/><stop offset="0.9800" stop-color="#185ae8"/><stop offset="1.0000" stop-color="#1662e9"/></linearGradient>
<linearGradient id="w22" gradientUnits="userSpaceOnUse" x1="30" y1="0" x2="630.00" y2="0"><stop offset="0.0000" stop-color="#f22805"/><stop offset="0.0200" stop-color="#fa3c02"/><stop offset="0.0400" stop-color="#ff4e00"/><stop offset="0.0600" stop-color="#ff5d00"/><stop offset="0.0800" stop-color="#ff6b00"/><stop offset="0.1000" stop-color="#ff7900"/><stop offset="0.1200" stop-color="#ff8700"/><stop offset="0.1400" stop-color="#ff9400"/><stop offset="0.1600" stop-color="#ff9f00"/><stop offset="0.1800" stop-color="#ffa900"/><stop offset="0.2000" stop-color="#ffb300"/><stop offset="0.2200" stop-color="#ffbf00"/><stop offset="0.2400" stop-color="#ffcb00"/><stop offset="0.2600" stop-color="#ffd700"/><stop offset="0.2800" stop-color="#ffe200"/><stop offset="0.3000" stop-color="#ffe400"/><stop offset="0.3200" stop-color="#ffe400"/><stop offset="0.3400" stop-color="#ffe400"/><stop offset="0.3600" stop-color="#ffe400"/><stop offset="0.3800" stop-color="#ffe400"/><stop offset="0.4000" stop-color="#ffe400"/><stop offset="0.4200" stop-color="#ffe400"/><stop offset="0.4400" stop-color="#ffe400"/><stop offset="0.4600" stop-color="#ffe400"/><stop offset="0.4800" stop-color="#ffe400"/><stop offset="0.5000" stop-color="#ffe400"/><stop offset="0.5200" stop-color="#ffe400"/><stop offset="0.5400" stop-color="#ffe400"/><stop offset="0.5600" stop-color="#ffe400"/><stop offset="0.5800" stop-color="#ffe400"/><stop offset="0.6000" stop-color="#ffe400"/><stop offset="0.6200" stop-color="#ffe400"/><stop offset="0.6400" stop-color="#ffe400"/><stop offset="0.6600" stop-color="#ffe400"/><stop offset="0.6800" stop-color="#ffe400"/><stop offset="0.7000" stop-color="#ffe400"/><stop offset="0.7200" stop-color="#ffe400"/><stop offset="0.7400" stop-color="#ffe400"/><stop offset="0.7600" stop-color="#ffe400"/><stop offset="0.7800" stop-color="#ffe400"/><stop offset="0.8000" stop-color="#ffe400"/><stop offset="0.8200" stop-color="#ffe400"/><stop offset="0.8400" stop-color="#ffe400"/><stop offset="0.8600" stop-color="#ffe400"/><stop offset="0.8800" stop-color="#ffe400"/><stop offset="0.9000" stop-color="#ffe400"/><stop offset="0.9200" stop-color="#ffe400"/><stop offset="0.9400" stop-color="#ffe400"/><stop offset="0.9600" stop-color="#ffe400"/><stop offset="0.9800" stop-color="#ffe400"/><stop offset="1.0000" stop-color="#ffe400"/></linearGradient>
<linearGradient id="c22" gradientUnits="userSpaceOnUse" x1="30" y1="0" x2="630.00" y2="0"><stop offset="0.0000" stop-color="#18ccf8"/><stop offset="0.0200" stop-color="#18ccf8"/><stop offset="0.0400" stop-color="#18ccf8"/><stop offset="0.0600" stop-color="#18ccf8"/><stop offset="0.0800" stop-color="#18ccf8"/><stop offset="0.1000" stop-color="#18ccf8"/><stop offset="0.1200" stop-color="#18ccf8"/><stop offset="0.1400" stop-color="#18ccf8"/><stop offset="0.1600" stop-color="#18ccf8"/><stop offset="0.1800" stop-color="#18ccf8"/><stop offset="0.2000" stop-color="#18ccf8"/><stop offset="0.2200" stop-color="#18ccf8"/><stop offset="0.2400" stop-color="#18ccf8"/><stop offset="0.2600" stop-color="#18ccf8"/><stop offset="0.2800" stop-color="#18ccf8"/><stop offset="0.3000" stop-color="#17c7f7"/><stop offset="0.3200" stop-color="#15c2f5"/><stop offset="0.3400" stop-color="#13bcf3"/><stop offset="0.3600" stop-color="#12b7f2"/><stop offset="0.3800" stop-color="#10b2f0"/><stop offset="0.4000" stop-color="#10adf0"/><stop offset="0.4200" stop-color="#10a8f0"/><stop offset="0.4400" stop-color="#10a3f0"/><stop offset="0.4600" stop-color="#109ff0"/><stop offset="0.4800" stop-color="#109af0"/><stop offset="0.5000" stop-color="#1096f0"/><stop offset="0.5200" stop-color="#1091f0"/><stop offset="0.5400" stop-color="#108def"/><stop offset="0.5600" stop-color="#1089ef"/><stop offset="0.5800" stop-color="#1084ef"/><stop offset="0.6000" stop-color="#1080ee"/><stop offset="0.6200" stop-color="#107cee"/><stop offset="0.6400" stop-color="#1177ed"/><stop offset="0.6600" stop-color="#1272ec"/><stop offset="0.6800" stop-color="#136eeb"/><stop offset="0.7000" stop-color="#146aeb"/><stop offset="0.7200" stop-color="#1566ea"/><stop offset="0.7400" stop-color="#1663ea"/><stop offset="0.7600" stop-color="#1661e9"/><stop offset="0.7800" stop-color="#175fe9"/><stop offset="0.8000" stop-color="#175ee9"/><stop offset="0.8200" stop-color="#175de9"/><stop offset="0.8400" stop-color="#175ee9"/><stop offset="0.8600" stop-color="#175fe9"/><stop offset="0.8800" stop-color="#1661e9"/><stop offset="0.9000" stop-color="#1665ea"/><stop offset="0.9200" stop-color="#1569eb"/><stop offset="0.9400" stop-color="#136eec"/><stop offset="0.9600" stop-color="#1274ed"/><stop offset="0.9800" stop-color="#107bee"/><stop offset="1.0000" stop-color="#1081ee"/></linearGradient>
<linearGradient id="w23" gradientUnits="userSpaceOnUse" x1="30" y1="0" x2="630.00" y2="0"><stop offset="0.0000" stop-color="#ec3228"/><stop offset="0.0200" stop-color="#ec2417"/><stop offset="0.0400" stop-color="#ed1b08"/><stop offset="0.0600" stop-color="#f52f04"/><stop offset="0.0800" stop-color="#fd4201"/><stop offset="0.1000" stop-color="#ff5100"/><stop offset="0.1200" stop-color="#ff5f00"/><stop offset="0.1400" stop-color="#ff6b00"/><stop offset="0.1600" stop-color="#ff7800"/><stop offset="0.1800" stop-color="#ff8400"/><stop offset="0.2000" stop-color="#ff8f00"/><stop offset="0.2200" stop-color="#ff9800"/><stop offset="0.2400" stop-color="#ffa100"/><stop offset="0.2600" stop-color="#ffa900"/><stop offset="0.2800" stop-color="#ffb100"/><stop offset="0.3000" stop-color="#ffba00"/><stop offset="0.3200" stop-color="#ffc400"/><stop offset="0.3400" stop-color="#ffce00"/><stop offset="0.3600" stop-color="#ffd800"/><stop offset="0.3800" stop-color="#ffe100"/><stop offset="0.4000" stop-color="#ffe400"/><stop offset="0.4200" stop-color="#ffe400"/><stop offset="0.4400" stop-color="#ffe400"/><stop offset="0.4600" stop-color="#ffe400"/><stop offset="0.4800" stop-color="#ffe400"/><stop offset="0.5000" stop-color="#ffe400"/><stop offset="0.5200" stop-color="#ffe400"/><stop offset="0.5400" stop-color="#ffe400"/><stop offset="0.5600" stop-color="#ffe400"/><stop offset="0.5800" stop-color="#ffe400"/><stop offset="0.6000" stop-color="#ffe400"/><stop offset="0.6200" stop-color="#ffe400"/><stop offset="0.6400" stop-color="#ffe400"/><stop offset="0.6600" stop-color="#ffe400"/><stop offset="0.6800" stop-color="#ffe400"/><stop offset="0.7000" stop-color="#ffe400"/><stop offset="0.7200" stop-color="#ffe400"/><stop offset="0.7400" stop-color="#ffe400"/><stop offset="0.7600" stop-color="#ffe400"/><stop offset="0.7800" stop-color="#ffe400"/><stop offset="0.8000" stop-color="#ffe400"/><stop offset="0.8200" stop-color="#ffe400"/><stop offset="0.8400" stop-color="#ffe400"/><stop offset="0.8600" stop-color="#ffe400"/><stop offset="0.8800" stop-color="#ffe400"/><stop offset="0.9000" stop-color="#ffe400"/><stop offset="0.9200" stop-color="#ffe400"/><stop offset="0.9400" stop-color="#ffe400"/><stop offset="0.9600" stop-color="#ffe400"/><stop offset="0.9800" stop-color="#ffe400"/><stop offset="1.0000" stop-color="#ffe400"/></linearGradient>
<linearGradient id="c23" gradientUnits="userSpaceOnUse" x1="30" y1="0" x2="630.00" y2="0"><stop offset="0.0000" stop-color="#18ccf8"/><stop offset="0.0200" stop-color="#18ccf8"/><stop offset="0.0400" stop-color="#18ccf8"/><stop offset="0.0600" stop-color="#18ccf8"/><stop offset="0.0800" stop-color="#18ccf8"/><stop offset="0.1000" stop-color="#18ccf8"/><stop offset="0.1200" stop-color="#18ccf8"/><stop offset="0.1400" stop-color="#18ccf8"/><stop offset="0.1600" stop-color="#18ccf8"/><stop offset="0.1800" stop-color="#18ccf8"/><stop offset="0.2000" stop-color="#18ccf8"/><stop offset="0.2200" stop-color="#18ccf8"/><stop offset="0.2400" stop-color="#18ccf8"/><stop offset="0.2600" stop-color="#18ccf8"/><stop offset="0.2800" stop-color="#18ccf8"/><stop offset="0.3000" stop-color="#18ccf8"/><stop offset="0.3200" stop-color="#18ccf8"/><stop offset="0.3400" stop-color="#18ccf8"/><stop offset="0.3600" stop-color="#18ccf8"/><stop offset="0.3800" stop-color="#18ccf8"/><stop offset="0.4000" stop-color="#17c9f7"/><stop offset="0.4200" stop-color="#16c4f6"/><stop offset="0.4400" stop-color="#14bff4"/><stop offset="0.4600" stop-color="#13baf3"/><stop offset="0.4800" stop-color="#11b5f1"/><stop offset="0.5000" stop-color="#10b0f0"/><stop offset="0.5200" stop-color="#10abf0"/><stop offset="0.5400" stop-color="#10a6f0"/><stop offset="0.5600" stop-color="#10a2f0"/><stop offset="0.5800" stop-color="#109ef0"/><stop offset="0.6000" stop-color="#1099f0"/><stop offset="0.6200" stop-color="#1095f0"/><stop offset="0.6400" stop-color="#1091f0"/><stop offset="0.6600" stop-color="#108eef"/><stop offset="0.6800" stop-color="#108aef"/><stop offset="0.7000" stop-color="#1087ef"/><stop offset="0.7200" stop-color="#1084ef"/><stop offset="0.7400" stop-color="#1082ee"/><stop offset="0.7600" stop-color="#1080ee"/><stop offset="0.7800" stop-color="#107eee"/><stop offset="0.8000" stop-color="#107dee"/><stop offset="0.8200" stop-color="#107dee"/><stop offset="0.8400" stop-color="#107eee"/><stop offset="0.8600" stop-color="#107fee"/><stop offset="0.8800" stop-color="#1080ee"/><stop offset="0.9000" stop-color="#1083ef"/><stop offset="0.9200" stop-color="#1086ef"/><stop offset="0.9400" stop-color="#108aef"/><stop offset="0.9600" stop-color="#108fef"/><stop offset="0.9800" stop-color="#1094f0"/><stop offset="1.0000" stop-color="#109bf0"/></linearGradient>
<linearGradient id="w24" gradientUnits="userSpaceOnUse" x1="30" y1="0" x2="630.00" y2="0"><stop offset="0.0000" stop-color="#f05e5d"/><stop offset="0.0200" stop-color="#ee4c48"/><stop offset="0.0400" stop-color="#ec3b33"/><stop offset="0.0600" stop-color="#ec2d22"/><stop offset="0.0800" stop-color="#ec1f11"/><stop offset="0.1000" stop-color="#ef2007"/><stop offset="0.1200" stop-color="#f63204"/><stop offset="0.1400" stop-color="#fd4301"/><stop offset="0.1600" stop-color="#ff5100"/><stop offset="0.1800" stop-color="#ff5c00"/><stop offset="0.2000" stop-color="#ff6700"/><stop offset="0.2200" stop-color="#ff7100"/><stop offset="0.2400" stop-color="#ff7b00"/><stop offset="0.2600" stop-color="#ff8500"/><stop offset="0.2800" stop-color="#ff8d00"/><stop offset="0.3000" stop-color="#ff9600"/><stop offset="0.3200" stop-color="#ff9d00"/><stop offset="0.3400" stop-color="#ffa400"/><stop offset="0.3600" stop-color="#ffab00"/><stop offset="0.3800" stop-color="#ffb100"/><stop offset="0.4000" stop-color="#ffb900"/><stop offset="0.4200" stop-color="#ffc200"/><stop offset="0.4400" stop-color="#ffcb00"/><stop offset="0.4600" stop-color="#ffd400"/><stop offset="0.4800" stop-color="#ffdd00"/><stop offset="0.5000" stop-color="#ffe400"/><stop offset="0.5200" stop-color="#ffe400"/><stop offset="0.5400" stop-color="#ffe400"/><stop offset="0.5600" stop-color="#ffe400"/><stop offset="0.5800" stop-color="#ffe400"/><stop offset="0.6000" stop-color="#ffe400"/><stop offset="0.6200" stop-color="#ffe400"/><stop offset="0.6400" stop-color="#ffe400"/><stop offset="0.6600" stop-color="#ffe400"/><stop offset="0.6800" stop-color="#ffe400"/><stop offset="0.7000" stop-color="#ffe400"/><stop offset="0.7200" stop-color="#ffe400"/><stop offset="0.7400" stop-color="#ffe400"/><stop offset="0.7600" stop-color="#ffe400"/><stop offset="0.7800" stop-color="#ffe400"/><stop offset="0.8000" stop-color="#ffe400"/><stop offset="0.8200" stop-color="#ffe400"/><stop offset="0.8400" stop-color="#ffe400"/><stop offset="0.8600" stop-color="#ffe400"/><stop offset="0.8800" stop-color="#ffe400"/><stop offset="0.9000" stop-color="#ffe400"/><stop offset="0.9200" stop-color="#ffe400"/><stop offset="0.9400" stop-color="#ffe400"/><stop offset="0.9600" stop-color="#ffe400"/><stop offset="0.9800" stop-color="#ffe400"/><stop offset="1.0000" stop-color="#ffe400"/></linearGradient>
<linearGradient id="c24" gradientUnits="userSpaceOnUse" x1="30" y1="0" x2="630.00" y2="0"><stop offset="0.0000" stop-color="#18ccf8"/><stop offset="0.0200" stop-color="#18ccf8"/><stop offset="0.0400" stop-color="#18ccf8"/><stop offset="0.0600" stop-color="#18ccf8"/><stop offset="0.0800" stop-color="#18ccf8"/><stop offset="0.1000" stop-color="#18ccf8"/><stop offset="0.1200" stop-color="#18ccf8"/><stop offset="0.1400" stop-color="#18ccf8"/><stop offset="0.1600" stop-color="#18ccf8"/><stop offset="0.1800" stop-color="#18ccf8"/><stop offset="0.2000" stop-color="#18ccf8"/><stop offset="0.2200" stop-color="#18ccf8"/><stop offset="0.2400" stop-color="#18ccf8"/><stop offset="0.2600" stop-color="#18ccf8"/><stop offset="0.2800" stop-color="#18ccf8"/><stop offset="0.3000" stop-color="#18ccf8"/><stop offset="0.3200" stop-color="#18ccf8"/><stop offset="0.3400" stop-color="#18ccf8"/><stop offset="0.3600" stop-color="#18ccf8"/><stop offset="0.3800" stop-color="#18ccf8"/><stop offset="0.4000" stop-color="#18ccf8"/><stop offset="0.4200" stop-color="#18ccf8"/><stop offset="0.4400" stop-color="#18ccf8"/><stop offset="0.4600" stop-color="#18ccf8"/><stop offset="0.4800" stop-color="#18ccf8"/><stop offset="0.5000" stop-color="#18cbf8"/><stop offset="0.5200" stop-color="#16c6f6"/><stop offset="0.5400" stop-color="#15c1f5"/><stop offset="0.5600" stop-color="#14bcf4"/><stop offset="0.5800" stop-color="#12b8f2"/><stop offset="0.6000" stop-color="#11b3f1"/><stop offset="0.6200" stop-color="#10aef0"/><stop offset="0.6400" stop-color="#10aaf0"/><stop offset="0.6600" stop-color="#10a7f0"/><stop offset="0.6800" stop-color="#10a3f0"/><stop offset="0.7000" stop-color="#10a0f0"/><stop offset="0.7200" stop-color="#109df0"/><stop offset="0.7400" stop-color="#109bf0"/><stop offset="0.7600" stop-color="#1099f0"/><stop offset="0.7800" stop-color="#1097f0"/><stop offset="0.8000" stop-color="#1096f0"/><stop offset="0.8200" stop-color="#1096f0"/><stop offset="0.8400" stop-color="#1096f0"/><stop offset="0.8600" stop-color="#1097f0"/><stop offset="0.8800" stop-color="#1099f0"/><stop offset="0.9000" stop-color="#109cf0"/><stop offset="0.9200" stop-color="#109ff0"/><stop offset="0.9400" stop-color="#10a3f0"/><stop offset="0.9600" stop-color="#10a8f0"/><stop offset="0.9800" stop-color="#10aef0"/><stop offset="1.0000" stop-color="#11b4f1"/></linearGradient>
<linearGradient id="w25" gradientUnits="userSpaceOnUse" x1="30" y1="0" x2="630.00" y2="0"><stop offset="0.0000" stop-color="#f08282"/><stop offset="0.0200" stop-color="#f07474"/><stop offset="0.0400" stop-color="#f06666"/><stop offset="0.0600" stop-color="#ef5654"/><stop offset="0.0800" stop-color="#ed4540"/><stop offset="0.1000" stop-color="#ec362d"/><stop offset="0.1200" stop-color="#ec291e"/><stop offset="0.1400" stop-color="#ec1e0f"/><stop offset="0.1600" stop-color="#ef2007"/><stop offset="0.1800" stop-color="#f53004"/><stop offset="0.2000" stop-color="#fb3e02"/><stop offset="0.2200" stop-color="#ff4b00"/><stop offset="0.2400" stop-color="#ff5500"/><stop offset="0.2600" stop-color="#ff5e00"/><stop offset="0.2800" stop-color="#ff6600"/><stop offset="0.3000" stop-color="#ff6f00"/><stop offset="0.3200" stop-color="#ff7700"/><stop offset="0.3400" stop-color="#ff7f00"/><stop offset="0.3600" stop-color="#ff8700"/><stop offset="0.3800" stop-color="#ff8e00"/><stop offset="0.4000" stop-color="#ff9500"/><stop offset="0.4200" stop-color="#ff9c00"/><stop offset="0.4400" stop-color="#ffa200"/><stop offset="0.4600" stop-color="#ffa900"/><stop offset="0.4800" stop-color="#ffaf00"/><stop offset="0.5000" stop-color="#ffb600"/><stop offset="0.5200" stop-color="#ffbf00"/><stop offset="0.5400" stop-color="#ffc700"/><stop offset="0.5600" stop-color="#ffd000"/><stop offset="0.5800" stop-color="#ffd800"/><stop offset="0.6000" stop-color="#ffe100"/><stop offset="0.6200" stop-color="#ffe400"/><stop offset="0.6400" stop-color="#ffe400"/><stop offset="0.6600" stop-color="#ffe400"/><stop offset="0.6800" stop-color="#ffe400"/><stop offset="0.7000" stop-color="#ffe400"/><stop offset="0.7200" stop-color="#ffe400"/><stop offset="0.7400" stop-color="#ffe400"/><stop offset="0.7600" stop-color="#ffe400"/><stop offset="0.7800" stop-color="#ffe400"/><stop offset="0.8000" stop-color="#ffe400"/><stop offset="0.8200" stop-color="#ffe400"/><stop offset="0.8400" stop-color="#ffe400"/><stop offset="0.8600" stop-color="#ffe400"/><stop offset="0.8800" stop-color="#ffe400"/><stop offset="0.9000" stop-color="#ffe400"/><stop offset="0.9200" stop-color="#ffe400"/><stop offset="0.9400" stop-color="#ffe400"/><stop offset="0.9600" stop-color="#ffe400"/><stop offset="0.9800" stop-color="#ffe400"/><stop offset="1.0000" stop-color="#ffde00"/></linearGradient>
<linearGradient id="c25" gradientUnits="userSpaceOnUse" x1="30" y1="0" x2="630.00" y2="0"><stop offset="0.0000" stop-color="#18ccf8"/><stop offset="0.0200" stop-color="#18ccf8"/><stop offset="0.0400" stop-color="#18ccf8"/><stop offset="0.0600" stop-color="#18ccf8"/><stop offset="0.0800" stop-color="#18ccf8"/><stop offset="0.1000" stop-color="#18ccf8"/><stop offset="0.1200" stop-color="#18ccf8"/><stop offset="0.1400" stop-color="#18ccf8"/><stop offset="0.1600" stop-color="#18ccf8"/><stop offset="0.1800" stop-color="#18ccf8"/><stop offset="0.2000" stop-color="#18ccf8"/><stop offset="0.2200" stop-color="#18ccf8"/><stop offset="0.2400" stop-color="#18ccf8"/><stop offset="0.2600" stop-color="#18ccf8"/><stop offset="0.2800" stop-color="#18ccf8"/><stop offset="0.3000" stop-color="#18ccf8"/><stop offset="0.3200" stop-color="#18ccf8"/><stop offset="0.3400" stop-color="#18ccf8"/><stop offset="0.3600" stop-color="#18ccf8"/><stop offset="0.3800" stop-color="#18ccf8"/><stop offset="0.4000" stop-color="#18ccf8"/><stop offset="0.4200" stop-color="#18ccf8"/><stop offset="0.4400" stop-color="#18ccf8"/><stop offset="0.4600" stop-color="#18ccf8"/><stop offset="0.4800" stop-color="#18ccf8"/><stop offset="0.5000" stop-color="#18ccf8"/><stop offset="0.5200" stop-color="#18ccf8"/><stop offset="0.5400" stop-color="#18ccf8"/><stop offset="0.5600" stop-color="#18ccf8"/><stop offset="0.5800" stop-color="#18ccf8"/><stop offset="0.6000" stop-color="#18ccf8"/><stop offset="0.6200" stop-color="#17c9f7"/><stop offset="0.6400" stop-color="#16c5f6"/><stop offset="0.6600" stop-color="#15c1f5"/><stop offset="0.6800" stop-color="#14bdf4"/><stop offset="0.7000" stop-color="#13b9f3"/><stop offset="0.7200" stop-color="#12b6f2"/><stop offset="0.7400" stop-color="#11b4f1"/><stop offset="0.7600" stop-color="#10b1f0"/><stop offset="0.7800" stop-color="#10b0f0"/><stop offset="0.8000" stop-color="#10aff0"/><stop offset="0.8200" stop-color="#10aff0"/><stop offset="0.8400" stop-color="#10aff0"/><stop offset="0.8600" stop-color="#10b0f0"/><stop offset="0.8800" stop-color="#11b2f1"/><stop offset="0.9000" stop-color="#11b5f1"/><stop offset="0.9200" stop-color="#12b8f2"/><stop offset="0.9400" stop-color="#14bdf4"/><stop offset="0.9600" stop-color="#15c2f5"/><stop offset="0.9800" stop-color="#17c9f7"/><stop offset="1.0000" stop-color="#18ccf8"/></linearGradient>
<linearGradient id="w26" gradientUnits="userSpaceOnUse" x1="30" y1="0" x2="630.00" y2="0"><stop offset="0.0000" stop-color="#f59999"/><stop offset="0.0200" stop-color="#f39191"/><stop offset="0.0400" stop-color="#f18787"/><stop offset="0.0600" stop-color="#f07c7c"/><stop offset="0.0800" stop-color="#f06e6e"/><stop offset="0.1000" stop-color="#f06161"/><stop offset="0.1200" stop-color="#ee514e"/><stop offset="0.1400" stop-color="#ed423c"/><stop offset="0.1600" stop-color="#ec352c"/><stop offset="0.1800" stop-color="#ec2a1f"/><stop offset="0.2000" stop-color="#ec2012"/><stop offset="0.2200" stop-color="#ed1a08"/><stop offset="0.2400" stop-color="#f22706"/><stop offset="0.2600" stop-color="#f73303"/><stop offset="0.2800" stop-color="#fb3f01"/><stop offset="0.3000" stop-color="#ff4a00"/><stop offset="0.3200" stop-color="#ff5200"/><stop offset="0.3400" stop-color="#ff5900"/><stop offset="0.3600" stop-color="#ff6100"/><stop offset="0.3800" stop-color="#ff6800"/><stop offset="0.4000" stop-color="#ff7000"/><stop offset="0.4200" stop-color="#ff7700"/><stop offset="0.4400" stop-color="#ff7e00"/><stop offset="0.4600" stop-color="#ff8500"/><stop offset="0.4800" stop-color="#ff8d00"/><stop offset="0.5000" stop-color="#ff9400"/><stop offset="0.5200" stop-color="#ff9a00"/><stop offset="0.5400" stop-color="#ffa000"/><stop offset="0.5600" stop-color="#ffa600"/><stop offset="0.5800" stop-color="#ffad00"/><stop offset="0.6000" stop-color="#ffb300"/><stop offset="0.6200" stop-color="#ffba00"/><stop offset="0.6400" stop-color="#ffc200"/><stop offset="0.6600" stop-color="#ffc900"/><stop offset="0.6800" stop-color="#ffd000"/><stop offset="0.7000" stop-color="#ffd600"/><stop offset="0.7200" stop-color="#ffdb00"/><stop offset="0.7400" stop-color="#ffe000"/><stop offset="0.7600" stop-color="#ffe400"/><stop offset="0.7800" stop-color="#ffe400"/><stop offset="0.8000" stop-color="#ffe400"/><stop offset="0.8200" stop-color="#ffe400"/><stop offset="0.8400" stop-color="#ffe400"/><stop offset="0.8600" stop-color="#ffe400"/><stop offset="0.8800" stop-color="#ffe300"/><stop offset="0.9000" stop-color="#ffde00"/><stop offset="0.9200" stop-color="#ffd800"/><stop offset="0.9400" stop-color="#ffd000"/><stop offset="0.9600" stop-color="#ffc600"/><stop offset="0.9800" stop-color="#ffbc00"/><stop offset="1.0000" stop-color="#ffb100"/></linearGradient>
<linearGradient id="c26" gradientUnits="userSpaceOnUse" x1="30" y1="0" x2="630.00" y2="0"><stop offset="0.0000" stop-color="#18ccf8"/><stop offset="0.0200" stop-color="#18ccf8"/><stop offset="0.0400" stop-color="#18ccf8"/><stop offset="0.0600" stop-color="#18ccf8"/><stop offset="0.0800" stop-color="#18ccf8"/><stop offset="0.1000" stop-color="#18ccf8"/><stop offset="0.1200" stop-color="#18ccf8"/><stop offset="0.1400" stop-color="#18ccf8"/><stop offset="0.1600" stop-color="#18ccf8"/><stop offset="0.1800" stop-color="#18ccf8"/><stop offset="0.2000" stop-color="#18ccf8"/><stop offset="0.2200" stop-color="#18ccf8"/><stop offset="0.2400" stop-color="#18ccf8"/><stop offset="0.2600" stop-color="#18ccf8"/><stop offset="0.2800" stop-color="#18ccf8"/><stop offset="0.3000" stop-color="#18ccf8"/><stop offset="0.3200" stop-color="#18ccf8"/><stop offset="0.3400" stop-color="#18ccf8"/><stop offset="0.3600" stop-color="#18ccf8"/><stop offset="0.3800" stop-color="#18ccf8"/><stop offset="0.4000" stop-color="#18ccf8"/><stop offset="0.4200" stop-color="#18ccf8"/><stop offset="0.4400" stop-color="#18ccf8"/><stop offset="0.4600" stop-color="#18ccf8"/><stop offset="0.4800" stop-color="#18ccf8"/><stop offset="0.5000" stop-color="#18ccf8"/><stop offset="0.5200" stop-color="#18ccf8"/><stop offset="0.5400" stop-color="#18ccf8"/><stop offset="0.5600" stop-color="#18ccf8"/><stop offset="0.5800" stop-color="#18ccf8"/><stop offset="0.6000" stop-color="#18ccf8"/><stop offset="0.6200" stop-color="#18ccf8"/><stop offset="0.6400" stop-color="#18ccf8"/><stop offset="0.6600" stop-color="#18ccf8"/><stop offset="0.6800" stop-color="#18ccf8"/><stop offset="0.7000" stop-color="#18ccf8"/><stop offset="0.7200" stop-color="#18ccf8"/><stop offset="0.7400" stop-color="#18ccf8"/><stop offset="0.7600" stop-color="#18ccf8"/><stop offset="0.7800" stop-color="#18caf8"/><stop offset="0.8000" stop-color="#17c9f7"/><stop offset="0.8200" stop-color="#17c9f7"/><stop offset="0.8400" stop-color="#17c9f7"/><stop offset="0.8600" stop-color="#18cbf8"/><stop offset="0.8800" stop-color="#18ccf8"/><stop offset="0.9000" stop-color="#18ccf8"/><stop offset="0.9200" stop-color="#18ccf8"/><stop offset="0.9400" stop-color="#18ccf8"/><stop offset="0.9600" stop-color="#18ccf8"/><stop offset="0.9800" stop-color="#18ccf8"/><stop offset="1.0000" stop-color="#18ccf8"/></linearGradient>
<linearGradient id="w27" gradientUnits="userSpaceOnUse" x1="30" y1="0" x2="630.00" y2="0"><stop offset="0.0000" stop-color="#f8a8a8"/><stop offset="0.0200" stop-color="#f8a3a3"/><stop offset="0.0400" stop-color="#f69c9c"/><stop offset="0.0600" stop-color="#f49595"/><stop offset="0.0800" stop-color="#f28c8c"/><stop offset="0.1000" stop-color="#f08282"/><stop offset="0.1200" stop-color="#f07777"/><stop offset="0.1400" stop-color="#f06a6a"/><stop offset="0.1600" stop-color="#f05f5f"/><stop offset="0.1800" stop-color="#ef514e"/><stop offset="0.2000" stop-color="#ed453f"/><stop offset="0.2200" stop-color="#ec3931"/><stop offset="0.2400" stop-color="#ec3025"/><stop offset="0.2600" stop-color="#ec271b"/><stop offset="0.2800" stop-color="#ec1f11"/><stop offset="0.3000" stop-color="#ec1908"/><stop offset="0.3200" stop-color="#f12406"/><stop offset="0.3400" stop-color="#f52e04"/><stop offset="0.3600" stop-color="#f93803"/><stop offset="0.3800" stop-color="#fd4201"/><stop offset="0.4000" stop-color="#ff4b00"/><stop offset="0.4200" stop-color="#ff5200"/><stop offset="0.4400" stop-color="#ff5900"/><stop offset="0.4600" stop-color="#ff6000"/><stop offset="0.4800" stop-color="#ff6700"/><stop offset="0.5000" stop-color="#ff6e00"/><stop offset="0.5200" stop-color="#ff7500"/><stop offset="0.5400" stop-color="#ff7d00"/><stop offset="0.5600" stop-color="#ff8400"/><stop offset="0.5800" stop-color="#ff8b00"/><stop offset="0.6000" stop-color="#ff9100"/><stop offset="0.6200" stop-color="#ff9700"/><stop offset="0.6400" stop-color="#ff9d00"/><stop offset="0.6600" stop-color="#ffa200"/><stop offset="0.6800" stop-color="#ffa700"/><stop offset="0.7000" stop-color="#ffac00"/><stop offset="0.7200" stop-color="#ffb000"/><stop offset="0.7400" stop-color="#ffb300"/><stop offset="0.7600" stop-color="#ffb600"/><stop offset="0.7800" stop-color="#ffb900"/><stop offset="0.8000" stop-color="#ffbb00"/><stop offset="0.8200" stop-color="#ffbb00"/><stop offset="0.8400" stop-color="#ffbb00"/><stop offset="0.8600" stop-color="#ffb900"/><stop offset="0.8800" stop-color="#ffb500"/><stop offset="0.9000" stop-color="#ffb100"/><stop offset="0.9200" stop-color="#ffad00"/><stop offset="0.9400" stop-color="#ffa700"/><stop offset="0.9600" stop-color="#ffa000"/><stop offset="0.9800" stop-color="#ff9800"/><stop offset="1.0000" stop-color="#ff8f00"/></linearGradient>
<linearGradient id="c27" gradientUnits="userSpaceOnUse" x1="30" y1="0" x2="630.00" y2="0"><stop offset="0.0000" stop-color="#18ccf8"/><stop offset="0.0200" stop-color="#18ccf8"/><stop offset="0.0400" stop-color="#18ccf8"/><stop offset="0.0600" stop-color="#18ccf8"/><stop offset="0.0800" stop-color="#18ccf8"/><stop offset="0.1000" stop-color="#18ccf8"/><stop offset="0.1200" stop-color="#18ccf8"/><stop offset="0.1400" stop-color="#18ccf8"/><stop offset="0.1600" stop-color="#18ccf8"/><stop offset="0.1800" stop-color="#18ccf8"/><stop offset="0.2000" stop-color="#18ccf8"/><stop offset="0.2200" stop-color="#18ccf8"/><stop offset="0.2400" stop-color="#18ccf8"/><stop offset="0.2600" stop-color="#18ccf8"/><stop offset="0.2800" stop-color="#18ccf8"/><stop offset="0.3000" stop-color="#18ccf8"/><stop offset="0.3200" stop-color="#18ccf8"/><stop offset="0.3400" stop-color="#18ccf8"/><stop offset="0.3600" stop-color="#18ccf8"/><stop offset="0.3800" stop-color="#18ccf8"/><stop offset="0.4000" stop-color="#18ccf8"/><stop offset="0.4200" stop-color="#18ccf8"/><stop offset="0.4400" stop-color="#18ccf8"/><stop offset="0.4600" stop-color="#18ccf8"/><stop offset="0.4800" stop-color="#18ccf8"/><stop offset="0.5000" stop-color="#18ccf8"/><stop offset="0.5200" stop-color="#18ccf8"/><stop offset="0.5400" stop-color="#18ccf8"/><stop offset="0.5600" stop-color="#18ccf8"/><stop offset="0.5800" stop-color="#18ccf8"/><stop offset="0.6000" stop-color="#18ccf8"/><stop offset="0.6200" stop-color="#18ccf8"/><stop offset="0.6400" stop-color="#18ccf8"/><stop offset="0.6600" stop-color="#18ccf8"/><stop offset="0.6800" stop-color="#18ccf8"/><stop offset="0.7000" stop-color="#18ccf8"/><stop offset="0.7200" stop-color="#18ccf8"/><stop offset="0.7400" stop-color="#18ccf8"/><stop offset="0.7600" stop-color="#18ccf8"/><stop offset="0.7800" stop-color="#18ccf8"/><stop offset="0.8000" stop-color="#18ccf8"/><stop offset="0.8200" stop-color="#18ccf8"/><stop offset="0.8400" stop-color="#18ccf8"/><stop offset="0.8600" stop-color="#18ccf8"/><stop offset="0.8800" stop-color="#18ccf8"/><stop offset="0.9000" stop-color="#18ccf8"/><stop offset="0.9200" stop-color="#18ccf8"/><stop offset="0.9400" stop-color="#18ccf8"/><stop offset="0.9600" stop-color="#18ccf8"/><stop offset="0.9800" stop-color="#18ccf8"/><stop offset="1.0000" stop-color="#18ccf8"/></linearGradient>
<linearGradient id="w28" gradientUnits="userSpaceOnUse" x1="30" y1="0" x2="630.00" y2="0"><stop offset="0.0000" stop-color="#f8b4b4"/><stop offset="0.0200" stop-color="#f8b0b0"/><stop offset="0.0400" stop-color="#f8abab"/><stop offset="0.0600" stop-color="#f8a5a5"/><stop offset="0.0800" stop-color="#f79f9f"/><stop offset="0.1000" stop-color="#f59999"/><stop offset="0.1200" stop-color="#f39191"/><stop offset="0.1400" stop-color="#f28989"/><stop offset="0.1600" stop-color="#f08181"/><stop offset="0.1800" stop-color="#f07676"/><stop offset="0.2000" stop-color="#f06c6c"/><stop offset="0.2200" stop-color="#f06262"/><stop offset="0.2400" stop-color="#ef5755"/><stop offset="0.2600" stop-color="#ee4c49"/><stop offset="0.2800" stop-color="#ed423c"/><stop offset="0.3000" stop-color="#ec3831"/><stop offset="0.3200" stop-color="#ec3127"/><stop offset="0.3400" stop-color="#ec2a1e"/><stop offset="0.3600" stop-color="#ec2316"/><stop offset="0.3800" stop-color="#ec1c0d"/><stop offset="0.4000" stop-color="#ed1c07"/><stop offset="0.4200" stop-color="#f12506"/><stop offset="0.4400" stop-color="#f52f04"/><stop offset="0.4600" stop-color="#f93903"/><stop offset="0.4800" stop-color="#fd4201"/><stop offset="0.5000" stop-color="#ff4b00"/><stop offset="0.5200" stop-color="#ff5200"/><stop offset="0.5400" stop-color="#ff5800"/><stop offset="0.5600" stop-color="#ff5f00"/><stop offset="0.5800" stop-color="#ff6600"/><stop offset="0.6000" stop-color="#ff6c00"/><stop offset="0.6200" stop-color="#ff7300"/><stop offset="0.6400" stop-color="#ff7a00"/><stop offset="0.6600" stop-color="#ff8000"/><stop offset="0.6800" stop-color="#ff8500"/><stop offset="0.7000" stop-color="#ff8a00"/><stop offset="0.7200" stop-color="#ff8f00"/><stop offset="0.7400" stop-color="#ff9200"/><stop offset="0.7600" stop-color="#ff9500"/><stop offset="0.7800" stop-color="#ff9700"/><stop offset="0.8000" stop-color="#ff9900"/><stop offset="0.8200" stop-color="#ff9900"/><stop offset="0.8400" stop-color="#ff9800"/><stop offset="0.8600" stop-color="#ff9700"/><stop offset="0.8800" stop-color="#ff9400"/><stop offset="0.9000" stop-color="#ff9100"/><stop offset="0.9200" stop-color="#ff8c00"/><stop offset="0.9400" stop-color="#ff8500"/><stop offset="0.9600" stop-color="#ff7d00"/><stop offset="0.9800" stop-color="#ff7400"/><stop offset="1.0000" stop-color="#ff6a00"/></linearGradient>
<linearGradient id="c28" gradientUnits="userSpaceOnUse" x1="30" y1="0" x2="630.00" y2="0"><stop offset="0.0000" stop-color="#18ccf8"/><stop offset="0.0200" stop-color="#18ccf8"/><stop offset="0.0400" stop-color="#18ccf8"/><stop offset="0.0600" stop-color="#18ccf8"/><stop offset="0.0800" stop-color="#18ccf8"/><stop offset="0.1000" stop-color="#18ccf8"/><stop offset="0.1200" stop-color="#18ccf8"/><stop offset="0.1400" stop-color="#18ccf8"/><stop offset="0.1600" stop-color="#18ccf8"/><stop offset="0.1800" stop-color="#18ccf8"/><stop offset="0.2000" stop-color="#18ccf8"/><stop offset="0.2200" stop-color="#18ccf8"/><stop offset="0.2400" stop-color="#18ccf8"/><stop offset="0.2600" stop-color="#18ccf8"/><stop offset="0.2800" stop-color="#18ccf8"/><stop offset="0.3000" stop-color="#18ccf8"/><stop offset="0.3200" stop-color="#18ccf8"/><stop offset="0.3400" stop-color="#18ccf8"/><stop offset="0.3600" stop-color="#18ccf8"/><stop offset="0.3800" stop-color="#18ccf8"/><stop offset="0.4000" stop-color="#18ccf8"/><stop offset="0.4200" stop-color="#18ccf8"/><stop offset="0.4400" stop-color="#18ccf8"/><stop offset="0.4600" stop-color="#18ccf8"/><stop offset="0.4800" stop-color="#18ccf8"/><stop offset="0.5000" stop-color="#18ccf8"/><stop offset="0.5200" stop-color="#18ccf8"/><stop offset="0.5400" stop-color="#18ccf8"/><stop offset="0.5600" stop-color="#18ccf8"/><stop offset="0.5800" stop-color="#18ccf8"/><stop offset="0.6000" stop-color="#18ccf8"/><stop offset="0.6200" stop-color="#18ccf8"/><stop offset="0.6400" stop-color="#18ccf8"/><stop offset="0.6600" stop-color="#18ccf8"/><stop offset="0.6800" stop-color="#18ccf8"/><stop offset="0.7000" stop-color="#18ccf8"/><stop offset="0.7200" stop-color="#18ccf8"/><stop offset="0.7400" stop-color="#18ccf8"/><stop offset="0.7600" stop-color="#18ccf8"/><stop offset="0.7800" stop-color="#18ccf8"/><stop offset="0.8000" stop-color="#18ccf8"/><stop offset="0.8200" stop-color="#18ccf8"/><stop offset="0.8400" stop-color="#18ccf8"/><stop offset="0.8600" stop-color="#18ccf8"/><stop offset="0.8800" stop-color="#18ccf8"/><stop offset="0.9000" stop-color="#18ccf8"/><stop offset="0.9200" stop-color="#18ccf8"/><stop offset="0.9400" stop-color="#18ccf8"/><stop offset="0.9600" stop-color="#18ccf8"/><stop offset="0.9800" stop-color="#18ccf8"/><stop offset="1.0000" stop-color="#18ccf8"/></linearGradient>
<linearGradient id="w29" gradientUnits="userSpaceOnUse" x1="30" y1="0" x2="630.00" y2="0"><stop offset="0.0000" stop-color="#f8b8b8"/><stop offset="0.0200" stop-color="#f8b8b8"/><stop offset="0.0400" stop-color="#f8b5b5"/><stop offset="0.0600" stop-color="#f8b2b2"/><stop offset="0.0800" stop-color="#f8adad"/><stop offset="0.1000" stop-color="#f8a8a8"/><stop offset="0.1200" stop-color="#f8a2a2"/><stop offset="0.1400" stop-color="#f69d9d"/><stop offset="0.1600" stop-color="#f49898"/><stop offset="0.1800" stop-color="#f39191"/><stop offset="0.2000" stop-color="#f28989"/><stop offset="0.2200" stop-color="#f08383"/><stop offset="0.2400" stop-color="#f07a7a"/><stop offset="0.2600" stop-color="#f07272"/><stop offset="0.2800" stop-color="#f06969"/><stop offset="0.3000" stop-color="#f06161"/><stop offset="0.3200" stop-color="#ef5857"/><stop offset="0.3400" stop-color="#ee4f4c"/><stop offset="0.3600" stop-color="#ed4641"/><stop offset="0.3800" stop-color="#ed3e37"/><stop offset="0.4000" stop-color="#ec362d"/><stop offset="0.4200" stop-color="#ec2f25"/><stop offset="0.4400" stop-color="#ec291d"/><stop offset="0.4600" stop-color="#ec2215"/><stop offset="0.4800" stop-color="#ec1c0d"/><stop offset="0.5000" stop-color="#ee1c07"/><stop offset="0.5200" stop-color="#f12506"/><stop offset="0.5400" stop-color="#f52f04"/><stop offset="0.5600" stop-color="#f93803"/><stop offset="0.5800" stop-color="#fc4101"/><stop offset="0.6000" stop-color="#ff4900"/><stop offset="0.6200" stop-color="#ff5000"/><stop offset="0.6400" stop-color="#ff5600"/><stop offset="0.6600" stop-color="#ff5c00"/><stop offset="0.6800" stop-color="#ff6100"/><stop offset="0.7000" stop-color="#ff6600"/><stop offset="0.7200" stop-color="#ff6a00"/><stop offset="0.7400" stop-color="#ff6e00"/><stop offset="0.7600" stop-color="#ff7100"/><stop offset="0.7800" stop-color="#ff7400"/><stop offset="0.8000" stop-color="#ff7500"/><stop offset="0.8200" stop-color="#ff7600"/><stop offset="0.8400" stop-color="#ff7500"/><stop offset="0.8600" stop-color="#ff7300"/><stop offset="0.8800" stop-color="#ff7100"/><stop offset="0.9000" stop-color="#ff6c00"/><stop offset="0.9200" stop-color="#ff6700"/><stop offset="0.9400" stop-color="#ff6100"/><stop offset="0.9600" stop-color="#ff5a00"/><stop offset="0.9800" stop-color="#ff5100"/><stop offset="1.0000" stop-color="#ff4700"/></linearGradient>
<linearGradient id="c29" gradientUnits="userSpaceOnUse" x1="30" y1="0" x2="630.00" y2="0"><stop offset="0.0000" stop-color="#18ccf8"/><stop offset="0.0200" stop-color="#18ccf8"/><stop offset="0.0400" stop-color="#18ccf8"/><stop offset="0.0600" stop-color="#18ccf8"/><stop offset="0.0800" stop-color="#18ccf8"/><stop offset="0.1000" stop-color="#18ccf8"/><stop offset="0.1200" stop-color="#18ccf8"/><stop offset="0.1400" stop-color="#18ccf8"/><stop offset="0.1600" stop-color="#18ccf8"/><stop offset="0.1800" stop-color="#18ccf8"/><stop offset="0.2000" stop-color="#18ccf8"/><stop offset="0.2200" stop-color="#18ccf8"/><stop offset="0.2400" stop-color="#18ccf8"/><stop offset="0.2600" stop-color="#18ccf8"/><stop offset="0.2800" stop-color="#18ccf8"/><stop offset="0.3000" stop-color="#18ccf8"/><stop offset="0.3200" stop-color="#18ccf8"/><stop offset="0.3400" stop-color="#18ccf8"/><stop offset="0.3600" stop-color="#18ccf8"/><stop offset="0.3800" stop-color="#18ccf8"/><stop offset="0.4000" stop-color="#18ccf8"/><stop offset="0.4200" stop-color="#18ccf8"/><stop offset="0.4400" stop-color="#18ccf8"/><stop offset="0.4600" stop-color="#18ccf8"/><stop offset="0.4800" stop-color="#18ccf8"/><stop offset="0.5000" stop-color="#18ccf8"/><stop offset="0.5200" stop-color="#18ccf8"/><stop offset="0.5400" stop-color="#18ccf8"/><stop offset="0.5600" stop-color="#18ccf8"/><stop offset="0.5800" stop-color="#18ccf8"/><stop offset="0.6000" stop-color="#18ccf8"/><stop offset="0.6200" stop-color="#18ccf8"/><stop offset="0.6400" stop-color="#18ccf8"/><stop offset="0.6600" stop-color="#18ccf8"/><stop offset="0.6800" stop-color="#18ccf8"/><stop offset="0.7000" stop-color="#18ccf8"/><stop offset="0.7200" stop-color="#18ccf8"/><stop offset="0.7400" stop-color="#18ccf8"/><stop offset="0.7600" stop-color="#18ccf8"/><stop offset="0.7800" stop-color="#18ccf8"/><stop offset="0.8000" stop-color="#18ccf8"/><stop offset="0.8200" stop-color="#18ccf8"/><stop offset="0.8400" stop-color="#18ccf8"/><stop offset="0.8600" stop-color="#18ccf8"/><stop offset="0.8800" stop-color="#18ccf8"/><stop offset="0.9000" stop-color="#18ccf8"/><stop offset="0.9200" stop-color="#18ccf8"/><stop offset="0.9400" stop-color="#18ccf8"/><stop offset="0.9600" stop-color="#18ccf8"/><stop offset="0.9800" stop-color="#18ccf8"/><stop offset="1.0000" stop-color="#18ccf8"/></linearGradient>
<linearGradient id="w30" gradientUnits="userSpaceOnUse" x1="30" y1="0" x2="630.00" y2="0"><stop offset="0.0000" stop-color="#f8b8b8"/><stop offset="0.0200" stop-color="#f8b8b8"/><stop offset="0.0400" stop-color="#f8b8b8"/><stop offset="0.0600" stop-color="#f8b8b8"/><stop offset="0.0800" stop-color="#f8b7b7"/><stop offset="0.1000" stop-color="#f8b3b3"/><stop offset="0.1200" stop-color="#f8b0b0"/><stop offset="0.1400" stop-color="#f8abab"/><stop offset="0.1600" stop-color="#f8a6a6"/><stop offset="0.1800" stop-color="#f7a1a1"/><stop offset="0.2000" stop-color="#f69d9d"/><stop offset="0.2200" stop-color="#f59898"/><stop offset="0.2400" stop-color="#f39393"/><stop offset="0.2600" stop-color="#f28d8d"/><stop offset="0.2800" stop-color="#f18787"/><stop offset="0.3000" stop-color="#f08282"/><stop offset="0.3200" stop-color="#f07b7b"/><stop offset="0.3400" stop-color="#f07373"/><stop offset="0.3600" stop-color="#f06c6c"/><stop offset="0.3800" stop-color="#f06565"/><stop offset="0.4000" stop-color="#f05e5d"/><stop offset="0.4200" stop-color="#ef5553"/><stop offset="0.4400" stop-color="#ee4d49"/><stop offset="0.4600" stop-color="#ed453f"/><stop offset="0.4800" stop-color="#ec3c35"/><stop offset="0.5000" stop-color="#ec352c"/><stop offset="0.5200" stop-color="#ec2f24"/><stop offset="0.5400" stop-color="#ec281c"/><stop offset="0.5600" stop-color="#ec2214"/><stop offset="0.5800" stop-color="#ec1c0d"/><stop offset="0.6000" stop-color="#ed1b07"/><stop offset="0.6200" stop-color="#f12406"/><stop offset="0.6400" stop-color="#f42c05"/><stop offset="0.6600" stop-color="#f73403"/><stop offset="0.6800" stop-color="#fa3c02"/><stop offset="0.7000" stop-color="#fd4201"/><stop offset="0.7200" stop-color="#ff4800"/><stop offset="0.7400" stop-color="#ff4c00"/><stop offset="0.7600" stop-color="#ff4f00"/><stop offset="0.7800" stop-color="#ff5100"/><stop offset="0.8000" stop-color="#ff5300"/><stop offset="0.8200" stop-color="#ff5300"/><stop offset="0.8400" stop-color="#ff5200"/><stop offset="0.8600" stop-color="#ff5100"/><stop offset="0.8800" stop-color="#ff4e00"/><stop offset="0.9000" stop-color="#ff4a00"/><stop offset="0.9200" stop-color="#fd4401"/><stop offset="0.9400" stop-color="#fa3b02"/><stop offset="0.9600" stop-color="#f63104"/><stop offset="0.9800" stop-color="#f12606"/><stop offset="1.0000" stop-color="#ec1908"/></linearGradient>
<linearGradient id="c30" gradientUnits="userSpaceOnUse" x1="30" y1="0" x2="630.00" y2="0"><stop offset="0.0000" stop-color="#18ccf8"/><stop offset="0.0200" stop-color="#18ccf8"/><stop offset="0.0400" stop-color="#18ccf8"/><stop offset="0.0600" stop-color="#18ccf8"/><stop offset="0.0800" stop-color="#18ccf8"/><stop offset="0.1000" stop-color="#18ccf8"/><stop offset="0.1200" stop-color="#18ccf8"/><stop offset="0.1400" stop-color="#18ccf8"/><stop offset="0.1600" stop-color="#18ccf8"/><stop offset="0.1800" stop-color="#18ccf8"/><stop offset="0.2000" stop-color="#18ccf8"/><stop offset="0.2200" stop-color="#18ccf8"/><stop offset="0.2400" stop-color="#18ccf8"/><stop offset="0.2600" stop-color="#18ccf8"/><stop offset="0.2800" stop-color="#18ccf8"/><stop offset="0.3000" stop-color="#18ccf8"/><stop offset="0.3200" stop-color="#18ccf8"/><stop offset="0.3400" stop-color="#18ccf8"/><stop offset="0.3600" stop-color="#18ccf8"/><stop offset="0.3800" stop-color="#18ccf8"/><stop offset="0.4000" stop-color="#18ccf8"/><stop offset="0.4200" stop-color="#18ccf8"/><stop offset="0.4400" stop-color="#18ccf8"/><stop offset="0.4600" stop-color="#18ccf8"/><stop offset="0.4800" stop-color="#18ccf8"/><stop offset="0.5000" stop-color="#18ccf8"/><stop offset="0.5200" stop-color="#18ccf8"/><stop offset="0.5400" stop-color="#18ccf8"/><stop offset="0.5600" stop-color="#18ccf8"/><stop offset="0.5800" stop-color="#18ccf8"/><stop offset="0.6000" stop-color="#18ccf8"/><stop offset="0.6200" stop-color="#18ccf8"/><stop offset="0.6400" stop-color="#18ccf8"/><stop offset="0.6600" stop-color="#18ccf8"/><stop offset="0.6800" stop-color="#18ccf8"/><stop offset="0.7000" stop-color="#18ccf8"/><stop offset="0.7200" stop-color="#18ccf8"/><stop offset="0.7400" stop-color="#18ccf8"/><stop offset="0.7600" stop-color="#18ccf8"/><stop offset="0.7800" stop-color="#18ccf8"/><stop offset="0.8000" stop-color="#18ccf8"/><stop offset="0.8200" stop-color="#18ccf8"/><stop offset="0.8400" stop-color="#18ccf8"/><stop offset="0.8600" stop-color="#18ccf8"/><stop offset="0.8800" stop-color="#18ccf8"/><stop offset="0.9000" stop-color="#18ccf8"/><stop offset="0.9200" stop-color="#18ccf8"/><stop offset="0.9400" stop-color="#18ccf8"/><stop offset="0.9600" stop-color="#18ccf8"/><stop offset="0.9800" stop-color="#18ccf8"/><stop offset="1.0000" stop-color="#18ccf8"/></linearGradient>
<linearGradient id="w31" gradientUnits="userSpaceOnUse" x1="30" y1="0" x2="630.00" y2="0"><stop offset="0.0000" stop-color="#f8b8b8"/><stop offset="0.0200" stop-color="#f8b8b8"/><stop offset="0.0400" stop-color="#f8b8b8"/><stop offset="0.0600" stop-color="#f8b8b8"/><stop offset="0.0800" stop-color="#f8b8b8"/><stop offset="0.1000" stop-color="#f8b8b8"/><stop offset="0.1200" stop-color="#f8b8b8"/><stop offset="0.1400" stop-color="#f8b5b5"/><stop offset="0.1600" stop-color="#f8b2b2"/><stop offset="0.1800" stop-color="#f8afaf"/><stop offset="0.2000" stop-color="#f8aaaa"/><stop offset="0.2200" stop-color="#f8a7a7"/><stop offset="0.2400" stop-color="#f8a3a3"/><stop offset="0.2600" stop-color="#f79f9f"/><stop offset="0.2800" stop-color="#f59b9b"/><stop offset="0.3000" stop-color="#f49797"/><stop offset="0.3200" stop-color="#f39393"/><stop offset="0.3400" stop-color="#f28e8e"/><stop offset="0.3600" stop-color="#f28989"/><stop offset="0.3800" stop-color="#f18484"/><stop offset="0.4000" stop-color="#f07e7e"/><stop offset="0.4200" stop-color="#f07777"/><stop offset="0.4400" stop-color="#f07171"/><stop offset="0.4600" stop-color="#f06a6a"/><stop offset="0.4800" stop-color="#f06363"/><stop offset="0.5000" stop-color="#f05c5b"/><stop offset="0.5200" stop-color="#ef5451"/><stop offset="0.5400" stop-color="#ee4c47"/><stop offset="0.5600" stop-color="#ed443e"/><stop offset="0.5800" stop-color="#ec3c34"/><stop offset="0.6000" stop-color="#ec352c"/><stop offset="0.6200" stop-color="#ec2f25"/><stop offset="0.6400" stop-color="#ec291e"/><stop offset="0.6600" stop-color="#ec2417"/><stop offset="0.6800" stop-color="#ec1f11"/><stop offset="0.7000" stop-color="#ec1a0b"/><stop offset="0.7200" stop-color="#ed1a08"/><stop offset="0.7400" stop-color="#ef1f07"/><stop offset="0.7600" stop-color="#f12406"/><stop offset="0.7800" stop-color="#f22706"/><stop offset="0.8000" stop-color="#f32905"/><stop offset="0.8200" stop-color="#f32905"/><stop offset="0.8400" stop-color="#f22805"/><stop offset="0.8600" stop-color="#f22606"/><stop offset="0.8800" stop-color="#f02206"/><stop offset="0.9000" stop-color="#ee1d07"/><stop offset="0.9200" stop-color="#ec190a"/><stop offset="0.9400" stop-color="#ec1f11"/><stop offset="0.9600" stop-color="#ec2619"/><stop offset="0.9800" stop-color="#ec2e23"/><stop offset="1.0000" stop-color="#ec372e"/></linearGradient>
<linearGradient id="c31" gradientUnits="userSpaceOnUse" x1="30" y1="0" x2="630.00" y2="0"><stop offset="0.0000" stop-color="#18ccf8"/><stop offset="0.0200" stop-color="#18ccf8"/><stop offset="0.0400" stop-color="#18ccf8"/><stop offset="0.0600" stop-color="#18ccf8"/><stop offset="0.0800" stop-color="#18ccf8"/><stop offset="0.1000" stop-color="#18ccf8"/><stop offset="0.1200" stop-color="#18ccf8"/><stop offset="0.1400" stop-color="#18ccf8"/><stop offset="0.1600" stop-color="#18ccf8"/><stop offset="0.1800" stop-color="#18ccf8"/><stop offset="0.2000" stop-color="#18ccf8"/><stop offset="0.2200" stop-color="#18ccf8"/><stop offset="0.2400" stop-color="#18ccf8"/><stop offset="0.2600" stop-color="#18ccf8"/><stop offset="0.2800" stop-color="#18ccf8"/><stop offset="0.3000" stop-color="#18ccf8"/><stop offset="0.3200" stop-color="#18ccf8"/><stop offset="0.3400" stop-color="#18ccf8"/><stop offset="0.3600" stop-color="#18ccf8"/><stop offset="0.3800" stop-color="#18ccf8"/><stop offset="0.4000" stop-color="#18ccf8"/><stop offset="0.4200" stop-color="#18ccf8"/><stop offset="0.4400" stop-color="#18ccf8"/><stop offset="0.4600" stop-color="#18ccf8"/><stop offset="0.4800" stop-color="#18ccf8"/><stop offset="0.5000" stop-color="#18ccf8"/><stop offset="0.5200" stop-color="#18ccf8"/><stop offset="0.5400" stop-color="#18ccf8"/><stop offset="0.5600" stop-color="#18ccf8"/><stop offset="0.5800" stop-color="#18ccf8"/><stop offset="0.6000" stop-color="#18ccf8"/><stop offset="0.6200" stop-color="#18ccf8"/><stop offset="0.6400" stop-color="#18ccf8"/><stop offset="0.6600" stop-color="#18ccf8"/><stop offset="0.6800" stop-color="#18ccf8"/><stop offset="0.7000" stop-color="#18ccf8"/><stop offset="0.7200" stop-color="#18ccf8"/><stop offset="0.7400" stop-color="#18ccf8"/><stop offset="0.7600" stop-color="#18ccf8"/><stop offset="0.7800" stop-color="#18ccf8"/><stop offset="0.8000" stop-color="#18ccf8"/><stop offset="0.8200" stop-color="#18ccf8"/><stop offset="0.8400" stop-color="#18ccf8"/><stop offset="0.8600" stop-color="#18ccf8"/><stop offset="0.8800" stop-color="#18ccf8"/><stop offset="0.9000" stop-color="#18ccf8"/><stop offset="0.9200" stop-color="#18ccf8"/><stop offset="0.9400" stop-color="#18ccf8"/><stop offset="0.9600" stop-color="#18ccf8"/><stop offset="0.9800" stop-color="#18ccf8"/><stop offset="1.0000" stop-color="#18ccf8"/></linearGradient>
<linearGradient id="w32" gradientUnits="userSpaceOnUse" x1="30" y1="0" x2="630.00" y2="0"><stop offset="0.0000" stop-color="#f8b8b8"/><stop offset="0.0200" stop-color="#f8b8b8"/><stop offset="0.0400" stop-color="#f8b8b8"/><stop offset="0.0600" stop-color="#f8b8b8"/><stop offset="0.0800" stop-color="#f8b8b8"/><stop offset="0.1000" stop-color="#f8b8b8"/><stop offset="0.1200" stop-color="#f8b8b8"/><stop offset="0.1400" stop-color="#f8b8b8"/><stop offset="0.1600" stop-color="#f8b8b8"/><stop offset="0.1800" stop-color="#f8b8b8"/><stop offset="0.2000" stop-color="#f8b5b5"/><stop offset="0.2200" stop-color="#f8b2b2"/><stop offset="0.2400" stop-color="#f8afaf"/><stop offset="0.2600" stop-color="#f8acac"/><stop offset="0.2800" stop-color="#f8a9a9"/><stop offset="0.3000" stop-color="#f8a6a6"/><stop offset="0.3200" stop-color="#f8a2a2"/><stop offset="0.3400" stop-color="#f79f9f"/><stop offset="0.3600" stop-color="#f69c9c"/><stop offset="0.3800" stop-color="#f59898"/><stop offset="0.4000" stop-color="#f49595"/><stop offset="0.4200" stop-color="#f39090"/><stop offset="0.4400" stop-color="#f28b8b"/><stop offset="0.4600" stop-color="#f18787"/><stop offset="0.4800" stop-color="#f08282"/><stop offset="0.5000" stop-color="#f07c7c"/><stop offset="0.5200" stop-color="#f07676"/><stop offset="0.5400" stop-color="#f06f6f"/><stop offset="0.5600" stop-color="#f06969"/><stop offset="0.5800" stop-color="#f06262"/><stop offset="0.6000" stop-color="#ef5b5a"/><stop offset="0.6200" stop-color="#ef5351"/><stop offset="0.6400" stop-color="#ee4c48"/><stop offset="0.6600" stop-color="#ed4540"/><stop offset="0.6800" stop-color="#ed3f39"/><stop offset="0.7000" stop-color="#ec3932"/><stop offset="0.7200" stop-color="#ec352c"/><stop offset="0.7400" stop-color="#ec3228"/><stop offset="0.7600" stop-color="#ec2f24"/><stop offset="0.7800" stop-color="#ec2d22"/><stop offset="0.8000" stop-color="#ec2b20"/><stop offset="0.8200" stop-color="#ec2b20"/><stop offset="0.8400" stop-color="#ec2b20"/><stop offset="0.8600" stop-color="#ec2d22"/><stop offset="0.8800" stop-color="#ec3025"/><stop offset="0.9000" stop-color="#ec332a"/><stop offset="0.9200" stop-color="#ec3830"/><stop offset="0.9400" stop-color="#ed3f39"/><stop offset="0.9600" stop-color="#ee4843"/><stop offset="0.9800" stop-color="#ef524f"/><stop offset="1.0000" stop-color="#f05d5d"/></linearGradient>
<linearGradient id="c32" gradientUnits="userSpaceOnUse" x1="30" y1="0" x2="630.00" y2="0"><stop offset="0.0000" stop-color="#18ccf8"/><stop offset="0.0200" stop-color="#18ccf8"/><stop offset="0.0400" stop-color="#18ccf8"/><stop offset="0.0600" stop-color="#18ccf8"/><stop offset="0.0800" stop-color="#18ccf8"/><stop offset="0.1000" stop-color="#18ccf8"/><stop offset="0.1200" stop-color="#18ccf8"/><stop offset="0.1400" stop-color="#18ccf8"/><stop offset="0.1600" stop-color="#18ccf8"/><stop offset="0.1800" stop-color="#18ccf8"/><stop offset="0.2000" stop-color="#18ccf8"/><stop offset="0.2200" stop-color="#18ccf8"/><stop offset="0.2400" stop-color="#18ccf8"/><stop offset="0.2600" stop-color="#18ccf8"/><stop offset="0.2800" stop-color="#18ccf8"/><stop offset="0.3000" stop-color="#18ccf8"/><stop offset="0.3200" stop-color="#18ccf8"/><stop offset="0.3400" stop-color="#18ccf8"/><stop offset="0.3600" stop-color="#18ccf8"/><stop offset="0.3800" stop-color="#18ccf8"/><stop offset="0.4000" stop-color="#18ccf8"/><stop offset="0.4200" stop-color="#18ccf8"/><stop offset="0.4400" stop-color="#18ccf8"/><stop offset="0.4600" stop-color="#18ccf8"/><stop offset="0.4800" stop-color="#18ccf8"/><stop offset="0.5000" stop-color="#18ccf8"/><stop offset="0.5200" stop-color="#18ccf8"/><stop offset="0.5400" stop-color="#18ccf8"/><stop offset="0.5600" stop-color="#18ccf8"/><stop offset="0.5800" stop-color="#18ccf8"/><stop offset="0.6000" stop-color="#18ccf8"/><stop offset="0.6200" stop-color="#18ccf8"/><stop offset="0.6400" stop-color="#18ccf8"/><stop offset="0.6600" stop-color="#18ccf8"/><stop offset="0.6800" stop-color="#18ccf8"/><stop offset="0.7000" stop-color="#18ccf8"/><stop offset="0.7200" stop-color="#18ccf8"/><stop offset="0.7400" stop-color="#18ccf8"/><stop offset="0.7600" stop-color="#18ccf8"/><stop offset="0.7800" stop-color="#18ccf8"/><stop offset="0.8000" stop-color="#18ccf8"/><stop offset="0.8200" stop-color="#18ccf8"/><stop offset="0.8400" stop-color="#18ccf8"/><stop offset="0.8600" stop-color="#18ccf8"/><stop offset="0.8800" stop-color="#18ccf8"/><stop offset="0.9000" stop-color="#18ccf8"/><stop offset="0.9200" stop-color="#18ccf8"/><stop offset="0.9400" stop-color="#18ccf8"/><stop offset="0.9600" stop-color="#18ccf8"/><stop offset="0.9800" stop-color="#18ccf8"/><stop offset="1.0000" stop-color="#18ccf8"/></linearGradient>
<linearGradient id="w33" gradientUnits="userSpaceOnUse" x1="30" y1="0" x2="630.00" y2="0"><stop offset="0.0000" stop-color="#f8b8b8"/><stop offset="0.0200" stop-color="#f8b8b8"/><stop offset="0.0400" stop-color="#f8b8b8"/><stop offset="0.0600" stop-color="#f8b8b8"/><stop offset="0.0800" stop-color="#f8b8b8"/><stop offset="0.1000" stop-color="#f8b8b8"/><stop offset="0.1200" stop-color="#f8b8b8"/><stop offset="0.1400" stop-color="#f8b8b8"/><stop offset="0.1600" stop-color="#f8b8b8"/><stop offset="0.1800" stop-color="#f8b8b8"/><stop offset="0.2000" stop-color="#f8b8b8"/><stop offset="0.2200" stop-color="#f8b8b8"/><stop offset="0.2400" stop-color="#f8b8b8"/><stop offset="0.2600" stop-color="#f8b6b6"/><stop offset="0.2800" stop-color="#f8b3b3"/><stop offset="0.3000" stop-color="#f8b1b1"/><stop offset="0.3200" stop-color="#f8afaf"/><stop offset="0.3400" stop-color="#f8acac"/><stop offset="0.3600" stop-color="#f8a9a9"/><stop offset="0.3800" stop-color="#f8a6a6"/><stop offset="0.4000" stop-color="#f8a4a4"/><stop offset="0.4200" stop-color="#f7a0a0"/><stop offset="0.4400" stop-color="#f69d9d"/><stop offset="0.4600" stop-color="#f59a9a"/><stop offset="0.4800" stop-color="#f49797"/><stop offset="0.5000" stop-color="#f49393"/><stop offset="0.5200" stop-color="#f38f8f"/><stop offset="0.5400" stop-color="#f28a8a"/><stop offset="0.5600" stop-color="#f18585"/><stop offset="0.5800" stop-color="#f08181"/><stop offset="0.6000" stop-color="#f07b7b"/><stop offset="0.6200" stop-color="#f07575"/><stop offset="0.6400" stop-color="#f06f6f"/><stop offset="0.6600" stop-color="#f06a6a"/><stop offset="0.6800" stop-color="#f06464"/><stop offset="0.7000" stop-color="#f06060"/><stop offset="0.7200" stop-color="#ef5a59"/><stop offset="0.7400" stop-color="#ef5654"/><stop offset="0.7600" stop-color="#ef5250"/><stop offset="0.7800" stop-color="#ee504d"/><stop offset="0.8000" stop-color="#ee4e4b"/><stop offset="0.8200" stop-color="#ee4e4a"/><stop offset="0.8400" stop-color="#ee4e4b"/><stop offset="0.8600" stop-color="#ee504d"/><stop offset="0.8800" stop-color="#ef5451"/><stop offset="0.9000" stop-color="#ef5857"/><stop offset="0.9200" stop-color="#f05e5e"/><stop offset="0.9400" stop-color="#f06464"/><stop offset="0.9600" stop-color="#f06c6c"/><stop offset="0.9800" stop-color="#f07474"/><stop offset="1.0000" stop-color="#f07d7d"/></linearGradient>
<linearGradient id="c33" gradientUnits="userSpaceOnUse" x1="30" y1="0" x2="630.00" y2="0"><stop offset="0.0000" stop-color="#18ccf8"/><stop offset="0.0200" stop-color="#18ccf8"/><stop offset="0.0400" stop-color="#18ccf8"/><stop offset="0.0600" stop-color="#18ccf8"/><stop offset="0.0800" stop-color="#18ccf8"/><stop offset="0.1000" stop-color="#18ccf8"/><stop offset="0.1200" stop-color="#18ccf8"/><stop offset="0.1400" stop-color="#18ccf8"/><stop offset="0.1600" stop-color="#18ccf8"/><stop offset="0.1800" stop-color="#18ccf8"/><stop offset="0.2000" stop-color="#18ccf8"/><stop offset="0.2200" stop-color="#18ccf8"/><stop offset="0.2400" stop-color="#18ccf8"/><stop offset="0.2600" stop-color="#18ccf8"/><stop offset="0.2800" stop-color="#18ccf8"/><stop offset="0.3000" stop-color="#18ccf8"/><stop offset="0.3200" stop-color="#18ccf8"/><stop offset="0.3400" stop-color="#18ccf8"/><stop offset="0.3600" stop-color="#18ccf8"/><stop offset="0.3800" stop-color="#18ccf8"/><stop offset="0.4000" stop-color="#18ccf8"/><stop offset="0.4200" stop-color="#18ccf8"/><stop offset="0.4400" stop-color="#18ccf8"/><stop offset="0.4600" stop-color="#18ccf8"/><stop offset="0.4800" stop-color="#18ccf8"/><stop offset="0.5000" stop-color="#18ccf8"/><stop offset="0.5200" stop-color="#18ccf8"/><stop offset="0.5400" stop-color="#18ccf8"/><stop offset="0.5600" stop-color="#18ccf8"/><stop offset="0.5800" stop-color="#18ccf8"/><stop offset="0.6000" stop-color="#18ccf8"/><stop offset="0.6200" stop-color="#18ccf8"/><stop offset="0.6400" stop-color="#18ccf8"/><stop offset="0.6600" stop-color="#18ccf8"/><stop offset="0.6800" stop-color="#18ccf8"/><stop offset="0.7000" stop-color="#18ccf8"/><stop offset="0.7200" stop-color="#18ccf8"/><stop offset="0.7400" stop-color="#18ccf8"/><stop offset="0.7600" stop-color="#18ccf8"/><stop offset="0.7800" stop-color="#18ccf8"/><stop offset="0.8000" stop-color="#18ccf8"/><stop offset="0.8200" stop-color="#18ccf8"/><stop offset="0.8400" stop-color="#18ccf8"/><stop offset="0.8600" stop-color="#18ccf8"/><stop offset="0.8800" stop-color="#18ccf8"/><stop offset="0.9000" stop-color="#18ccf8"/><stop offset="0.9200" stop-color="#18ccf8"/><stop offset="0.9400" stop-color="#18ccf8"/><stop offset="0.9600" stop-color="#18ccf8"/><stop offset="0.9800" stop-color="#18ccf8"/><stop offset="1.0000" stop-color="#18ccf8"/></linearGradient>
<linearGradient id="w34" gradientUnits="userSpaceOnUse" x1="30" y1="0" x2="630.00" y2="0"><stop offset="0.0000" stop-color="#f8b8b8"/><stop offset="0.0200" stop-color="#f8b8b8"/><stop offset="0.0400" stop-color="#f8b8b8"/><stop offset="0.0600" stop-color="#f8b8b8"/><stop offset="0.0800" stop-color="#f8b8b8"/><stop offset="0.1000" stop-color="#f8b8b8"/><stop offset="0.1200" stop-color="#f8b8b8"/><stop offset="0.1400" stop-color="#f8b8b8"/><stop offset="0.1600" stop-color="#f8b8b8"/><stop offset="0.1800" stop-color="#f8b8b8"/><stop offset="0.2000" stop-color="#f8b8b8"/><stop offset="0.2200" stop-color="#f8b8b8"/><stop offset="0.2400" stop-color="#f8b8b8"/><stop offset="0.2600" stop-color="#f8b8b8"/><stop offset="0.2800" stop-color="#f8b8b8"/><stop offset="0.3000" stop-color="#f8b8b8"/><stop offset="0.3200" stop-color="#f8b7b7"/><stop offset="0.3400" stop-color="#f8b5b5"/><stop offset="0.3600" stop-color="#f8b3b3"/><stop offset="0.3800" stop-color="#f8b2b2"/><stop offset="0.4000" stop-color="#f8b0b0"/><stop offset="0.4200" stop-color="#f8adad"/><stop offset="0.4400" stop-color="#f8aaaa"/><stop offset="0.4600" stop-color="#f8a8a8"/><stop offset="0.4800" stop-color="#f8a5a5"/><stop offset="0.5000" stop-color="#f7a2a2"/><stop offset="0.5200" stop-color="#f79f9f"/><stop offset="0.5400" stop-color="#f69c9c"/><stop offset="0.5600" stop-color="#f59999"/><stop offset="0.5800" stop-color="#f49696"/><stop offset="0.6000" stop-color="#f39292"/><stop offset="0.6200" stop-color="#f28e8e"/><stop offset="0.6400" stop-color="#f28a8a"/><stop offset="0.6600" stop-color="#f18686"/><stop offset="0.6800" stop-color="#f08282"/><stop offset="0.7000" stop-color="#f07e7e"/><stop offset="0.7200" stop-color="#f07a7a"/><stop offset="0.7400" stop-color="#f07777"/><stop offset="0.7600" stop-color="#f07474"/><stop offset="0.7800" stop-color="#f07171"/><stop offset="0.8000" stop-color="#f07070"/><stop offset="0.8200" stop-color="#f07070"/><stop offset="0.8400" stop-color="#f07070"/><stop offset="0.8600" stop-color="#f07272"/><stop offset="0.8800" stop-color="#f07474"/><stop offset="0.9000" stop-color="#f07878"/><stop offset="0.9200" stop-color="#f07d7d"/><stop offset="0.9400" stop-color="#f08282"/><stop offset="0.9600" stop-color="#f18787"/><stop offset="0.9800" stop-color="#f28d8d"/><stop offset="1.0000" stop-color="#f49393"/></linearGradient>
<linearGradient id="c34" gradientUnits="userSpaceOnUse" x1="30" y1="0" x2="630.00" y2="0"><stop offset="0.0000" stop-color="#18ccf8"/><stop offset="0.0200" stop-color="#18ccf8"/><stop offset="0.0400" stop-color="#18ccf8"/><stop offset="0.0600" stop-color="#18ccf8"/><stop offset="0.0800" stop-color="#18ccf8"/><stop offset="0.1000" stop-color="#18ccf8"/><stop offset="0.1200" stop-color="#18ccf8"/><stop offset="0.1400" stop-color="#18ccf8"/><stop offset="0.1600" stop-color="#18ccf8"/><stop offset="0.1800" stop-color="#18ccf8"/><stop offset="0.2000" stop-color="#18ccf8"/><stop offset="0.2200" stop-color="#18ccf8"/><stop offset="0.2400" stop-color="#18ccf8"/><stop offset="0.2600" stop-color="#18ccf8"/><stop offset="0.2800" stop-color="#18ccf8"/><stop offset="0.3000" stop-color="#18ccf8"/><stop offset="0.3200" stop-color="#18ccf8"/><stop offset="0.3400" stop-color="#18ccf8"/><stop offset="0.3600" stop-color="#18ccf8"/><stop offset="0.3800" stop-color="#18ccf8"/><stop offset="0.4000" stop-color="#18ccf8"/><stop offset="0.4200" stop-color="#18ccf8"/><stop offset="0.4400" stop-color="#18ccf8"/><stop offset="0.4600" stop-color="#18ccf8"/><stop offset="0.4800" stop-color="#18ccf8"/><stop offset="0.5000" stop-color="#18ccf8"/><stop offset="0.5200" stop-color="#18ccf8"/><stop offset="0.5400" stop-color="#18ccf8"/><stop offset="0.5600" stop-color="#18ccf8"/><stop offset="0.5800" stop-color="#18ccf8"/><stop offset="0.6000" stop-color="#18ccf8"/><stop offset="0.6200" stop-color="#18ccf8"/><stop offset="0.6400" stop-color="#18ccf8"/><stop offset="0.6600" stop-color="#18ccf8"/><stop offset="0.6800" stop-color="#18ccf8"/><stop offset="0.7000" stop-color="#18ccf8"/><stop offset="0.7200" stop-color="#18ccf8"/><stop offset="0.7400" stop-color="#18ccf8"/><stop offset="0.7600" stop-color="#18ccf8"/><stop offset="0.7800" stop-color="#18ccf8"/><stop offset="0.8000" stop-color="#18ccf8"/><stop offset="0.8200" stop-color="#18ccf8"/><stop offset="0.8400" stop-color="#18ccf8"/><stop offset="0.8600" stop-color="#18ccf8"/><stop offset="0.8800" stop-color="#18ccf8"/><stop offset="0.9000" stop-color="#18ccf8"/><stop offset="0.9200" stop-color="#18ccf8"/><stop offset="0.9400" stop-color="#18ccf8"/><stop offset="0.9600" stop-color="#18ccf8"/><stop offset="0.9800" stop-color="#18ccf8"/><stop offset="1.0000" stop-color="#18ccf8"/></linearGradient>
<linearGradient id="w35" gradientUnits="userSpaceOnUse" x1="30" y1="0" x2="630.00" y2="0"><stop offset="0.0000" stop-color="#f8b8b8"/><stop offset="0.0200" stop-color="#f8b8b8"/><stop offset="0.0400" stop-color="#f8b8b8"/><stop offset="0.0600" stop-color="#f8b8b8"/><stop offset="0.0800" stop-color="#f8b8b8"/><stop offset="0.1000" stop-color="#f8b8b8"/><stop offset="0.1200" stop-color="#f8b8b8"/><stop offset="0.1400" stop-color="#f8b8b8"/><stop offset="0.1600" stop-color="#f8b8b8"/><stop offset="0.1800" stop-color="#f8b8b8"/><stop offset="0.2000" stop-color="#f8b8b8"/><stop offset="0.2200" stop-color="#f8b8b8"/><stop offset="0.2400" stop-color="#f8b8b8"/><stop offset="0.2600" stop-color="#f8b8b8"/><stop offset="0.2800" stop-color="#f8b8b8"/><stop offset="0.3000" stop-color="#f8b8b8"/><stop offset="0.3200" stop-color="#f8b8b8"/><stop offset="0.3400" stop-color="#f8b8b8"/><stop offset="0.3600" stop-color="#f8b8b8"/><stop offset="0.3800" stop-color="#f8b8b8"/><stop offset="0.4000" stop-color="#f8b8b8"/><stop offset="0.4200" stop-color="#f8b6b6"/><stop offset="0.4400" stop-color="#f8b4b4"/><stop offset="0.4600" stop-color="#f8b2b2"/><stop offset="0.4800" stop-color="#f8b1b1"/><stop offset="0.5000" stop-color="#f8aeae"/><stop offset="0.5200" stop-color="#f8acac"/><stop offset="0.5400" stop-color="#f8a9a9"/><stop offset="0.5600" stop-color="#f8a6a6"/><stop offset="0.5800" stop-color="#f8a4a4"/><stop offset="0.6000" stop-color="#f7a1a1"/><stop offset="0.6200" stop-color="#f69e9e"/><stop offset="0.6400" stop-color="#f69c9c"/><stop offset="0.6600" stop-color="#f59999"/><stop offset="0.6800" stop-color="#f49797"/><stop offset="0.7000" stop-color="#f49494"/><stop offset="0.7200" stop-color="#f39191"/><stop offset="0.7400" stop-color="#f38e8e"/><stop offset="0.7600" stop-color="#f28c8c"/><stop offset="0.7800" stop-color="#f28b8b"/><stop offset="0.8000" stop-color="#f28a8a"/><stop offset="0.8200" stop-color="#f28a8a"/><stop offset="0.8400" stop-color="#f28a8a"/><stop offset="0.8600" stop-color="#f28b8b"/><stop offset="0.8800" stop-color="#f28d8d"/><stop offset="0.9000" stop-color="#f39090"/><stop offset="0.9200" stop-color="#f39393"/><stop offset="0.9400" stop-color="#f49797"/><stop offset="0.9600" stop-color="#f59a9a"/><stop offset="0.9800" stop-color="#f69e9e"/><stop offset="1.0000" stop-color="#f7a2a2"/></linearGradient>
<linearGradient id="c35" gradientUnits="userSpaceOnUse" x1="30" y1="0" x2="630.00" y2="0"><stop offset="0.0000" stop-color="#18ccf8"/><stop offset="0.0200" stop-color="#18ccf8"/><stop offset="0.0400" stop-color="#18ccf8"/><stop offset="0.0600" stop-color="#18ccf8"/><stop offset="0.0800" stop-color="#18ccf8"/><stop offset="0.1000" stop-color="#18ccf8"/><stop offset="0.1200" stop-color="#18ccf8"/><stop offset="0.1400" stop-color="#18ccf8"/><stop offset="0.1600" stop-color="#18ccf8"/><stop offset="0.1800" stop-color="#18ccf8"/><stop offset="0.2000" stop-color="#18ccf8"/><stop offset="0.2200" stop-color="#18ccf8"/><stop offset="0.2400" stop-color="#18ccf8"/><stop offset="0.2600" stop-color="#18ccf8"/><stop offset="0.2800" stop-color="#18ccf8"/><stop offset="0.3000" stop-color="#18ccf8"/><stop offset="0.3200" stop-color="#18ccf8"/><stop offset="0.3400" stop-color="#18ccf8"/><stop offset="0.3600" stop-color="#18ccf8"/><stop offset="0.3800" stop-color="#18ccf8"/><stop offset="0.4000" stop-color="#18ccf8"/><stop offset="0.4200" stop-color="#18ccf8"/><stop offset="0.4400" stop-color="#18ccf8"/><stop offset="0.4600" stop-color="#18ccf8"/><stop offset="0.4800" stop-color="#18ccf8"/><stop offset="0.5000" stop-color="#18ccf8"/><stop offset="0.5200" stop-color="#18ccf8"/><stop offset="0.5400" stop-color="#18ccf8"/><stop offset="0.5600" stop-color="#18ccf8"/><stop offset="0.5800" stop-color="#18ccf8"/><stop offset="0.6000" stop-color="#18ccf8"/><stop offset="0.6200" stop-color="#18ccf8"/><stop offset="0.6400" stop-color="#18ccf8"/><stop offset="0.6600" stop-color="#18ccf8"/><stop offset="0.6800" stop-color="#18ccf8"/><stop offset="0.7000" stop-color="#18ccf8"/><stop offset="0.7200" stop-color="#18ccf8"/><stop offset="0.7400" stop-color="#18ccf8"/><stop offset="0.7600" stop-color="#18ccf8"/><stop offset="0.7800" stop-color="#18ccf8"/><stop offset="0.8000" stop-color="#18ccf8"/><stop offset="0.8200" stop-color="#18ccf8"/><stop offset="0.8400" stop-color="#18ccf8"/><stop offset="0.8600" stop-color="#18ccf8"/><stop offset="0.8800" stop-color="#18ccf8"/><stop offset="0.9000" stop-color="#18ccf8"/><stop offset="0.9200" stop-color="#18ccf8"/><stop offset="0.9400" stop-color="#18ccf8"/><stop offset="0.9600" stop-color="#18ccf8"/><stop offset="0.9800" stop-color="#18ccf8"/><stop offset="1.0000" stop-color="#18ccf8"/></linearGradient>
<linearGradient id="w36" gradientUnits="userSpaceOnUse" x1="30" y1="0" x2="630.00" y2="0"><stop offset="0.0000" stop-color="#f8b8b8"/><stop offset="0.0200" stop-color="#f8b8b8"/><stop offset="0.0400" stop-color="#f8b8b8"/><stop offset="0.0600" stop-color="#f8b8b8"/><stop offset="0.0800" stop-color="#f8b8b8"/><stop offset="0.1000" stop-color="#f8b8b8"/><stop offset="0.1200" stop-color="#f8b8b8"/><stop offset="0.1400" stop-color="#f8b8b8"/><stop offset="0.1600" stop-color="#f8b8b8"/><stop offset="0.1800" stop-color="#f8b8b8"/><stop offset="0.2000" stop-color="#f8b8b8"/><stop offset="0.2200" stop-color="#f8b8b8"/><stop offset="0.2400" stop-color="#f8b8b8"/><stop offset="0.2600" stop-color="#f8b8b8"/><stop offset="0.2800" stop-color="#f8b8b8"/><stop offset="0.3000" stop-color="#f8b8b8"/><stop offset="0.3200" stop-color="#f8b8b8"/><stop offset="0.3400" stop-color="#f8b8b8"/><stop offset="0.3600" stop-color="#f8b8b8"/><stop offset="0.3800" stop-color="#f8b8b8"/><stop offset="0.4000" stop-color="#f8b8b8"/><stop offset="0.4200" stop-color="#f8b8b8"/><stop offset="0.4400" stop-color="#f8b8b8"/><stop offset="0.4600" stop-color="#f8b8b8"/><stop offset="0.4800" stop-color="#f8b8b8"/><stop offset="0.5000" stop-color="#f8b7b7"/><stop offset="0.5200" stop-color="#f8b5b5"/><stop offset="0.5400" stop-color="#f8b3b3"/><stop offset="0.5600" stop-color="#f8b1b1"/><stop offset="0.5800" stop-color="#f8b0b0"/><stop offset="0.6000" stop-color="#f8adad"/><stop offset="0.6200" stop-color="#f8abab"/><stop offset="0.6400" stop-color="#f8a8a8"/><stop offset="0.6600" stop-color="#f8a6a6"/><stop offset="0.6800" stop-color="#f8a4a4"/><stop offset="0.7000" stop-color="#f7a2a2"/><stop offset="0.7200" stop-color="#f7a0a0"/><stop offset="0.7400" stop-color="#f69f9f"/><stop offset="0.7600" stop-color="#f69d9d"/><stop offset="0.7800" stop-color="#f69c9c"/><stop offset="0.8000" stop-color="#f69c9c"/><stop offset="0.8200" stop-color="#f69b9b"/><stop offset="0.8400" stop-color="#f69c9c"/><stop offset="0.8600" stop-color="#f69c9c"/><stop offset="0.8800" stop-color="#f69e9e"/><stop offset="0.9000" stop-color="#f79f9f"/><stop offset="0.9200" stop-color="#f7a2a2"/><stop offset="0.9400" stop-color="#f8a4a4"/><stop offset="0.9600" stop-color="#f8a7a7"/><stop offset="0.9800" stop-color="#f8aaaa"/><stop offset="1.0000" stop-color="#f8aeae"/></linearGradient>
<linearGradient id="c36" gradientUnits="userSpaceOnUse" x1="30" y1="0" x2="630.00" y2="0"><stop offset="0.0000" stop-color="#18ccf8"/><stop offset="0.0200" stop-color="#18ccf8"/><stop offset="0.0400" stop-color="#18ccf8"/><stop offset="0.0600" stop-color="#18ccf8"/><stop offset="0.0800" stop-color="#18ccf8"/><stop offset="0.1000" stop-color="#18ccf8"/><stop offset="0.1200" stop-color="#18ccf8"/><stop offset="0.1400" stop-color="#18ccf8"/><stop offset="0.1600" stop-color="#18ccf8"/><stop offset="0.1800" stop-color="#18ccf8"/><stop offset="0.2000" stop-color="#18ccf8"/><stop offset="0.2200" stop-color="#18ccf8"/><stop offset="0.2400" stop-color="#18ccf8"/><stop offset="0.2600" stop-color="#18ccf8"/><stop offset="0.2800" stop-color="#18ccf8"/><stop offset="0.3000" stop-color="#18ccf8"/><stop offset="0.3200" stop-color="#18ccf8"/><stop offset="0.3400" stop-color="#18ccf8"/><stop offset="0.3600" stop-color="#18ccf8"/><stop offset="0.3800" stop-color="#18ccf8"/><stop offset="0.4000" stop-color="#18ccf8"/><stop offset="0.4200" stop-color="#18ccf8"/><stop offset="0.4400" stop-color="#18ccf8"/><stop offset="0.4600" stop-color="#18ccf8"/><stop offset="0.4800" stop-color="#18ccf8"/><stop offset="0.5000" stop-color="#18ccf8"/><stop offset="0.5200" stop-color="#18ccf8"/><stop offset="0.5400" stop-color="#18ccf8"/><stop offset="0.5600" stop-color="#18ccf8"/><stop offset="0.5800" stop-color="#18ccf8"/><stop offset="0.6000" stop-color="#18ccf8"/><stop offset="0.6200" stop-color="#18ccf8"/><stop offset="0.6400" stop-color="#18ccf8"/><stop offset="0.6600" stop-color="#18ccf8"/><stop offset="0.6800" stop-color="#18ccf8"/><stop offset="0.7000" stop-color="#18ccf8"/><stop offset="0.7200" stop-color="#18ccf8"/><stop offset="0.7400" stop-color="#18ccf8"/><stop offset="0.7600" stop-color="#18ccf8"/><stop offset="0.7800" stop-color="#18ccf8"/><stop offset="0.8000" stop-color="#18ccf8"/><stop offset="0.8200" stop-color="#18ccf8"/><stop offset="0.8400" stop-color="#18ccf8"/><stop offset="0.8600" stop-color="#18ccf8"/><stop offset="0.8800" stop-color="#18ccf8"/><stop offset="0.9000" stop-color="#18ccf8"/><stop offset="0.9200" stop-color="#18ccf8"/><stop offset="0.9400" stop-color="#18ccf8"/><stop offset="0.9600" stop-color="#18ccf8"/><stop offset="0.9800" stop-color="#18ccf8"/><stop offset="1.0000" stop-color="#18ccf8"/></linearGradient>
<linearGradient id="w37" gradientUnits="userSpaceOnUse" x1="30" y1="0" x2="630.00" y2="0"><stop offset="0.0000" stop-color="#f8b8b8"/><stop offset="0.0200" stop-color="#f8b8b8"/><stop offset="0.0400" stop-color="#f8b8b8"/><stop offset="0.0600" stop-color="#f8b8b8"/><stop offset="0.0800" stop-color="#f8b8b8"/><stop offset="0.1000" stop-color="#f8b8b8"/><stop offset="0.1200" stop-color="#f8b8b8"/><stop offset="0.1400" stop-color="#f8b8b8"/><stop offset="0.1600" stop-color="#f8b8b8"/><stop offset="0.1800" stop-color="#f8b8b8"/><stop offset="0.2000" stop-color="#f8b8b8"/><stop offset="0.2200" stop-color="#f8b8b8"/><stop offset="0.2400" stop-color="#f8b8b8"/><stop offset="0.2600" stop-color="#f8b8b8"/><stop offset="0.2800" stop-color="#f8b8b8"/><stop offset="0.3000" stop-color="#f8b8b8"/><stop offset="0.3200" stop-color="#f8b8b8"/><stop offset="0.3400" stop-color="#f8b8b8"/><stop offset="0.3600" stop-color="#f8b8b8"/><stop offset="0.3800" stop-color="#f8b8b8"/><stop offset="0.4000" stop-color="#f8b8b8"/><stop offset="0.4200" stop-color="#f8b8b8"/><stop offset="0.4400" stop-color="#f8b8b8"/><stop offset="0.4600" stop-color="#f8b8b8"/><stop offset="0.4800" stop-color="#f8b8b8"/><stop offset="0.5000" stop-color="#f8b8b8"/><stop offset="0.5200" stop-color="#f8b8b8"/><stop offset="0.5400" stop-color="#f8b8b8"/><stop offset="0.5600" stop-color="#f8b8b8"/><stop offset="0.5800" stop-color="#f8b8b8"/><stop offset="0.6000" stop-color="#f8b6b6"/><stop offset="0.6200" stop-color="#f8b4b4"/><stop offset="0.6400" stop-color="#f8b3b3"/><stop offset="0.6600" stop-color="#f8b1b1"/><stop offset="0.6800" stop-color="#f8b0b0"/><stop offset="0.7000" stop-color="#f8aeae"/><stop offset="0.7200" stop-color="#f8acac"/><stop offset="0.7400" stop-color="#f8abab"/><stop offset="0.7600" stop-color="#f8aaaa"/><stop offset="0.7800" stop-color="#f8a9a9"/><stop offset="0.8000" stop-color="#f8a8a8"/><stop offset="0.8200" stop-color="#f8a8a8"/><stop offset="0.8400" stop-color="#f8a8a8"/><stop offset="0.8600" stop-color="#f8a9a9"/><stop offset="0.8800" stop-color="#f8aaaa"/><stop offset="0.9000" stop-color="#f8abab"/><stop offset="0.9200" stop-color="#f8adad"/><stop offset="0.9400" stop-color="#f8b0b0"/><stop offset="0.9600" stop-color="#f8b2b2"/><stop offset="0.9800" stop-color="#f8b4b4"/><stop offset="1.0000" stop-color="#f8b6b6"/></linearGradient>
<linearGradient id="c37" gradientUnits="userSpaceOnUse" x1="30" y1="0" x2="630.00" y2="0"><stop offset="0.0000" stop-color="#18ccf8"/><stop offset="0.0200" stop-color="#18ccf8"/><stop offset="0.0400" stop-color="#18ccf8"/><stop offset="0.0600" stop-color="#18ccf8"/><stop offset="0.0800" stop-color="#18ccf8"/><stop offset="0.1000" stop-color="#18ccf8"/><stop offset="0.1200" stop-color="#18ccf8"/><stop offset="0.1400" stop-color="#18ccf8"/><stop offset="0.1600" stop-color="#18ccf8"/><stop offset="0.1800" stop-color="#18ccf8"/><stop offset="0.2000" stop-color="#18ccf8"/><stop offset="0.2200" stop-color="#18ccf8"/><stop offset="0.2400" stop-color="#18ccf8"/><stop offset="0.2600" stop-color="#18ccf8"/><stop offset="0.2800" stop-color="#18ccf8"/><stop offset="0.3000" stop-color="#18ccf8"/><stop offset="0.3200" stop-color="#18ccf8"/><stop offset="0.3400" stop-color="#18ccf8"/><stop offset="0.3600" stop-color="#18ccf8"/><stop offset="0.3800" stop-color="#18ccf8"/><stop offset="0.4000" stop-color="#18ccf8"/><stop offset="0.4200" stop-color="#18ccf8"/><stop offset="0.4400" stop-color="#18ccf8"/><stop offset="0.4600" stop-color="#18ccf8"/><stop offset="0.4800" stop-color="#18ccf8"/><stop offset="0.5000" stop-color="#18ccf8"/><stop offset="0.5200" stop-color="#18ccf8"/><stop offset="0.5400" stop-color="#18ccf8"/><stop offset="0.5600" stop-color="#18ccf8"/><stop offset="0.5800" stop-color="#18ccf8"/><stop offset="0.6000" stop-color="#18ccf8"/><stop offset="0.6200" stop-color="#18ccf8"/><stop offset="0.6400" stop-color="#18ccf8"/><stop offset="0.6600" stop-color="#18ccf8"/><stop offset="0.6800" stop-color="#18ccf8"/><stop offset="0.7000" stop-color="#18ccf8"/><stop offset="0.7200" stop-color="#18ccf8"/><stop offset="0.7400" stop-color="#18ccf8"/><stop offset="0.7600" stop-color="#18ccf8"/><stop offset="0.7800" stop-color="#18ccf8"/><stop offset="0.8000" stop-color="#18ccf8"/><stop offset="0.8200" stop-color="#18ccf8"/><stop offset="0.8400" stop-color="#18ccf8"/><stop offset="0.8600" stop-color="#18ccf8"/><stop offset="0.8800" stop-color="#18ccf8"/><stop offset="0.9000" stop-color="#18ccf8"/><stop offset="0.9200" stop-color="#18ccf8"/><stop offset="0.9400" stop-color="#18ccf8"/><stop offset="0.9600" stop-color="#18ccf8"/><stop offset="0.9800" stop-color="#18ccf8"/><stop offset="1.0000" stop-color="#18ccf8"/></linearGradient>
<linearGradient id="w38" gradientUnits="userSpaceOnUse" x1="30" y1="0" x2="630.00" y2="0"><stop offset="0.0000" stop-color="#f8b8b8"/><stop offset="0.0200" stop-color="#f8b8b8"/><stop offset="0.0400" stop-color="#f8b8b8"/><stop offset="0.0600" stop-color="#f8b8b8"/><stop offset="0.0800" stop-color="#f8b8b8"/><stop offset="0.1000" stop-color="#f8b8b8"/><stop offset="0.1200" stop-color="#f8b8b8"/><stop offset="0.1400" stop-color="#f8b8b8"/><stop offset="0.1600" stop-color="#f8b8b8"/><stop offset="0.1800" stop-color="#f8b8b8"/><stop offset="0.2000" stop-color="#f8b8b8"/><stop offset="0.2200" stop-color="#f8b8b8"/><stop offset="0.2400" stop-color="#f8b8b8"/><stop offset="0.2600" stop-color="#f8b8b8"/><stop offset="0.2800" stop-color="#f8b8b8"/><stop offset="0.3000" stop-color="#f8b8b8"/><stop offset="0.3200" stop-color="#f8b8b8"/><stop offset="0.3400" stop-color="#f8b8b8"/><stop offset="0.3600" stop-color="#f8b8b8"/><stop offset="0.3800" stop-color="#f8b8b8"/><stop offset="0.4000" stop-color="#f8b8b8"/><stop offset="0.4200" stop-color="#f8b8b8"/><stop offset="0.4400" stop-color="#f8b8b8"/><stop offset="0.4600" stop-color="#f8b8b8"/><stop offset="0.4800" stop-color="#f8b8b8"/><stop offset="0.5000" stop-color="#f8b8b8"/><stop offset="0.5200" stop-color="#f8b8b8"/><stop offset="0.5400" stop-color="#f8b8b8"/><stop offset="0.5600" stop-color="#f8b8b8"/><stop offset="0.5800" stop-color="#f8b8b8"/><stop offset="0.6000" stop-color="#f8b8b8"/><stop offset="0.6200" stop-color="#f8b8b8"/><stop offset="0.6400" stop-color="#f8b8b8"/><stop offset="0.6600" stop-color="#f8b8b8"/><stop offset="0.6800" stop-color="#f8b7b7"/><stop offset="0.7000" stop-color="#f8b6b6"/><stop offset="0.7200" stop-color="#f8b5b5"/><stop offset="0.7400" stop-color="#f8b4b4"/><stop offset="0.7600" stop-color="#f8b3b3"/><stop offset="0.7800" stop-color="#f8b3b3"/><stop offset="0.8000" stop-color="#f8b2b2"/><stop offset="0.8200" stop-color="#f8b2b2"/><stop offset="0.8400" stop-color="#f8b2b2"/><stop offset="0.8600" stop-color="#f8b3b3"/><stop offset="0.8800" stop-color="#f8b4b4"/><stop offset="0.9000" stop-color="#f8b5b5"/><stop offset="0.9200" stop-color="#f8b6b6"/><stop offset="0.9400" stop-color="#f8b8b8"/><stop offset="0.9600" stop-color="#f8b8b8"/><stop offset="0.9800" stop-color="#f8b8b8"/><stop offset="1.0000" stop-color="#f8b8b8"/></linearGradient>
<linearGradient id="c38" gradientUnits="userSpaceOnUse" x1="30" y1="0" x2="630.00" y2="0"><stop offset="0.0000" stop-color="#18ccf8"/><stop offset="0.0200" stop-color="#18ccf8"/><stop offset="0.0400" stop-color="#18ccf8"/><stop offset="0.0600" stop-color="#18ccf8"/><stop offset="0.0800" stop-color="#18ccf8"/><stop offset="0.1000" stop-color="#18ccf8"/><stop offset="0.1200" stop-color="#18ccf8"/><stop offset="0.1400" stop-color="#18ccf8"/><stop offset="0.1600" stop-color="#18ccf8"/><stop offset="0.1800" stop-color="#18ccf8"/><stop offset="0.2000" stop-color="#18ccf8"/><stop offset="0.2200" stop-color="#18ccf8"/><stop offset="0.2400" stop-color="#18ccf8"/><stop offset="0.2600" stop-color="#18ccf8"/><stop offset="0.2800" stop-color="#18ccf8"/><stop offset="0.3000" stop-color="#18ccf8"/><stop offset="0.3200" stop-color="#18ccf8"/><stop offset="0.3400" stop-color="#18ccf8"/><stop offset="0.3600" stop-color="#18ccf8"/><stop offset="0.3800" stop-color="#18ccf8"/><stop offset="0.4000" stop-color="#18ccf8"/><stop offset="0.4200" stop-color="#18ccf8"/><stop offset="0.4400" stop-color="#18ccf8"/><stop offset="0.4600" stop-color="#18ccf8"/><stop offset="0.4800" stop-color="#18ccf8"/><stop offset="0.5000" stop-color="#18ccf8"/><stop offset="0.5200" stop-color="#18ccf8"/><stop offset="0.5400" stop-color="#18ccf8"/><stop offset="0.5600" stop-color="#18ccf8"/><stop offset="0.5800" stop-color="#18ccf8"/><stop offset="0.6000" stop-color="#18ccf8"/><stop offset="0.6200" stop-color="#18ccf8"/><stop offset="0.6400" stop-color="#18ccf8"/><stop offset="0.6600" stop-color="#18ccf8"/><stop offset="0.6800" stop-color="#18ccf8"/><stop offset="0.7000" stop-color="#18ccf8"/><stop offset="0.7200" stop-color="#18ccf8"/><stop offset="0.7400" stop-color="#18ccf8"/><stop offset="0.7600" stop-color="#18ccf8"/><stop offset="0.7800" stop-color="#18ccf8"/><stop offset="0.8000" stop-color="#18ccf8"/><stop offset="0.8200" stop-color="#18ccf8"/><stop offset="0.8400" stop-color="#18ccf8"/><stop offset="0.8600" stop-color="#18ccf8"/><stop offset="0.8800" stop-color="#18ccf8"/><stop offset="0.9000" stop-color="#18ccf8"/><stop offset="0.9200" stop-color="#18ccf8"/><stop offset="0.9400" stop-color="#18ccf8"/><stop offset="0.9600" stop-color="#18ccf8"/><stop offset="0.9800" stop-color="#18ccf8"/><stop offset="1.0000" stop-color="#18ccf8"/></linearGradient>
<linearGradient id="w39" gradientUnits="userSpaceOnUse" x1="30" y1="0" x2="630.00" y2="0"><stop offset="0.0000" stop-color="#f8b8b8"/><stop offset="0.0200" stop-color="#f8b8b8"/><stop offset="0.0400" stop-color="#f8b8b8"/><stop offset="0.0600" stop-color="#f8b8b8"/><stop offset="0.0800" stop-color="#f8b8b8"/><stop offset="0.1000" stop-color="#f8b8b8"/><stop offset="0.1200" stop-color="#f8b8b8"/><stop offset="0.1400" stop-color="#f8b8b8"/><stop offset="0.1600" stop-color="#f8b8b8"/><stop offset="0.1800" stop-color="#f8b8b8"/><stop offset="0.2000" stop-color="#f8b8b8"/><stop offset="0.2200" stop-color="#f8b8b8"/><stop offset="0.2400" stop-color="#f8b8b8"/><stop offset="0.2600" stop-color="#f8b8b8"/><stop offset="0.2800" stop-color="#f8b8b8"/><stop offset="0.3000" stop-color="#f8b8b8"/><stop offset="0.3200" stop-color="#f8b8b8"/><stop offset="0.3400" stop-color="#f8b8b8"/><stop offset="0.3600" stop-color="#f8b8b8"/><stop offset="0.3800" stop-color="#f8b8b8"/><stop offset="0.4000" stop-color="#f8b8b8"/><stop offset="0.4200" stop-color="#f8b8b8"/><stop offset="0.4400" stop-color="#f8b8b8"/><stop offset="0.4600" stop-color="#f8b8b8"/><stop offset="0.4800" stop-color="#f8b8b8"/><stop offset="0.5000" stop-color="#f8b8b8"/><stop offset="0.5200" stop-color="#f8b8b8"/><stop offset="0.5400" stop-color="#f8b8b8"/><stop offset="0.5600" stop-color="#f8b8b8"/><stop offset="0.5800" stop-color="#f8b8b8"/><stop offset="0.6000" stop-color="#f8b8b8"/><stop offset="0.6200" stop-color="#f8b8b8"/><stop offset="0.6400" stop-color="#f8b8b8"/><stop offset="0.6600" stop-color="#f8b8b8"/><stop offset="0.6800" stop-color="#f8b8b8"/><stop offset="0.7000" stop-color="#f8b8b8"/><stop offset="0.7200" stop-color="#f8b8b8"/><stop offset="0.7400" stop-color="#f8b8b8"/><stop offset="0.7600" stop-color="#f8b8b8"/><stop offset="0.7800" stop-color="#f8b8b8"/><stop offset="0.8000" stop-color="#f8b8b8"/><stop offset="0.8200" stop-color="#f8b8b8"/><stop offset="0.8400" stop-color="#f8b8b8"/><stop offset="0.8600" stop-color="#f8b8b8"/><stop offset="0.8800" stop-color="#f8b8b8"/><stop offset="0.9000" stop-color="#f8b8b8"/><stop offset="0.9200" stop-color="#f8b8b8"/><stop offset="0.9400" stop-color="#f8b8b8"/><stop offset="0.9600" stop-color="#f8b8b8"/><stop offset="0.9800" stop-color="#f8b8b8"/><stop offset="1.0000" stop-color="#f8b8b8"/></linearGradient>
<linearGradient id="c39" gradientUnits="userSpaceOnUse" x1="30" y1="0" x2="630.00" y2="0"><stop offset="0.0000" stop-color="#18ccf8"/><stop offset="0.0200" stop-color="#18ccf8"/><stop offset="0.0400" stop-color="#18ccf8"/><stop offset="0.0600" stop-color="#18ccf8"/><stop offset="0.0800" stop-color="#18ccf8"/><stop offset="0.1000" stop-color="#18ccf8"/><stop offset="0.1200" stop-color="#18ccf8"/><stop offset="0.1400" stop-color="#18ccf8"/><stop offset="0.1600" stop-color="#18ccf8"/><stop offset="0.1800" stop-color="#18ccf8"/><stop offset="0.2000" stop-color="#18ccf8"/><stop offset="0.2200" stop-color="#18ccf8"/><stop offset="0.2400" stop-color="#18ccf8"/><stop offset="0.2600" stop-color="#18ccf8"/><stop offset="0.2800" stop-color="#18ccf8"/><stop offset="0.3000" stop-color="#18ccf8"/><stop offset="0.3200" stop-color="#18ccf8"/><stop offset="0.3400" stop-color="#18ccf8"/><stop offset="0.3600" stop-color="#18ccf8"/><stop offset="0.3800" stop-color="#18ccf8"/><stop offset="0.4000" stop-color="#18ccf8"/><stop offset="0.4200" stop-color="#18ccf8"/><stop offset="0.4400" stop-color="#18ccf8"/><stop offset="0.4600" stop-color="#18ccf8"/><stop offset="0.4800" stop-color="#18ccf8"/><stop offset="0.5000" stop-color="#18ccf8"/><stop offset="0.5200" stop-color="#18ccf8"/><stop offset="0.5400" stop-color="#18ccf8"/><stop offset="0.5600" stop-color="#18ccf8"/><stop offset="0.5800" stop-color="#18ccf8"/><stop offset="0.6000" stop-color="#18ccf8"/><stop offset="0.6200" stop-color="#18ccf8"/><stop offset="0.6400" stop-color="#18ccf8"/><stop offset="0.6600" stop-color="#18ccf8"/><stop offset="0.6800" stop-color="#18ccf8"/><stop offset="0.7000" stop-color="#18ccf8"/><stop offset="0.7200" stop-color="#18ccf8"/><stop offset="0.7400" stop-color="#18ccf8"/><stop offset="0.7600" stop-color="#18ccf8"/><stop offset="0.7800" stop-color="#18ccf8"/><stop offset="0.8000" stop-color="#18ccf8"/><stop offset="0.8200" stop-color="#18ccf8"/><stop offset="0.8400" stop-color="#18ccf8"/><stop offset="0.8600" stop-color="#18ccf8"/><stop offset="0.8800" stop-color="#18ccf8"/><stop offset="0.9000" stop-color="#18ccf8"/><stop offset="0.9200" stop-color="#18ccf8"/><stop offset="0.9400" stop-color="#18ccf8"/><stop offset="0.9600" stop-color="#18ccf8"/><stop offset="0.9800" stop-color="#18ccf8"/><stop offset="1.0000" stop-color="#18ccf8"/></linearGradient>
</defs>
<g clip-path="url(#cw)" shape-rendering="crispEdges"><rect x="30" y="561" width="594.0" height="16" fill="url(#w10)"/><rect x="30" y="545" width="594.0" height="16" fill="url(#w11)"/><rect x="30" y="529" width="594.0" height="16" fill="url(#w12)"/><rect x="30" y="513" width="594.0" height="16" fill="url(#w13)"/><rect x="30" y="497" width="594.0" height="16" fill="url(#w14)"/><rect x="30" y="481" width="594.0" height="16" fill="url(#w15)"/><rect x="30" y="465" width="594.0" height="16" fill="url(#w16)"/><rect x="30" y="449" width="594.0" height="16" fill="url(#w17)"/><rect x="30" y="433" width="594.0" height="16" fill="url(#w18)"/><rect x="30" y="417" width="594.0" height="16" fill="url(#w19)"/><rect x="30" y="401" width="594.0" height="16" fill="url(#w20)"/><rect x="30" y="385" width="594.0" height="16" fill="url(#w21)"/><rect x="30" y="369" width="594.0" height="16" fill="url(#w22)"/><rect x="30" y="353" width="594.0" height="16" fill="url(#w23)"/><rect x="30" y="337" width="594.0" height="16" fill="url(#w24)"/><rect x="30" y="321" width="594.0" height="16" fill="url(#w25)"/><rect x="30" y="305" width="594.0" height="16" fill="url(#w26)"/><rect x="30" y="289" width="594.0" height="16" fill="url(#w27)"/><rect x="30" y="273" width="594.0" height="16" fill="url(#w28)"/><rect x="30" y="257" width="594.0" height="16" fill="url(#w29)"/><rect x="30" y="241" width="594.0" height="16" fill="url(#w30)"/><rect x="30" y="225" width="594.0" height="16" fill="url(#w31)"/><rect x="30" y="209" width="594.0" height="16" fill="url(#w32)"/><rect x="30" y="193" width="594.0" height="16" fill="url(#w33)"/><rect x="30" y="177" width="594.0" height="16" fill="url(#w34)"/><rect x="30" y="161" width="594.0" height="16" fill="url(#w35)"/><rect x="30" y="145" width="594.0" height="16" fill="url(#w36)"/><rect x="30" y="129" width="594.0" height="16" fill="url(#w37)"/><rect x="30" y="113" width="594.0" height="16" fill="url(#w38)"/><rect x="30" y="97" width="594.0" height="16" fill="url(#w39)"/></g>
<g clip-path="url(#cc)" shape-rendering="crispEdges"><rect x="30" y="561" width="594.0" height="16" fill="url(#c10)"/><rect x="30" y="545" width="594.0" height="16" fill="url(#c11)"/><rect x="30" y="529" width="594.0" height="16" fill="url(#c12)"/><rect x="30" y="513" width="594.0" height="16" fill="url(#c13)"/><rect x="30" y="497" width="594.0" height="16" fill="url(#c14)"/><rect x="30" y="481" width="594.0" height="16" fill="url(#c15)"/><rect x="30" y="465" width="594.0" height="16" fill="url(#c16)"/><rect x="30" y="449" width="594.0" height="16" fill="url(#c17)"/><rect x="30" y="433" width="594.0" height="16" fill="url(#c18)"/><rect x="30" y="417" width="594.0" height="16" fill="url(#c19)"/><rect x="30" y="401" width="594.0" height="16" fill="url(#c20)"/><rect x="30" y="385" width="594.0" height="16" fill="url(#c21)"/><rect x="30" y="369" width="594.0" height="16" fill="url(#c22)"/><rect x="30" y="353" width="594.0" height="16" fill="url(#c23)"/><rect x="30" y="337" width="594.0" height="16" fill="url(#c24)"/><rect x="30" y="321" width="594.0" height="16" fill="url(#c25)"/><rect x="30" y="305" width="594.0" height="16" fill="url(#c26)"/><rect x="30" y="289" width="594.0" height="16" fill="url(#c27)"/><rect x="30" y="273" width="594.0" height="16" fill="url(#c28)"/><rect x="30" y="257" width="594.0" height="16" fill="url(#c29)"/><rect x="30" y="241" width="594.0" height="16" fill="url(#c30)"/><rect x="30" y="225" width="594.0" height="16" fill="url(#c31)"/><rect x="30" y="209" width="594.0" height="16" fill="url(#c32)"/><rect x="30" y="193" width="594.0" height="16" fill="url(#c33)"/><rect x="30" y="177" width="594.0" height="16" fill="url(#c34)"/><rect x="30" y="161" width="594.0" height="16" fill="url(#c35)"/><rect x="30" y="145" width="594.0" height="16" fill="url(#c36)"/><rect x="30" y="129" width="594.0" height="16" fill="url(#c37)"/><rect x="30" y="113" width="594.0" height="16" fill="url(#c38)"/><rect x="30" y="97" width="594.0" height="16" fill="url(#c39)"/></g>
<g shape-rendering="crispEdges" fill="#000">
<rect x="30" y="81" width="685" height="1"/>
<rect x="30" y="97" width="685" height="1"/>
<rect x="30" y="113" width="685" height="1"/>
<rect x="30" y="129" width="685" height="1"/>
<rect x="30" y="145" width="685" height="1"/>
<rect x="30" y="161" width="685" height="1"/>
<rect x="30" y="177" width="685" height="1"/>
<rect x="30" y="193" width="685" height="1"/>
<rect x="30" y="209" width="685" height="1"/>
<rect x="30" y="225" width="685" height="1"/>
<rect x="30" y="241" width="685" height="1"/>
<rect x="30" y="257" width="685" height="1"/>
<rect x="30" y="273" width="685" height="1"/>
<rect x="30" y="289" width="685" height="1"/>
<rect x="30" y="305" width="685" height="1"/>
<rect x="30" y="321" width="685" height="1"/>
<rect x="30" y="337" width="685" height="1"/>
<rect x="30" y="353" width="685" height="1"/>
<rect x="30" y="369" width="685" height="1"/>
<rect x="30" y="385" width="685" height="1"/>
<rect x="30" y="401" width="685" height="1"/>
<rect x="30" y="417" width="685" height="1"/>
<rect x="30" y="433" width="685" height="1"/>
<rect x="30" y="449" width="685" height="1"/>
<rect x="30" y="465" width="685" height="1"/>
<rect x="30" y="481" width="685" height="1"/>
<rect x="30" y="497" width="685" height="1"/>
<rect x="30" y="513" width="685" height="1"/>
<rect x="30" y="529" width="685" height="1"/>
<rect x="30" y="545" width="685" height="1"/>
<rect x="30" y="561" width="685" height="1"/>
<rect x="30" y="577" width="685" height="1"/>
</g>
<defs><path id="dd" d="M30,0h2M40,0h2M44,0h2M49,0h2M58,0h2M63,0h2M68,0h2M77,0h2M82,0h2M87,0h2M96,0h2M101,0h2M106,0h2M115,0h2M120,0h2M124,0h2M134,0h2M139,0h2M143,0h2M153,0h2M158,0h2M162,0h2M172,0h2M176,0h2M181,0h2M191,0h2M195,0h2M200,0h2M209,0h2M214,0h2M219,0h2M228,0h2M233,0h2M238,0h2M247,0h2M252,0h2M257,0h2M266,0h2M271,0h2M275,0h2M285,0h2M290,0h2M294,0h2M304,0h2M308,0h2M313,0h2M323,0h2M327,0h2M332,0h2M342,0h2M346,0h2M351,0h2M360,0h2M365,0h2M370,0h2M379,0h2M384,0h2M389,0h2M398,0h2M403,0h2M408,0h2M417,0h2M422,0h2M426,0h2M436,0h2M441,0h2M445,0h2M455,0h2M459,0h2M464,0h2M474,0h2M478,0h2M483,0h2M492,0h2M497,0h2M502,0h2M511,0h2M516,0h2M521,0h2M530,0h2M535,0h2M540,0h2M549,0h2M554,0h2M559,0h2M568,0h2M573,0h2M577,0h2M587,0h2M592,0h2M596,0h2M606,0h2M610,0h2M615,0h2M625,0h2M629,0h2M634,0h2M643,0h2M648,0h2M653,0h2M662,0h2M667,0h2M672,0h2M681,0h2M686,0h2M691,0h2M700,0h2M705,0h2M710,0h2"/><path id="dl" d="M35,0h1M54,0h1M73,0h1M92,0h1M111,0h1M130,0h1M149,0h1M167,0h1M186,0h1M205,0h1M224,0h1M243,0h1M262,0h1M281,0h1M300,0h1M318,0h1M337,0h1M356,0h1M375,0h1M394,0h1M413,0h1M432,0h1M451,0h1M469,0h1M488,0h1M507,0h1M526,0h1M545,0h1M564,0h1M583,0h1M602,0h1M620,0h1M639,0h1M658,0h1M677,0h1M696,0h1M715,0h1"/></defs>
<g stroke="#000" stroke-width="1" shape-rendering="crispEdges"><use href="#dd" y="89.5"/><use href="#dd" y="105.5"/><use href="#dd" y="121.5"/><use href="#dd" y="137.5"/><use href="#dd" y="153.5"/><use href="#dd" y="169.5"/><use href="#dd" y="185.5"/><use href="#dd" y="201.5"/><use href="#dd" y="217.5"/><use href="#dd" y="233.5"/><use href="#dd" y="249.5"/><use href="#dd" y="265.5"/><use href="#dd" y="281.5"/><use href="#dd" y="297.5"/><use href="#dd" y="313.5"/><use href="#dd" y="329.5"/><use href="#dd" y="345.5"/><use href="#dd" y="361.5"/><use href="#dd" y="377.5"/><use href="#dd" y="393.5"/><use href="#dd" y="409.5"/><use href="#dd" y="425.5"/><use href="#dd" y="441.5"/><use href="#dd" y="457.5"/><use href="#dd" y="473.5"/><use href="#dd" y="489.5"/><use href="#dd" y="505.5"/><use href="#dd" y="521.5"/><use href="#dd" y="537.5"/><use href="#dd" y="553.5"/><use href="#dd" y="569.5"/></g>
<g stroke="#888" stroke-width="1" shape-rendering="crispEdges"><use href="#dl" y="89.5"/><use href="#dl" y="105.5"/><use href="#dl" y="121.5"/><use href="#dl" y="137.5"/><use href="#dl" y="153.5"/><use href="#dl" y="169.5"/><use href="#dl" y="185.5"/><use href="#dl" y="201.5"/><use href="#dl" y="217.5"/><use href="#dl" y="233.5"/><use href="#dl" y="249.5"/><use href="#dl" y="265.5"/><use href="#dl" y="281.5"/><use href="#dl" y="297.5"/><use href="#dl" y="313.5"/><use href="#dl" y="329.5"/><use href="#dl" y="345.5"/><use href="#dl" y="361.5"/><use href="#dl" y="377.5"/><use href="#dl" y="393.5"/><use href="#dl" y="409.5"/><use href="#dl" y="425.5"/><use href="#dl" y="441.5"/><use href="#dl" y="457.5"/><use href="#dl" y="473.5"/><use href="#dl" y="489.5"/><use href="#dl" y="505.5"/><use href="#dl" y="521.5"/><use href="#dl" y="537.5"/><use href="#dl" y="553.5"/><use href="#dl" y="569.5"/></g>
<g shape-rendering="crispEdges" fill="#000">
<rect x="44" y="81" width="1" height="505"/>
<rect x="66" y="81" width="1" height="505"/>
<rect x="88" y="81" width="1" height="505"/>
<rect x="110" y="81" width="1" height="505"/>
<rect x="132" y="81" width="1" height="505"/>
<rect x="154" y="81" width="1" height="505"/>
<rect x="176" y="81" width="1" height="505"/>
<rect x="198" y="81" width="1" height="505"/>
<rect x="220" y="81" width="1" height="505"/>
<rect x="242" y="81" width="1" height="505"/>
<rect x="264" y="81" width="1" height="505"/>
<rect x="286" y="81" width="1" height="505"/>
<rect x="308" y="81" width="1" height="505"/>
<rect x="329" y="81" width="1" height="505"/>
<rect x="351" y="81" width="1" height="505"/>
<rect x="373" y="81" width="1" height="505"/>
<rect x="395" y="81" width="1" height="505"/>
<rect x="417" y="81" width="1" height="505"/>
<rect x="439" y="81" width="1" height="505"/>
<rect x="461" y="81" width="1" height="505"/>
<rect x="483" y="81" width="1" height="505"/>
<rect x="505" y="81" width="1" height="505"/>
<rect x="527" y="81" width="1" height="505"/>
<rect x="549" y="81" width="1" height="505"/>
<rect x="571" y="81" width="1" height="505"/>
<rect x="593" y="81" width="1" height="505"/>
<rect x="615" y="81" width="1" height="505"/>
<rect x="30" y="81" width="1" height="506"/><rect x="30" y="81" width="685" height="1"/><rect x="30" y="585" width="685" height="2"/>
<rect x="31" y="178" width="5" height="1"/>
<rect x="31" y="185" width="3" height="2"/>
<rect x="31" y="194" width="5" height="1"/>
<rect x="31" y="201" width="3" height="2"/>
<rect x="31" y="210" width="5" height="1"/>
<rect x="31" y="217" width="3" height="2"/>
<rect x="31" y="226" width="5" height="1"/>
<rect x="31" y="233" width="3" height="2"/>
<rect x="31" y="242" width="5" height="1"/>
<rect x="31" y="249" width="3" height="2"/>
<rect x="31" y="258" width="5" height="1"/>
<rect x="31" y="265" width="3" height="2"/>
<rect x="31" y="274" width="5" height="1"/>
<rect x="31" y="281" width="3" height="2"/>
<rect x="31" y="290" width="5" height="1"/>
<rect x="31" y="297" width="3" height="2"/>
<rect x="31" y="306" width="5" height="1"/>
<rect x="31" y="313" width="3" height="2"/>
<rect x="31" y="322" width="5" height="1"/>
<rect x="31" y="329" width="3" height="2"/>
<rect x="31" y="338" width="5" height="1"/>
<rect x="31" y="345" width="3" height="2"/>
<rect x="31" y="354" width="5" height="1"/>
<rect x="31" y="361" width="3" height="2"/>
<rect x="31" y="370" width="5" height="1"/>
<rect x="31" y="377" width="3" height="2"/>
<rect x="31" y="386" width="5" height="1"/>
<rect x="31" y="393" width="3" height="2"/>
<rect x="31" y="402" width="5" height="1"/>
<rect x="31" y="409" width="3" height="2"/>
<rect x="31" y="418" width="5" height="1"/>
<rect x="31" y="425" width="3" height="2"/>
<rect x="31" y="434" width="5" height="1"/>
<rect x="31" y="441" width="3" height="2"/>
<rect x="31" y="450" width="5" height="1"/>
<rect x="31" y="457" width="3" height="2"/>
<rect x="31" y="466" width="5" height="1"/>
<rect x="31" y="473" width="3" height="2"/>
<rect x="31" y="482" width="5" height="1"/>
<rect x="31" y="489" width="3" height="2"/>
<rect x="31" y="498" width="5" height="1"/>
<rect x="31" y="505" width="3" height="2"/>
<rect x="31" y="514" width="5" height="1"/>
<rect x="31" y="521" width="3" height="2"/>
<rect x="31" y="530" width="5" height="1"/>
<rect x="31" y="537" width="3" height="2"/>
<rect x="31" y="546" width="5" height="1"/>
<rect x="31" y="553" width="3" height="2"/>
<rect x="31" y="562" width="5" height="1"/>
<rect x="31" y="569" width="3" height="2"/>
<rect x="31" y="578" width="5" height="1"/>
</g>
<defs><path id="vd" d="M0,82v2M0,91v2M0,96v2M0,101v2M0,110v2M0,115v2M0,120v2M0,129v2M0,134v2M0,139v2M0,148v2M0,153v2M0,158v2M0,167v2M0,172v2M0,176v2M0,186v2M0,191v2M0,195v2M0,205v2M0,209v2M0,214v2M0,224v2M0,228v2M0,233v2M0,242v2M0,247v2M0,252v2M0,261v2M0,266v2M0,271v2M0,280v2M0,285v2M0,290v2M0,299v2M0,304v2M0,309v2M0,318v2M0,323v2M0,327v2M0,337v2M0,342v2M0,346v2M0,356v2M0,360v2M0,365v2M0,375v2M0,379v2M0,384v2M0,394v2M0,398v2M0,403v2M0,412v2M0,417v2M0,422v2M0,431v2M0,436v2M0,441v2M0,450v2M0,455v2M0,460v2M0,469v2M0,474v2M0,478v2M0,488v2M0,493v2M0,497v2M0,507v2M0,512v2M0,516v2M0,526v2M0,530v2M0,535v2M0,545v2M0,549v2M0,554v2M0,563v2M0,568v2M0,573v2M0,582v2"/><path id="vl" d="M0,87v1M0,106v1M0,125v1M0,144v1M0,163v1M0,182v1M0,200v1M0,219v1M0,238v1M0,257v1M0,276v1M0,295v1M0,314v1M0,333v1M0,352v1M0,370v1M0,389v1M0,408v1M0,427v1M0,446v1M0,465v1M0,484v1M0,503v1M0,521v1M0,540v1M0,559v1M0,578v1"/></defs><g stroke="#000" stroke-width="1" shape-rendering="crispEdges"><use href="#vd" x="637.5"/><use href="#vd" x="659.5"/><use href="#vd" x="681.5"/><use href="#vd" x="703.5"/></g><g stroke="#888" stroke-width="1" shape-rendering="crispEdges"><use href="#vl" x="637.5"/><use href="#vl" x="659.5"/><use href="#vl" x="681.5"/><use href="#vl" x="703.5"/></g>
<g clip-path="url(#cp)"><path d="M30.0,442.37 L33.0,441.04 L36.0,439.71 L39.0,438.36 L42.0,437.01 L45.0,435.66 L48.0,434.31 L51.0,432.95 L54.0,431.59 L57.0,430.24 L60.0,428.89 L63.0,427.54 L66.0,426.20 L69.0,424.86 L72.0,423.53 L75.0,422.20 L78.0,420.89 L81.0,419.58 L84.0,418.28 L87.0,416.99 L90.0,415.71 L93.0,414.44 L96.0,413.18 L99.0,411.93 L102.0,410.70 L105.0,409.47 L108.0,408.26 L111.0,407.06 L114.0,405.88 L117.0,404.70 L120.0,403.54 L123.0,402.40 L126.0,401.26 L129.0,400.14 L132.0,399.04 L135.0,397.94 L138.0,396.86 L141.0,395.80 L144.0,394.74 L147.0,393.70 L150.0,392.67 L153.0,391.66 L156.0,390.65 L159.0,389.66 L162.0,388.68 L165.0,387.72 L168.0,386.76 L171.0,385.82 L174.0,384.88 L177.0,383.96 L180.0,383.05 L183.0,382.15 L186.0,381.26 L189.0,380.38 L192.0,379.51 L195.0,378.65 L198.0,377.80 L201.0,376.95 L204.0,376.12 L207.0,375.29 L210.0,374.47 L213.0,373.65 L216.0,372.85 L219.0,372.05 L222.0,371.25 L225.0,370.47 L228.0,369.68 L231.0,368.91 L234.0,368.13 L237.0,367.37 L240.0,366.60 L243.0,365.85 L246.0,365.09 L249.0,364.34 L252.0,363.59 L255.0,362.84 L258.0,362.10 L261.0,361.36 L264.0,360.62 L267.0,359.88 L270.0,359.15 L273.0,358.42 L276.0,357.68 L279.0,356.95 L282.0,356.22 L285.0,355.49 L288.0,354.76 L291.0,354.03 L294.0,353.31 L297.0,352.58 L300.0,351.85 L303.0,351.12 L306.0,350.39 L309.0,349.67 L312.0,348.94 L315.0,348.21 L318.0,347.48 L321.0,346.75 L324.0,346.02 L327.0,345.29 L330.0,344.56 L333.0,343.84 L336.0,343.11 L339.0,342.38 L342.0,341.65 L345.0,340.92 L348.0,340.19 L351.0,339.47 L354.0,338.74 L357.0,338.02 L360.0,337.29 L363.0,336.57 L366.0,335.85 L369.0,335.13 L372.0,334.42 L375.0,333.71 L378.0,333.00 L381.0,332.29 L384.0,331.59 L387.0,330.89 L390.0,330.19 L393.0,329.50 L396.0,328.82 L399.0,328.14 L402.0,327.47 L405.0,326.80 L408.0,326.14 L411.0,325.49 L414.0,324.84 L417.0,324.20 L420.0,323.57 L423.0,322.95 L426.0,322.34 L429.0,321.74 L432.0,321.16 L435.0,320.58 L438.0,320.01 L441.0,319.46 L444.0,318.92 L447.0,318.39 L450.0,317.87 L453.0,317.38 L456.0,316.89 L459.0,316.42 L462.0,315.97 L465.0,315.54 L468.0,315.12 L471.0,314.72 L474.0,314.34 L477.0,313.97 L480.0,313.63 L483.0,313.31 L486.0,313.01 L489.0,312.73 L492.0,312.47 L495.0,312.23 L498.0,312.02 L501.0,311.83 L504.0,311.67 L507.0,311.53 L510.0,311.42 L513.0,311.33 L516.0,311.26 L519.0,311.23 L522.0,311.22 L525.0,311.24 L528.0,311.29 L531.0,311.36 L534.0,311.47 L537.0,311.60 L540.0,311.77 L543.0,311.96 L546.0,312.18 L549.0,312.44 L552.0,312.72 L555.0,313.04 L558.0,313.39 L561.0,313.77 L564.0,314.18 L567.0,314.62 L570.0,315.10 L573.0,315.60 L576.0,316.14 L579.0,316.71 L582.0,317.31 L585.0,317.95 L588.0,318.61 L591.0,319.31 L594.0,320.04 L597.0,320.79 L600.0,321.58 L603.0,322.40 L606.0,323.25 L609.0,324.13 L612.0,325.04 L615.0,325.97 L618.0,326.94 L621.0,327.93 L624.0,328.94 L627.0,329.99 L630.0,331.05 L633.0,332.14 L636.0,333.25 L639.0,334.39 L642.0,335.54 L645.0,336.71 L648.0,337.90 L651.0,339.11 L654.0,340.33 L657.0,341.57 L660.0,342.82 L663.0,344.08 L666.0,345.34 L669.0,346.62 L672.0,347.90 L675.0,349.18 L678.0,350.46 L681.0,351.74 L684.0,353.02 L687.0,354.29 L690.0,355.55 L693.0,356.80 L696.0,358.03 L699.0,359.25 L702.0,360.45 L705.0,361.63 L708.0,362.78 L711.0,363.90 L714.0,364.99" fill="none" stroke="#000" stroke-width="3"/>
<path d="M28.04,452.20 L33.53,455.40 L39.02,501.80 L44.51,441.00 L50.00,410.60 L55.49,373.80 L60.98,377.80 L66.47,333.80 L71.96,412.20 L77.45,442.60 L82.94,460.20 L88.43,495.40 L93.92,450.60 L99.41,407.40 L104.90,449.00 L110.39,492.20 L115.88,457.00 L121.37,402.60 L126.86,477.80 L132.35,544.20 L137.84,511.40 L143.33,522.60 L148.82,517.00 L154.31,538.60 L159.80,503.40 L165.29,559.40 L170.78,474.60 L176.27,364.20 L181.75,487.40 L187.24,445.80 L192.73,508.20 L198.22,458.60 L203.71,417.00 L209.20,481.00 L214.69,405.80 L220.18,332.20 L225.67,313.00 L231.16,300.20 L236.65,293.80 L242.14,370.60 L247.63,421.80 L253.12,345.00 L258.61,300.20 L264.10,260.20 L269.59,421.80 L275.08,308.20 L280.57,260.20 L286.06,169.00 L291.55,201.00 L297.04,169.00 L302.53,305.00 L308.02,340.20 L313.51,349.80 L319.00,380.20 L324.49,421.80 L329.98,455.40 L335.47,422.60 L340.96,465.00 L346.45,410.60 L351.94,388.20 L357.43,386.60 L362.92,329.00 L368.41,274.60 L373.90,383.40 L379.39,383.40 L384.88,324.20 L390.37,282.60 L395.86,273.00 L401.35,278.60 L406.84,274.60 L412.33,268.20 L417.82,348.20 L423.31,321.00 L428.80,298.60 L434.29,290.60 L439.78,297.00 L445.27,263.40 L450.76,317.80 L456.24,269.80 L461.73,245.80 L467.22,228.20 L472.71,210.60 L478.20,193.00 L483.69,245.00 L489.18,282.60 L494.67,221.80 L500.16,165.80 L505.65,119.40 L511.14,252.20 L516.63,375.40 L522.12,316.20 L527.61,257.00 L533.10,199.40 L538.59,140.20 L544.08,241.00 L549.57,282.60 L555.06,188.20 L560.55,247.40 L566.04,327.40 L571.53,370.60 L577.02,338.60 L582.51,311.40 L588.00,314.60 L593.49,293.00 L598.98,370.60 L604.47,383.40 L609.96,313.00 L615.45,258.60 L620.94,233.00 L624.00,233.00" fill="none" stroke="#000" stroke-width="1.7" stroke-linejoin="miter" stroke-miterlimit="6"/></g>
</svg>
<div id="title"></div>
<div id="norm"></div>
<span class="tw" style="left:249.90px;top:11px;transform:scaleX(0.9053)">TEMPERATURES</span>
<span class="tw" style="left:376.05px;top:11px;transform:scaleX(0.8495)">MAXIMALES</span>
<span class="tw" style="left:468.85px;top:11px;transform:scaleX(0.9462)">OBSERVEES</span>
<span class="tw" style="left:286.45px;top:31px;transform:scaleX(0.9535)">POUR</span>
<span class="tw" style="left:336.59px;top:31px;transform:scaleX(0.8100)">LA</span>
<span class="tw" style="left:360.98px;top:31px;transform:scaleX(0.9194)">STATION</span>
<span class="tw" style="left:431.73px;top:31px;transform:scaleX(0.9737)">DE</span>
<span class="tw" style="left:460.57px;top:31px;transform:scaleX(0.8268)">COLMAR</span>
<span class="nw" style="left:300.60px;top:94px;transform:scaleX(1.3039)">Normale</span>
<span class="nw" style="left:376.80px;top:94px;transform:scaleX(1.4769)">du</span>
<span class="nw" style="left:405.22px;top:94px;transform:scaleX(1.2240)">jour</span>
<span class="nw" style="left:443.20px;top:94px;transform:scaleX(1.0000)">:</span>
<span class="nw" style="left:457.90px;top:94px;transform:scaleX(1.2561)">25,5°C</span>
<div class="yl" style="top:75px">41</div>
<div class="yl" style="top:91px">40</div>
<div class="yl" style="top:107px">39</div>
<div class="yl" style="top:123px">38</div>
<div class="yl" style="top:139px">37</div>
<div class="yl" style="top:155px">36</div>
<div class="yl" style="top:171px">35</div>
<div class="yl" style="top:187px">34</div>
<div class="yl" style="top:203px">33</div>
<div class="yl" style="top:219px">32</div>
<div class="yl" style="top:235px">31</div>
<div class="yl" style="top:251px">30</div>
<div class="yl" style="top:267px">29</div>
<div class="yl" style="top:283px">28</div>
<div class="yl" style="top:299px">27</div>
<div class="yl" style="top:315px">26</div>
<div class="yl" style="top:331px">25</div>
<div class="yl" style="top:347px">24</div>
<div class="yl" style="top:363px">23</div>
<div class="yl" style="top:379px">22</div>
<div class="yl" style="top:395px">21</div>
<div class="yl" style="top:411px">20</div>
<div class="yl" style="top:427px">19</div>
<div class="yl" style="top:443px">18</div>
<div class="yl" style="top:459px">17</div>
<div class="yl" style="top:475px">16</div>
<div class="yl" style="top:491px">15</div>
<div class="yl" style="top:507px">14</div>
<div class="yl" style="top:523px">13</div>
<div class="yl" style="top:539px">12</div>
<div class="yl" style="top:555px">11</div>
<div class="yl" style="top:571px">10</div>
<div class="xl" style="left:38.0px;top:590px">Sa 04/05</div>
<div class="xl" style="left:60.0px;top:590px">Me 08/05</div>
<div class="xl" style="left:81.9px;top:590px">Di 12/05</div>
<div class="xl" style="left:103.9px;top:590px">Je 16/05</div>
<div class="xl" style="left:125.8px;top:590px">Lu 20/05</div>
<div class="xl" style="left:147.8px;top:590px">Ve 24/05</div>
<div class="xl" style="left:169.8px;top:590px">Ma 28/05</div>
<div class="xl" style="left:191.7px;top:590px">Sa 01/06</div>
<div class="xl" style="left:213.7px;top:590px">Me 05/06</div>
<div class="xl" style="left:235.6px;top:590px">Di 09/06</div>
<div class="xl" style="left:257.6px;top:590px">Je 13/06</div>
<div class="xl" style="left:279.6px;top:590px">Lu 17/06</div>
<div class="xl" style="left:301.5px;top:590px">Ve 21/06</div>
<div class="xl" style="left:323.5px;top:590px">Ma 25/06</div>
<div class="xl" style="left:345.4px;top:590px">Sa 29/06</div>
<div class="xl" style="left:367.4px;top:590px">Me 03/07</div>
<div class="xl" style="left:389.4px;top:590px">Di 07/07</div>
<div class="xl" style="left:411.3px;top:590px">Je 11/07</div>
<div class="xl" style="left:433.3px;top:590px">Lu 15/07</div>
<div class="xl" style="left:455.2px;top:590px">Ve 19/07</div>
<div class="xl" style="left:477.2px;top:590px">Ma 23/07</div>
<div class="xl" style="left:499.1px;top:590px">Sa 27/07</div>
<div class="xl" style="left:521.1px;top:590px">Me 31/07</div>
<div class="xl" style="left:543.1px;top:590px">Di 04/08</div>
<div class="xl" style="left:565.0px;top:590px">Je 08/08</div>
<div class="xl" style="left:587.0px;top:590px">Lu 12/08</div>
<div class="xl" style="left:608.9px;top:590px">Ve 16/08</div>
<div class="xl" style="left:630.9px;top:590px">Ma 20/08</div>
<div class="xl" style="left:652.9px;top:590px">Sa 24/08</div>
<div class="xl" style="left:674.8px;top:590px">Me 28/08</div>
<div class="xl" style="left:696.8px;top:590px">Di 01/09</div>
</body></html>
